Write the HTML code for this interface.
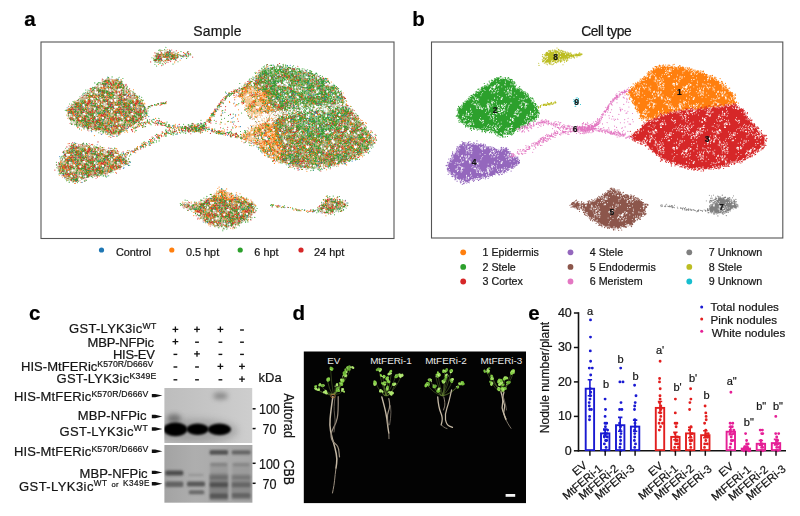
<!DOCTYPE html>
<html><head><meta charset="utf-8"><title>Figure</title>
<style>html,body{margin:0;padding:0;background:#fff;}body{width:800px;height:516px;overflow:hidden;font-family:"Liberation Sans",sans-serif;}svg{display:block;filter:blur(0.35px);}text{paint-order:stroke;stroke:#222;stroke-width:.22px}text.w{stroke:none}</style>
</head><body>
<svg width="800" height="516" viewBox="0 0 800 516" font-family="'Liberation Sans', sans-serif">
<defs>
<pattern id="pw" width="64" height="64" patternUnits="userSpaceOnUse"><path transform="scale(.1)" d="M13 31h0m21-11h0m49 13h0m0-2h0m43 0h0m2-30h0m7 33h0m1-1h0m13-1h0m2-7h0m93 14h0m82-20h0m14-15h0m16-3h0m8 26h0m11-21h0m6 15h0m11 8h0m0-19h0m10 0h0m13-6h0m1 31h0m5-27h0m22-1h0m5 3h0m1 27h0m7-23h0m10 17h0m12-15h0m6 4h0m5 8h0m7 0h0m10-27h0m59 35h0m6-8h0m8-23h0m4 31h0m7-1h0m7-16h0m13 9h0m13-2h0m13-8h0m4 6h0m-576 54h0m28-32h0m8 27h0m5-32h0m15 0h0m9 18h0m5-13h0m2 4h0m7-4h0m5 7h0m1 4h0m21-16h0m84 22h0m10-14h0m9 18h0m10 3h0m14-18h0m4-5h0m2 27h0m8-21h0m1-6h0m0 23h0m21-15h0m97 20h0m13-5h0m3-28h0m6 16h0m24-4h0m11 16h0m2-6h0m18 5h0m11-9h0m8-13h0m7 3h0m1 27h0m1-1h0m1-21h0m9 23h0m16-24h0m0-1h0m8 17h0m4-16h0m7 9h0m4-11h0m8-9h0m13 15h0m1-16h0m10 8h0m4-4h0m4 6h0m-573 51h0m5 6h0m0 1h0m40-19h0m10 22h0m5-1h0m1-24h0m0 17h0m12-8h0m7 11h0m15 8h0m7-18h0m69 9h0m23-3h0m9-17h0m3-1h0m9-5h0m0 23h0m13-15h0m2 7h0m34 10h0m61 5h0m52-21h0m87-4h0m6-1h0m23-2h0m2 16h0m12-10h0m8 15h0m8-6h0m17-13h0m-552 37h0m1 3h0m4 22h0m1-14h0m19 6h0m0 16h0m4-21h0m2-14h0m5 3h0m24-3h0m7 2h0m47 30h0m0-9h0m2-5h0m3-8h0m3 9h0m4 9h0m32-10h0m9 12h0m8-27h0m14 24h0m53-19h0m61 25h0m23-10h0m2 8h0m27 1h0m6-19h0m1 22h0m1-32h0m13 17h0m6-15h0m4 14h0m19-12h0m71 28h0m15-31h0m7 31h0m5-1h0m23-15h0m-558 25h0m30-1h0m2 34h0m9 2h0m94-30h0m10 7h0m5-7h0m13 20h0m5-27h0m4 9h0m9-8h0m6 4h0m4-2h0m16 14h0m5-18h0m3 19h0m12-18h0m4 32h0m3 5h0m104-4h0m18-1h0m1-9h0m14 11h0m11-32h0m2 13h0m101 21h0m27-26h0m54 0h0m2 15h0m54 11h0m-627 35h0m8-26h0m14 11h0m8 16h0m1-2h0m2 6h0m24-4h0m0-2h0m6-29h0m24 30h0m19-11h0m70-12h0m5 20h0m2-3h0m10-1h0m0-25h0m6 14h0m5 15h0m2-14h0m3 17h0m16-24h0m1 1h0m1 24h0m3-20h0m2-2h0m3 7h0m3 17h0m87-34h0m9 9h0m7-11h0m1 18h0m2-10h0m85 16h0m4 13h0m31-10h0m19-26h0m10 18h0m43 10h0m30-23h0m4 4h0m58-3h0m-587 43h0m4-9h0m43 19h0m2-14h0m7 11h0m4-5h0m4 19h0m39 1h0m36-22h0m2 29h0m27-31h0m21 6h0m6-4h0m83 11h0m25-16h0m24 20h0m44 1h0m4-11h0m7-2h0m1-9h0m0 10h0m8 5h0m8 10h0m4-3h0m13-26h0m0 13h0m5-11h0m7 23h0m6 5h0m10-14h0m15 18h0m3-23h0m58 25h0m14-27h0m17-8h0m3 22h0m8-3h0m9-19h0m7 36h0m11-21h0m1-12h0m4-2h0m1 13h0m1 16h0m-612 19h0m20 24h0m76-10h0m0-3h0m1-3h0m29 11h0m14-28h0m5 3h0m3 14h0m11-12h0m3 30h0m1-18h0m0 7h0m17-9h0m23 14h0m99 7h0m7-18h0m11-13h0m86 4h0m20-1h0m10-1h0m5-2h0m27-5h0m3 32h0m81-21h0m8 26h0m2-30h0m18 26h0m0-5h0m1-26h0m4 11h0m5 13h0m9 0h0m4-25h0m1 16h0m2-16h0m3 30h0m-616 20h0m58 16h0m15 1h0m7 2h0m12 5h0m14-7h0m10-28h0m5 16h0m2 9h0m7-1h0m7-8h0m53-16h0m3 26h0m6 3h0m8-3h0m20 4h0m9 8h0m10-30h0m8 22h0m0-9h0m2 10h0m4-16h0m28 13h0m158-9h0m1 3h0m26 8h0m24-26h0m22 18h0m1-9h0m4 4h0m77-2h0m-551 29h0m27 24h0m14-12h0m1 7h0m12 3h0m14 4h0m9 5h0m92 0h0m10-11h0m11-18h0m26 13h0m17-18h0m7 37h0m87-6h0m5-31h0m8 34h0m28-26h0m5 28h0m6-22h0m4 0h0m10 10h0m23-7h0m77 16h0m23 3h0m43-6h0m2-1h0m-554 21h0m12 0h0m0-4h0m4 18h0m1 5h0m0 4h0m2-33h0m10 22h0m23 4h0m3 3h0m1-14h0m2 3h0m10 8h0m14-28h0m100 3h0m19 4h0m4 11h0m3 12h0m12-28h0m1 18h0m5-6h0m10 9h0m10-2h0m10 13h0m24 4h0m33-34h0m2 16h0m1-12h0m4 5h0m8-13h0m14 5h0m2 11h0m9 11h0m18-9h0m37-17h0m11 24h0m2-10h0m7 20h0m4 4h0m4-27h0m2 20h0m21-16h0m5 11h0m4 8h0m4-3h0m0-12h0m8 4h0m5-13h0m3 28h0m1-25h0m1 22h0m6-18h0m2-12h0m27 27h0m4-13h0m6-8h0m-579 65h0m6-3h0m10-8h0m6-10h0m1-5h0m2 27h0m7-18h0m4-2h0m63-16h0m52 31h0m0 4h0m3 1h0m38-24h0m2-10h0m9 28h0m53-31h0m2 4h0m25-2h0m28 9h0m32-9h0m4-2h0m4 29h0m21-20h0m1 18h0m2-14h0m2-7h0m2-7h0m57 38h0m2-4h0m13-19h0m26-3h0m2 13h0m5-2h0m11-14h0m6 7h0m3 2h0m8 13h0m3 1h0m6-16h0m3 8h0m2-6h0m8-1h0m2 11h0m24 4h0m5-23h0m-577 56h0m10-19h0m11-1h0m4 25h0m6 8h0m4-37h0m3 35h0m4-9h0m1 11h0m8-29h0m14-7h0m6-2h0m60 30h0m27 2h0m6-32h0m1 20h0m4 15h0m15-7h0m4 6h0m16-33h0m11 37h0m5-24h0m133-10h0m28 32h0m14-17h0m1 14h0m9-22h0m30 4h0m15-6h0m2-2h0m3 8h0m10 4h0m0-18h0m3 20h0m16-16h0m19 21h0m24-7h0m19-11h0m17 23h0m-581 47h0m3-12h0m2 1h0m5 10h0m7-21h0m38-13h0m67 36h0m17-15h0m24-11h0m1 3h0m20 5h0m19 14h0m22-33h0m88 32h0m8-18h0m97 15h0m3-29h0m5 13h0m6 11h0m19 6h0m0-18h0m3-4h0m3 21h0m1-30h0m23 15h0m142 9h0m1-8h0m0 7h0m4 5h0m-629 15h0m1 1h0m2 0h0m13 7h0m87 23h0m28-23h0m21-1h0m7-3h0m3 5h0m9-11h0m5 1h0m2 4h0m23 29h0m10-3h0m6 4h0m2-12h0m6-21h0m14 16h0m3-17h0m10 28h0m65-30h0m7 5h0m10 7h0m11 19h0m8-8h0m100-14h0m16 12h0m15-17h0m18 27h0m28-11h0m65-12h0m22 10h0m-613 33h0m1 24h0m75-13h0m15-1h0m15 16h0m19-29h0m11 19h0m9-16h0m51-5h0m6 16h0m0-20h0m3 17h0m4 15h0m7-33h0m32 5h0m5-4h0m102 28h0m26 2h0m7-20h0m10-9h0m13 18h0m5-4h0m18 11h0m5-6h0m10-11h0m12 22h0m1 3h0m8 2h0m0-20h0m6 2h0m9 15h0m6-35h0m17 35h0m4 2h0m1-19h0m1 4h0m17-10h0m74 24h0m22-15h0m3-7h0m1 21h0m-48 4h0" stroke="#fff" stroke-width="9.0" stroke-linecap="round" fill="none"/><path transform="scale(.1)" d="M157 19h0m6 6h0m259 11h0m56-33h0m125 5h0m-306 61h0m266 3h0m10-28h0m-519 59h0m61-22h0m398 19h0m-476 46h0m62-9h0m192-14h0m-89 65h0m133 8h0m34 8h0m84 28h0m14-1h0m3-16h0m37-7h0m-367 71h0m460-11h0m-416 49h0m25-37h0m9 53h0m75 20h0m241-2h0m-94 36h0m-301 15h0m131 1h0m131 31h0m0-15h0m137-6h0m-220 28h0m21 7h0m163 12h0m35 13h0m-506 30h0m174-7h0m244 19h0m70-29h0m-512 72h0m142-32h0m201 40h0m272 14h0m-413 55h0m20-33h0m402 35h0" stroke="#fff" stroke-width="17.0" stroke-linecap="round" fill="none"/></pattern>
<pattern id="pm" width="48" height="48" patternUnits="userSpaceOnUse"><rect width="48" height="48" fill="#a9ae7a"/><path transform="scale(.1)" d="M352 10h0m122-6h0m-465 66h0m46-10h0m264-18h0m59 27h0m0-2h0m9 3h0m3-26h0m76 32h0m-455 41h0m200-28h0m13-6h0m4 19h0m216-7h0m-429 28h0m6 13h0m31 6h0m3 12h0m49-21h0m68 16h0m7-22h0m15 27h0m166 4h0m25-13h0m37 7h0m25-19h0m-357 27h0m18 27h0m223-1h0m4 9h0m-300 42h0m13-1h0m7 2h0m233-27h0m109 7h0m23 2h0m38-8h0m-376 51h0m82-19h0m37 35h0m35-24h0m11-6h0m41 17h0m44-1h0m35-4h0m14-17h0m8-2h0m41 26h0m-384 28h0m108 3h0m4 3h0m27 6h0m24 3h0m45-13h0m7 6h0m12-18h0m37 16h0m7 11h0m6 3h0m-241 7h0m108 11h0m77 13h0m108 9h0m14-19h0m7 16h0m5 5h0m15-20h0m26-12h0m15 15h0m9 10h0m-360 16h0m115 10h0m132-8h0m3 7h0m-320 43h0m105 2h0m200-6h0m99 15h0m-440 11h0m44 37h0m68-20h0m44-2h0m97-5h0m111-1h0m25-2h0m51 14h0m11-17h0" stroke="#1f77b4" stroke-width="11.5" stroke-linecap="round" fill="none"/><path transform="scale(.1)" d="M6 35h0m0-7h0m6 11h0m0-32h0m1 4h0m9 25h0m0-27h0m11 7h0m70-8h0m11 12h0m20-3h0m20 6h0m4 0h0m8-11h0m138-9h0m85 14h0m4 17h0m30-14h0m5 9h0m7 1h0m25-8h0m5-17h0m-411 38h0m2 21h0m22 9h0m26-5h0m7-2h0m0-21h0m29-3h0m5 23h0m1 0h0m46-13h0m17 9h0m9 11h0m7-22h0m0 12h0m7 6h0m2 8h0m19-26h0m57-1h0m43 26h0m20-29h0m8 20h0m2-23h0m5 24h0m13-14h0m19 10h0m8-2h0m22 15h0m21 0h0m2-12h0m7-2h0m-478 53h0m15-13h0m6-15h0m5-5h0m46 36h0m4-5h0m12-22h0m9-2h0m64 11h0m65-4h0m57-16h0m2 14h0m18 15h0m65-25h0m1 26h0m14-21h0m2 17h0m9-10h0m15 9h0m27 10h0m10-2h0m17-4h0m8-5h0m7-5h0m-451 27h0m132 21h0m2-18h0m0 3h0m9-7h0m5 27h0m24-7h0m15-7h0m41 2h0m7 6h0m1-19h0m4 20h0m14-22h0m42 14h0m57 7h0m11-6h0m14-4h0m10 11h0m10 10h0m28-28h0m25 17h0m-422 29h0m12 24h0m0-20h0m19-13h0m3 28h0m3-30h0m2 14h0m22-13h0m29-4h0m15 0h0m6 15h0m6-4h0m22 5h0m50-15h0m18 27h0m64-21h0m6-6h0m8 34h0m73-11h0m49 12h0m-460 28h0m13-25h0m5 25h0m0-16h0m2 13h0m10-7h0m39 15h0m79-1h0m38 0h0m15 0h0m17 5h0m36-21h0m44 20h0m2-16h0m10-10h0m21 0h0m11-7h0m13 14h0m40 18h0m1-9h0m0-1h0m4 9h0m54-12h0m2 4h0m11-7h0m3 10h0m-468 40h0m1-21h0m10-5h0m0 24h0m2 3h0m0 11h0m52-24h0m1 18h0m1-30h0m50 8h0m15 6h0m12 17h0m9 3h0m12 2h0m32-23h0m66 2h0m12 9h0m21-18h0m15 13h0m2-2h0m13 10h0m68 7h0m2-5h0m16 4h0m2-20h0m38-5h0m16-7h0m3 24h0m-477 48h0m55-9h0m20-16h0m19-3h0m1-1h0m78-6h0m13 13h0m1 5h0m51-9h0m36-2h0m11 2h0m39-8h0m17 35h0m2-32h0m23 0h0m15 3h0m31-4h0m16 2h0m-401 66h0m14-18h0m35-11h0m35 18h0m1-2h0m13 14h0m16-22h0m2 1h0m22-5h0m63 15h0m17-4h0m21 4h0m17 9h0m47-4h0m26-21h0m38 16h0m21 5h0m14-11h0m15 9h0m-412 48h0m5 5h0m30-17h0m4 11h0m39-15h0m6 11h0m2-25h0m8 2h0m28 18h0m2-15h0m16-5h0m2 31h0m16 6h0m33-1h0m99-12h0m19-21h0m15 13h0m30 15h0m39-17h0m10-15h0m30 20h0m-464 43h0m3-18h0m12-6h0m6 7h0m2-3h0m11-4h0m7 28h0m13-6h0m48 7h0m21-3h0m61 7h0m27-6h0m18 11h0m10-33h0m5 19h0m2-16h0m24 8h0m23 10h0m60-10h0m30-6h0m70 12h0m9 13h0m-442 31h0m3-13h0m9 20h0m9-1h0m2-18h0m3-10h0m59 18h0m15-4h0m1-15h0m6 18h0m15 7h0m1-11h0m20-15h0m27 26h0m27 9h0m4-17h0m15-14h0m15 33h0m52-24h0m14 16h0m11 3h0m21 2h0m39-27h0m22 29h0m19-28h0m4 6h0m9 15h0m10-16h0m23 21h0" stroke="#ff7f0e" stroke-width="11.5" stroke-linecap="round" fill="none"/><path transform="scale(.1)" d="M4 18h0m4 21h0m21-28h0m5 8h0m77 14h0m1-13h0m7-9h0m41 27h0m1-8h0m34-24h0m28 14h0m7 9h0m13-11h0m22-3h0m2 8h0m37 13h0m9-9h0m29 1h0m7 7h0m21-8h0m1-15h0m47 1h0m29 12h0m2 14h0m4-14h0m5-6h0m-453 23h0m16 19h0m9-11h0m3-9h0m10 28h0m54-22h0m0 22h0m1 10h0m13-20h0m14-3h0m16 1h0m0-2h0m33 16h0m5-24h0m4 2h0m5 26h0m15-11h0m5 10h0m4-18h0m15 17h0m5-5h0m0-13h0m41 24h0m20-6h0m6-29h0m3 33h0m2-33h0m13 34h0m1-30h0m20 27h0m11-14h0m15 3h0m0 10h0m21 0h0m6-33h0m15 17h0m17 0h0m5 0h0m18-9h0m12 18h0m3-26h0m1 4h0m-459 53h0m1 14h0m4 6h0m25-12h0m1 11h0m16-7h0m12-21h0m1-1h0m20 11h0m10 9h0m7 7h0m43-1h0m16-6h0m28 0h0m14-16h0m1 9h0m0-14h0m7-2h0m3 3h0m11 30h0m2-9h0m13-9h0m8-10h0m6-3h0m10 14h0m11-14h0m1 18h0m1 1h0m3-15h0m9 25h0m10-31h0m7 30h0m4-26h0m16-1h0m7-4h0m0 29h0m6-11h0m13-8h0m10-8h0m31 28h0m8-24h0m4 16h0m6-5h0m27 12h0m5-16h0m28 19h0m-451 6h0m7 14h0m3 1h0m20-14h0m19 10h0m16-11h0m10 32h0m3-26h0m7 14h0m8 10h0m2 3h0m2 3h0m23-29h0m13 26h0m11 4h0m5-10h0m13-29h0m20 1h0m6 31h0m0 4h0m2-23h0m21 0h0m8-8h0m23 17h0m2-9h0m4-3h0m0 9h0m5-4h0m3-7h0m2 14h0m11 1h0m4-19h0m27 33h0m5-31h0m1 3h0m6 21h0m13-20h0m27 23h0m0-2h0m4 3h0m11-1h0m10 0h0m7-28h0m10 10h0m28 7h0m14 6h0m2-2h0m3-2h0m1-5h0m8 19h0m1-12h0m-458 48h0m10-17h0m14 0h0m6-9h0m0 27h0m8-34h0m7 30h0m9-21h0m2 6h0m9 14h0m1-6h0m6-11h0m22-6h0m2 18h0m8-7h0m22-1h0m17-16h0m3 33h0m21-19h0m7-13h0m53 0h0m23-2h0m2 4h0m12 5h0m35 8h0m24-6h0m7 5h0m2-12h0m2 14h0m2-2h0m4-2h0m9-9h0m2 33h0m2-11h0m22-11h0m17-9h0m10 12h0m18-13h0m6 9h0m6-9h0m2-3h0m11-1h0m-446 57h0m9-10h0m1-7h0m8 0h0m7 10h0m4 3h0m12 11h0m2-26h0m4 1h0m121 24h0m15 12h0m13-12h0m35 6h0m21-5h0m15-24h0m2 35h0m3-30h0m3 12h0m12 5h0m12-12h0m5-9h0m4 19h0m72 7h0m11-8h0m4 11h0m2-4h0m10-15h0m8-11h0m19 17h0m15 3h0m-449 44h0m40-6h0m18-6h0m2 1h0m0-9h0m18 16h0m20-15h0m17-4h0m3 13h0m11 4h0m33-13h0m26 20h0m33-10h0m3-15h0m37 12h0m6 22h0m9-17h0m8 12h0m9-29h0m3 17h0m0 6h0m9-21h0m0 7h0m8 3h0m10-7h0m20 31h0m6-27h0m12 1h0m5-8h0m5 18h0m1-6h0m6 7h0m1-22h0m3 1h0m7 9h0m5-8h0m4 14h0m-406 39h0m11-10h0m29 9h0m5-14h0m14 36h0m26-6h0m1-16h0m3 14h0m5-5h0m5 8h0m45-21h0m2-9h0m7 3h0m8-1h0m21 13h0m17-10h0m3 26h0m2-31h0m7 19h0m23 4h0m31-9h0m5 0h0m8 15h0m5 7h0m8-29h0m10 22h0m7-6h0m7-3h0m17 6h0m7-3h0m31-6h0m3-10h0m16 24h0m56 1h0m9-15h0m17-9h0m-472 52h0m16 17h0m0-25h0m7 2h0m2 19h0m1 4h0m1-33h0m6 24h0m28 2h0m3-1h0m0-1h0m17-14h0m3-1h0m2-9h0m7-6h0m7 7h0m13 18h0m7 14h0m13-7h0m1-5h0m4 4h0m5 2h0m20-3h0m2 8h0m12-9h0m4-18h0m12 5h0m23-9h0m5 15h0m31 1h0m1 8h0m21-12h0m7 4h0m6-8h0m9-2h0m25 24h0m13-29h0m10 8h0m3 9h0m3 4h0m2 7h0m3-16h0m2 5h0m0 4h0m3-21h0m5-3h0m12 0h0m13-2h0m8 12h0m9 12h0m33-18h0m15 15h0m10-5h0m13-6h0m-446 54h0m4-19h0m17 6h0m21-7h0m5-4h0m24 10h0m4-6h0m4 7h0m37-1h0m0 22h0m42-34h0m33 36h0m29-15h0m11-12h0m14 9h0m20 1h0m35 17h0m6-17h0m8-12h0m2 5h0m16-4h0m13-1h0m1 11h0m1-4h0m3 6h0m29 9h0m4-22h0m12-4h0m7 12h0m17-4h0m19 24h0m-465 27h0m7-5h0m2-17h0m23 20h0m38-21h0m19 6h0m21 16h0m2-9h0m1 25h0m6 0h0m15-29h0m2 30h0m1-32h0m6 6h0m3 10h0m2-3h0m2-7h0m7 9h0m24-22h0m31 7h0m0-3h0m10 27h0m1-14h0m1-15h0m10 3h0m2 32h0m6-25h0m14 2h0m3-14h0m5 31h0m1-9h0m3 10h0m6-20h0m5-8h0m0-3h0m53 17h0m0-18h0m20 7h0m31 24h0m3-3h0m1-8h0m14-7h0m8 25h0m7-28h0m47 16h0m2 9h0m7-11h0m-442 53h0m2-8h0m6-9h0m7-16h0m0 16h0m26-4h0m9-8h0m1 23h0m19-16h0m12-5h0m1 20h0m11-12h0m9 7h0m9-19h0m1 29h0m19-6h0m2-4h0m3 9h0m3-2h0m5-25h0m5 8h0m7 2h0m8 15h0m14-10h0m6 11h0m19 6h0m5-4h0m13-30h0m2 33h0m8-29h0m1 1h0m2-9h0m4 19h0m9-1h0m1-8h0m15 14h0m4 5h0m1-30h0m6 12h0m7 17h0m0 6h0m4-33h0m8 10h0m1 8h0m7 1h0m52 5h0m3 13h0m71-7h0m4 4h0m4-25h0" stroke="#2ca02c" stroke-width="11.5" stroke-linecap="round" fill="none"/><path transform="scale(.1)" d="M5 31h0m5 5h0m2-14h0m11 3h0m15 4h0m20-11h0m2 2h0m7 7h0m66 4h0m74-27h0m0 20h0m4-5h0m14-15h0m0 13h0m4 5h0m82 0h0m30-5h0m50 11h0m7-27h0m6 34h0m17-5h0m43-26h0m-462 60h0m7-19h0m12 34h0m11-17h0m11-5h0m13 0h0m4 22h0m1-3h0m7-20h0m19 20h0m85-24h0m47 26h0m25-23h0m9 20h0m2-14h0m34-6h0m14 12h0m26-27h0m23 32h0m19-14h0m12-5h0m29 0h0m8-13h0m20 5h0m10-3h0m1 23h0m2 1h0m17-26h0m1 11h0m-469 37h0m8 22h0m1-2h0m16-15h0m21 0h0m21-7h0m29 0h0m28 16h0m60 11h0m2-23h0m5-4h0m17-1h0m5 17h0m101-20h0m38 7h0m29 14h0m2 12h0m26-23h0m23-4h0m20-3h0m0 2h0m4-3h0m-414 46h0m18 26h0m17-35h0m9 30h0m14 8h0m10-2h0m34-15h0m11 11h0m12-25h0m9 13h0m18-17h0m105 11h0m10-2h0m3 13h0m15-25h0m5 19h0m14 18h0m27-38h0m28 31h0m20 3h0m1-25h0m28 9h0m-423 46h0m17-2h0m20-7h0m8 0h0m24 15h0m5-23h0m14-1h0m14 10h0m3 15h0m9-15h0m11 17h0m27 1h0m16-31h0m8 29h0m36 4h0m60-32h0m18-3h0m1 29h0m23-21h0m29 11h0m56 11h0m26-2h0m21-5h0m-465 52h0m11-30h0m14 20h0m11-15h0m14 17h0m1-8h0m35 11h0m20-20h0m34 4h0m18 8h0m1 11h0m62-13h0m3 12h0m76 2h0m17-12h0m47-1h0m8 4h0m0 8h0m5-14h0m37 7h0m2-12h0m13-13h0m26 2h0m-452 54h0m43 20h0m14-3h0m17-24h0m118 4h0m32 4h0m5-8h0m55-2h0m19 26h0m25-26h0m25-5h0m29 0h0m1 17h0m13 0h0m9 2h0m9 16h0m12-33h0m8 14h0m16 7h0m-432 28h0m1-5h0m17 3h0m34 17h0m12-27h0m9 18h0m8 13h0m30-32h0m33 12h0m8 25h0m22-39h0m8 14h0m52-4h0m19 15h0m10-15h0m10 14h0m9 11h0m34-3h0m16 2h0m46-23h0m-406 43h0m14 10h0m49-20h0m11 31h0m9 2h0m6-28h0m16 2h0m18 15h0m7-25h0m9 3h0m1 16h0m12-9h0m0 25h0m19-15h0m9 5h0m3 11h0m30-21h0m32 7h0m1 14h0m2-33h0m44 4h0m67 13h0m5-7h0m2-13h0m37 30h0m20 3h0m7-1h0m38-15h0m-426 54h0m2 5h0m3-33h0m12 8h0m9 15h0m15-23h0m34-1h0m26 2h0m6 5h0m12-2h0m11 26h0m0-16h0m3 16h0m11 3h0m0-4h0m76-22h0m0-3h0m10 17h0m15 9h0m5-32h0m23 28h0m13-5h0m15-14h0m26-9h0m29 10h0m8 24h0m17-20h0m44-9h0m8-6h0m-448 73h0m31-28h0m9-3h0m2 5h0m29 6h0m27 24h0m3-36h0m3 29h0m12 2h0m12-2h0m16 0h0m3-3h0m16-8h0m53 0h0m10 13h0m16 5h0m3-32h0m12 28h0m55-5h0m5-25h0m11-3h0m6 10h0m18-2h0m1 6h0m11 2h0m52 9h0m5-5h0m20 4h0m1 12h0m-450 38h0m50 4h0m5-1h0m0-4h0m12-8h0m0-4h0m9 0h0m5-8h0m9 23h0m62-12h0m3-16h0m23 22h0m2-16h0m0 8h0m45-15h0m11 7h0m5-1h0m45 5h0m0 16h0m7-18h0m1 10h0m14-23h0m1 2h0m60 4h0m16 24h0m5-16h0m38-17h0" stroke="#d62728" stroke-width="11.5" stroke-linecap="round" fill="none"/><path transform="scale(.1)" d="M8 24h0m7-15h0m25-6h0m16 33h0m24 2h0m41-11h0m2-12h0m8 23h0m28-4h0m1-22h0m9 3h0m25 6h0m1-20h0m8 18h0m12 6h0m4-22h0m2 27h0m1-24h0m8 21h0m7 8h0m2-28h0m83 13h0m50 3h0m49 16h0m7-22h0m12 21h0m3-10h0m14-1h0m14 8h0m6-5h0m2-10h0m-450 54h0m8-22h0m1 11h0m16 4h0m10-23h0m38 24h0m3-24h0m35 12h0m6 14h0m43-13h0m27 9h0m18 8h0m14-32h0m40 25h0m2-4h0m72 14h0m27-24h0m12 25h0m58-1h0m-445 14h0m73 19h0m15-17h0m17 2h0m12 1h0m31 17h0m12-28h0m74 27h0m5-18h0m6 21h0m2-35h0m6 30h0m19 7h0m9-12h0m2 5h0m23-22h0m28-5h0m0 15h0m2 9h0m35-7h0m5-19h0m2 3h0m1 25h0m5 8h0m32-17h0m13-7h0m8-12h0m2 5h0m-450 73h0m54-4h0m14-30h0m1 26h0m4-31h0m19 8h0m12 21h0m24 7h0m9-8h0m14-18h0m4-4h0m31 0h0m8 11h0m15 1h0m4 8h0m48 7h0m88 6h0m14-1h0m13-21h0m21-11h0m21 23h0m1-22h0m1-6h0m18 35h0m6-16h0m22 11h0m-458 23h0m42-11h0m6 14h0m18 2h0m37 1h0m9-4h0m2 20h0m21-22h0m3-2h0m6-7h0m9 28h0m8-33h0m31 18h0m19-12h0m89 33h0m28-22h0m1 16h0m38-28h0m40 15h0m14-15h0m8-5h0m3 14h0m10 9h0m10-18h0m-437 39h0m13 22h0m49-21h0m2 33h0m22-32h0m30 27h0m52-19h0m26-9h0m25 11h0m55 19h0m4-21h0m21 1h0m89 12h0m2 9h0m13 2h0m5-25h0m2-6h0m4 0h0m17 31h0m-441 40h0m7-38h0m16 32h0m9-19h0m12-9h0m0 11h0m3 6h0m21 14h0m2-26h0m2 0h0m7 6h0m25-14h0m24 24h0m10-6h0m21-14h0m6 1h0m52 12h0m5 9h0m14-20h0m18 10h0m32-16h0m14 6h0m23 11h0m2-2h0m16-14h0m0 13h0m20 24h0m33-18h0m20-16h0m-404 61h0m12-23h0m77 2h0m114 17h0m16 17h0m10-3h0m17-23h0m1-5h0m25 9h0m3-11h0m2-3h0m26 9h0m49-3h0m61 30h0m4-5h0m12 1h0m5 4h0m9-13h0m-458 51h0m15 1h0m3-18h0m7 0h0m25 4h0m2-10h0m6-10h0m11 33h0m4-35h0m6 27h0m6-5h0m12 3h0m0-10h0m21 9h0m38-23h0m10 25h0m8-13h0m15 15h0m3-8h0m22-9h0m7 2h0m74 1h0m29 11h0m2 5h0m11-9h0m26-1h0m6-13h0m2 1h0m0-7h0m19 19h0m6-9h0m10 20h0m1-20h0m3-8h0m12 24h0m25-29h0m9 31h0m-440 15h0m24 27h0m4-33h0m6 29h0m5-25h0m108 30h0m37-28h0m7 5h0m4 22h0m38-8h0m2-1h0m2 12h0m12-3h0m46-5h0m1-26h0m20 22h0m13-1h0m2 3h0m27-10h0m39-4h0m27-1h0m6-1h0m19-2h0m-463 38h0m0 18h0m35-1h0m11-21h0m15 25h0m67 4h0m6 2h0m6-6h0m56-20h0m37 19h0m22 13h0m20-15h0m39 13h0m44-36h0m22 30h0m11-11h0m45-9h0m-427 32h0m3 32h0m2 0h0m47-31h0m3 33h0m4-12h0m13-17h0m51 21h0m4-22h0m4 2h0m12 16h0m14-19h0m17 14h0m48 7h0m52-5h0m9-14h0m5 9h0m29-11h0m80-1h0m2 23h0m12 10h0m15-31h0" stroke="#d62728" stroke-width="11.5" stroke-linecap="round" fill="none"/><path transform="scale(.1)" d="M118 18h0m0 13h0m142-28h0m173 14h0m-371 44h0m41-18h0m132 21h0m8-17h0m74 15h0m36 9h0m32-6h0m2-10h0m20 20h0m5-34h0m-380 43h0m12 27h0m41 1h0m22-5h0m107-25h0m63 15h0m29-10h0m45 8h0m20 4h0m-267 55h0m51-1h0m130-17h0m168-16h0m-449 68h0m22 5h0m51-5h0m18 6h0m127-27h0m86 7h0m32 7h0m-319 58h0m13-3h0m112-10h0m8-7h0m138-8h0m4 15h0m15-14h0m135 23h0m-356 9h0m29 19h0m30-6h0m135-5h0m24-7h0m33 10h0m24 20h0m84-18h0m-401 35h0m59-12h0m84 8h0m67 6h0m52-11h0m170-1h0m-424 69h0m57-31h0m26 0h0m21 16h0m23 19h0m9-33h0m0 8h0m146 2h0m12 15h0m90-3h0m32-5h0m-333 24h0m204 15h0m4 12h0m27-14h0m28 18h0m46-30h0m-441 39h0m61 18h0m36-3h0m41-12h0m55 9h0m100-9h0m62 26h0m3-29h0m27 9h0m-290 61h0m33-33h0m3 8h0m66 25h0m39 2h0" stroke="#1f77b4" stroke-width="11.5" stroke-linecap="round" fill="none"/><path transform="scale(.1)" d="M69 31h0m36-29h0m6 18h0m3 9h0m9 5h0m45-5h0m7 4h0m0-8h0m40 5h0m9-16h0m17-13h0m0 9h0m50 0h0m16 10h0m52 17h0m40-8h0m11 6h0m11-3h0m23-18h0m-443 47h0m0 12h0m41 0h0m33-26h0m2 30h0m4-32h0m10 8h0m49-8h0m16-3h0m1 8h0m13 26h0m4-8h0m15-11h0m4 3h0m11-10h0m21-8h0m30 5h0m9 32h0m22-6h0m27-15h0m38 11h0m13 0h0m6-18h0m29 8h0m16 13h0m27 2h0m3-3h0m32-18h0m-449 30h0m46 22h0m11-23h0m16 18h0m75 13h0m32 5h0m0-37h0m8 32h0m21-16h0m13-5h0m11 21h0m7-14h0m9 1h0m13-18h0m3 8h0m14 20h0m5-4h0m48 1h0m12 10h0m9-14h0m25 5h0m3 2h0m11-9h0m18 16h0m-337 11h0m7 29h0m36-22h0m8-3h0m9 19h0m3-21h0m34-1h0m43 10h0m0-15h0m16 14h0m39-12h0m13 19h0m12 11h0m0-20h0m29-4h0m5 10h0m34 0h0m62-14h0m2-3h0m-440 64h0m6 10h0m34-7h0m23-29h0m22 2h0m17 1h0m14 1h0m87-4h0m16 21h0m18 14h0m2-6h0m3-24h0m31 29h0m11-2h0m46-25h0m1-5h0m21 34h0m41-8h0m35-13h0m10 17h0m23-4h0m0 3h0m-467 33h0m47-22h0m13 13h0m54-16h0m27-2h0m10 6h0m2 5h0m40 14h0m57-3h0m59 17h0m13-21h0m1-1h0m1-10h0m3 23h0m40-5h0m31 12h0m0-33h0m17 21h0m9 8h0m35 6h0m0-30h0m6-2h0m-427 41h0m21 8h0m2-10h0m2 15h0m1-18h0m6 3h0m22-2h0m11-2h0m13 8h0m9 7h0m10 22h0m3-17h0m11-4h0m34 14h0m45-11h0m45-12h0m10 27h0m34-28h0m29-2h0m21 8h0m21-13h0m15 0h0m3 15h0m5 11h0m23-15h0m2-1h0m7 5h0m24-10h0m-396 60h0m71-12h0m7-4h0m10 29h0m17-30h0m27 28h0m1-14h0m43-12h0m25-5h0m12 31h0m41-30h0m35 25h0m1 7h0m1-24h0m12-12h0m9 34h0m10-29h0m-354 46h0m27-1h0m24 25h0m4-1h0m16-30h0m7 11h0m21 7h0m39-18h0m3 8h0m2-5h0m12-10h0m14 20h0m82 19h0m11-39h0m39 29h0m8-11h0m2 18h0m4-27h0m4 24h0m1-15h0m11 11h0m69-6h0m23 4h0m8-14h0m-439 29h0m21 34h0m28-23h0m12-8h0m16-4h0m27 0h0m18 17h0m69 6h0m84 9h0m6 0h0m7-4h0m2-8h0m30-18h0m48 10h0m0-6h0m3 15h0m17-3h0m9 15h0m6-12h0m16-6h0m1 12h0m12-24h0m8 3h0m-475 63h0m28-11h0m10 19h0m51-23h0m3 15h0m15-6h0m7 13h0m8 0h0m26-23h0m9 20h0m13 5h0m2-38h0m1 38h0m71-8h0m21-8h0m8 14h0m3-15h0m3 3h0m3 10h0m21 3h0m2-31h0m5 3h0m11 28h0m20-9h0m11 1h0m7-16h0m96-7h0m19 32h0m-449 39h0m6-36h0m21 3h0m15 8h0m6 19h0m14 7h0m3-23h0m33-12h0m25 16h0m20-11h0m16 28h0m44-31h0m7 24h0m22-29h0m36 27h0m57-2h0m13-20h0m10-2h0m22 7h0m10 22h0m1-12h0m2 14h0m5-12h0m8 14h0m7-29h0m17 21h0" stroke="#ff7f0e" stroke-width="11.5" stroke-linecap="round" fill="none"/><path transform="scale(.1)" d="M11 13h0m5 10h0m13 8h0m5-9h0m4-1h0m26-16h0m22 19h0m11-6h0m20-5h0m11-10h0m13-1h0m2 36h0m4-16h0m6 5h0m4 7h0m32-33h0m16 38h0m1-10h0m3-25h0m7 0h0m10 11h0m5 7h0m6 8h0m5-18h0m22-8h0m3 14h0m13 8h0m8-15h0m2 14h0m13 4h0m2 3h0m8-19h0m5-12h0m6 30h0m1-22h0m77 3h0m4 16h0m1 11h0m18-38h0m5 9h0m7 24h0m8-12h0m28 14h0m-472 40h0m2-1h0m3-20h0m12 4h0m10 5h0m1 3h0m6 3h0m10-6h0m10-1h0m1-11h0m37-3h0m21 4h0m17-10h0m26-2h0m2 22h0m6-22h0m2 17h0m18-14h0m3 26h0m8-8h0m9-2h0m12 19h0m6-35h0m11 34h0m10 1h0m4-28h0m11 26h0m24-33h0m16 26h0m2-28h0m5 9h0m20-5h0m26 7h0m13 10h0m14 5h0m3-8h0m6-6h0m3-11h0m5 1h0m16 14h0m13-3h0m38 10h0m1-11h0m8 18h0m-461 31h0m12 1h0m21 2h0m28-15h0m9 23h0m6-20h0m8 5h0m9-9h0m4 11h0m5 6h0m11-24h0m2 4h0m55 23h0m24-18h0m6-1h0m8-11h0m4 31h0m30 7h0m2-8h0m1-3h0m5-3h0m1-19h0m15 15h0m4-7h0m3 20h0m13-20h0m8-13h0m11 30h0m3 1h0m9-22h0m6 13h0m6-14h0m9 26h0m28-15h0m29 8h0m10-14h0m1 18h0m0-10h0m2-4h0m5 6h0m12 3h0m8-9h0m8-15h0m4 24h0m4-19h0m14 28h0m-465 23h0m14-9h0m0 24h0m2-10h0m4-22h0m2 3h0m17 4h0m1 23h0m14-24h0m1 20h0m1-21h0m14 30h0m5-24h0m17-8h0m6 1h0m3 34h0m13-15h0m26-23h0m6 11h0m2 20h0m4-19h0m12 4h0m7 9h0m4-23h0m8 26h0m14-20h0m1 18h0m49 2h0m12-17h0m8 23h0m9-22h0m1 8h0m1-8h0m13-13h0m6 5h0m6 16h0m3 6h0m3-10h0m13 16h0m8-29h0m21 18h0m31-13h0m39 24h0m7-10h0m2 16h0m13-32h0m10 12h0m1 4h0m9 8h0m-466 39h0m1 5h0m8-2h0m6-9h0m8-9h0m12 1h0m2-4h0m7 22h0m10-27h0m3-4h0m20 17h0m5-6h0m3 1h0m8-9h0m9 6h0m40 25h0m41-21h0m25 4h0m14-1h0m7 11h0m8 7h0m20-25h0m8-3h0m3 25h0m14-20h0m44 12h0m3-23h0m28 2h0m2 26h0m54 3h0m5-22h0m35 18h0m-455 33h0m8 2h0m3-21h0m3 15h0m31 10h0m29-19h0m42 3h0m8 12h0m14 6h0m1 4h0m37-17h0m7 13h0m29-17h0m16 18h0m15-23h0m6-8h0m4 5h0m18 27h0m7-24h0m41 13h0m12-2h0m2-18h0m3 16h0m3 7h0m69 10h0m3-10h0m4-21h0m2 5h0m7 11h0m1 10h0m16-29h0m21 17h0m2-10h0m-461 50h0m18-1h0m29 2h0m10-1h0m22 4h0m8-17h0m21 4h0m10 7h0m9-2h0m25 23h0m21-35h0m13 33h0m9-21h0m1-1h0m3-2h0m21 7h0m2 6h0m1 1h0m1-11h0m9-7h0m3-7h0m11 19h0m10-17h0m1 12h0m13 21h0m0-25h0m6 17h0m18 10h0m2-8h0m17-15h0m0-10h0m19 4h0m11 23h0m8-4h0m9-27h0m11 28h0m21 7h0m18-15h0m33-12h0m4 16h0m7 2h0m1-7h0m3 6h0m0-18h0m11-3h0m-469 72h0m18-30h0m8 33h0m28-31h0m12 20h0m0 8h0m9 3h0m1-31h0m0 24h0m2-6h0m20-2h0m11 13h0m0-36h0m2 36h0m45-15h0m18 0h0m11-13h0m13-2h0m3 20h0m4 11h0m4-2h0m8-5h0m21-24h0m18 19h0m19-12h0m14 15h0m22-28h0m7-1h0m34 24h0m16-13h0m3 28h0m9-35h0m9 25h0m0 4h0m3-32h0m3 17h0m0 17h0m3-34h0m4 25h0m10-18h0m5 6h0m7 4h0m17 19h0m2-25h0m4 22h0m1 3h0m-451 14h0m37-5h0m14-6h0m7 7h0m25 15h0m14-17h0m5 11h0m3 19h0m4-22h0m2 5h0m6 3h0m10 16h0m6-29h0m7-2h0m40 25h0m1 3h0m6-19h0m5 4h0m8-12h0m5 23h0m2-24h0m2 22h0m8-8h0m28 12h0m7-1h0m7-10h0m3 9h0m17-19h0m2-10h0m55 19h0m4-15h0m1 24h0m4-22h0m4 12h0m10-1h0m52-14h0m19 8h0m0 25h0m4-12h0m40 12h0m-469 9h0m0 32h0m6-36h0m1 8h0m17 15h0m25-4h0m4 9h0m3-14h0m2-2h0m17-1h0m8 17h0m0-25h0m13-2h0m38 6h0m2 0h0m21 28h0m6-25h0m4 6h0m9 16h0m7-23h0m8 4h0m25 12h0m9 8h0m6-9h0m18 12h0m12-35h0m10 21h0m12-20h0m7 23h0m8-3h0m0-11h0m35 6h0m19 5h0m8-23h0m4 22h0m16-17h0m3 23h0m7 10h0m-380 18h0m1-8h0m12 1h0m25 16h0m1-7h0m2-10h0m24 10h0m5-12h0m32 26h0m15-3h0m1-3h0m7 7h0m5-23h0m8 4h0m1-5h0m11 28h0m60-23h0m8 22h0m2-25h0m3 1h0m2 7h0m2 3h0m5-12h0m4 6h0m5-4h0m18 26h0m4-38h0m19 14h0m9 21h0m7-9h0m0-4h0m10-6h0m13 4h0m35-11h0m5 16h0m1 10h0m6-17h0m21 19h0m12-18h0m23-9h0m8 18h0m2-20h0m7 1h0m18 7h0m-459 45h0m6-14h0m16-4h0m0-1h0m6 32h0m3-1h0m19-20h0m6 24h0m13-5h0m7-3h0m4 2h0m4 2h0m16-25h0m2-9h0m1 22h0m17 17h0m33-23h0m18 14h0m9 1h0m91-27h0m4 4h0m11 28h0m17-11h0m15 4h0m10-22h0m43-2h0m4 14h0m20 2h0m12 18h0m2-27h0m9 25h0" stroke="#2ca02c" stroke-width="11.5" stroke-linecap="round" fill="none"/><path transform="scale(.1)" d="M4 20h0m4 13h0m2-10h0m25-19h0m4 6h0m17-1h0m50 26h0m12-30h0m22 5h0m43 3h0m2 13h0m2 3h0m1-9h0m2 9h0m15-21h0m21 18h0m65-19h0m11-5h0m34 20h0m0 10h0m14-14h0m0 18h0m25-27h0m27 3h0m8 19h0m6 0h0m17-25h0m41 28h0m-463 24h0m29 8h0m21-3h0m80 13h0m22-18h0m33-18h0m1 39h0m5-4h0m75 1h0m63-33h0m20 31h0m29-18h0m11-6h0m1-10h0m65 22h0m-445 18h0m1 7h0m20 5h0m1-9h0m16-3h0m16 17h0m17 9h0m57 3h0m0-2h0m31-9h0m16 2h0m6 17h0m3-22h0m53 13h0m64-6h0m49-13h0m1 0h0m26-1h0m46 1h0m20 2h0m5-1h0m-467 67h0m39-32h0m77 15h0m1-8h0m17 19h0m30-31h0m10 9h0m0 27h0m31-18h0m10 0h0m33-8h0m6-5h0m6 12h0m4 17h0m25-32h0m1 18h0m17-10h0m27-9h0m5 17h0m5-16h0m66 26h0m27-13h0m35 22h0m-353 31h0m54 6h0m4-9h0m4-19h0m107 22h0m16-23h0m38 6h0m4 28h0m125-27h0m5 6h0m-465 52h0m3-23h0m18 0h0m110 29h0m7-6h0m52-19h0m69 23h0m3-13h0m2-2h0m5 12h0m14 6h0m6-4h0m11-18h0m6-8h0m3 30h0m10-17h0m13-13h0m5 22h0m11-14h0m2 9h0m2-18h0m87 7h0m21-6h0m5 7h0m-470 27h0m5 24h0m27-20h0m4 15h0m31 17h0m5-13h0m23-12h0m31 6h0m26-11h0m10 7h0m12 10h0m12 13h0m4-23h0m107 9h0m13 1h0m0 1h0m7-19h0m6 2h0m7-1h0m6 28h0m4-21h0m6-8h0m3 16h0m27-12h0m84-2h0m2 27h0m-469 29h0m11-6h0m3-4h0m8 6h0m2-13h0m19-2h0m25-3h0m2 23h0m7-17h0m14 0h0m12 1h0m33 11h0m4 11h0m6 3h0m1 1h0m2-10h0m2-9h0m20-1h0m72 20h0m25-9h0m4-13h0m5 8h0m1 8h0m23 8h0m27 2h0m53-9h0m55 5h0m8 1h0m29-26h0m4-1h0m-428 56h0m67 5h0m110-28h0m5 1h0m15 36h0m1-4h0m28-34h0m37 26h0m6-4h0m6-13h0m11 5h0m1 11h0m79 4h0m0-14h0m8 9h0m3-7h0m2-9h0m7 22h0m8-23h0m0 5h0m-431 36h0m8 17h0m10-5h0m9-1h0m17-5h0m29-6h0m11 8h0m5-15h0m0 10h0m4 7h0m2 8h0m5-22h0m14 0h0m17 34h0m14-21h0m21 14h0m12 1h0m11 2h0m24-22h0m6 1h0m37-9h0m16 23h0m116 5h0m5-13h0m15-14h0m44 18h0m5 3h0m8-10h0m-401 46h0m0-17h0m4 16h0m8-2h0m6 0h0m3 5h0m15-13h0m49-11h0m38 0h0m21 2h0m55-2h0m14 1h0m2 0h0m3 24h0m21-1h0m8 12h0m0-27h0m19 27h0m19-9h0m0 7h0m6-22h0m60 6h0m5 3h0m1-20h0m6 34h0m14-16h0m2 7h0m0-22h0m-437 67h0m51-4h0m1-1h0m68-15h0m19 20h0m8-4h0m3 5h0m7-25h0m50-4h0m15 8h0m12 9h0m53 5h0m1 5h0m10 7h0m10-33h0m26 32h0m10-25h0m3-12h0m24 14h0m38 18h0m22 0h0m4-18h0m14 0h0" stroke="#fff" stroke-width="9.0" stroke-linecap="round" fill="none"/><path transform="scale(.1)" d="M193 34h0m11-7h0m129-2h0m-289 24h0m324-3h0m14 23h0m28-21h0m3-4h0m62-1h0m-162 64h0m-305 72h0m147 26h0m71 10h0m32 3h0m81-7h0m3 21h0m-330 8h0m154 10h0m0 5h0m121 2h0m179 3h0m-450 22h0m246 22h0m-196 40h0m6-21h0m50 29h0m17-18h0m202 7h0m-212 28h0m57 14h0m36-14h0m178 0h0m-115 34h0m160 50h0m1-8h0m13 21h0" stroke="#fff" stroke-width="22.0" stroke-linecap="round" fill="none"/></pattern>
<pattern id="ps" width="48" height="48" patternUnits="userSpaceOnUse"><rect width="48" height="48" fill="#c2b68c"/><path transform="scale(.1)" d="M33 21h0m49-12h0m11 25h0m5-11h0m184 1h0m2 9h0m161-19h0m1 5h0m-317 58h0m8-20h0m70-7h0m30 15h0m59-24h0m14 30h0m57-30h0m20 5h0m73-4h0m-436 70h0m97 4h0m7-29h0m16 22h0m69 0h0m73-20h0m64-9h0m17 0h0m2 6h0m0 9h0m69-15h0m-437 63h0m45-19h0m41 24h0m0 9h0m59-3h0m135-14h0m4-2h0m31-7h0m22 4h0m115-9h0m-416 42h0m60 22h0m135-16h0m157 6h0m13-5h0m-330 44h0m116 19h0m2-3h0m91-19h0m14-7h0m37 15h0m146 11h0m0 3h0m-440 4h0m35 7h0m75 14h0m9 12h0m165-18h0m-298 52h0m5-25h0m2 1h0m1 34h0m194-6h0m40-16h0m19-17h0m84 24h0m30-22h0m10 32h0m4-8h0m-152 49h0m4-22h0m4 18h0m131-26h0m29 1h0m50 28h0m-423 43h0m174 0h0m50-4h0m141-11h0m4-17h0m7 22h0m21 5h0m13-10h0m-436 51h0m24-18h0m9 21h0m243-29h0m23 30h0m39-15h0m31-6h0m-330 46h0m73-2h0m30-19h0m59 3h0m70 2h0m15 32h0m1-6h0m5 5h0m41-27h0m34 25h0" stroke="#1f77b4" stroke-width="11.5" stroke-linecap="round" fill="none"/><path transform="scale(.1)" d="M1 33h0m1-4h0m8 7h0m32-27h0m9 26h0m17-19h0m34 3h0m14 2h0m4-2h0m30-7h0m30-4h0m57 8h0m32 17h0m12-27h0m12 26h0m34-22h0m45 27h0m28-29h0m4 21h0m4-23h0m22 11h0m9 0h0m6-3h0m16 24h0m-432 23h0m6-15h0m8 33h0m7-12h0m60-13h0m7-7h0m66 24h0m1-15h0m24-6h0m8 9h0m8-12h0m19 8h0m6 20h0m14-25h0m22 25h0m39-1h0m22-14h0m8 1h0m47-17h0m11 10h0m53 1h0m3-10h0m0 30h0m-454 28h0m7-22h0m2 12h0m16 0h0m7-6h0m6-4h0m14 16h0m34 17h0m27-7h0m4-29h0m2 5h0m21 27h0m12-2h0m5 3h0m3 4h0m4-10h0m2-9h0m7 7h0m25-6h0m79-1h0m9 2h0m13 16h0m19-27h0m12 9h0m31 4h0m7-22h0m5 7h0m2 16h0m3-5h0m2-11h0m0 24h0m8-2h0m1-10h0m54 19h0m-448 5h0m3 7h0m37-6h0m27 30h0m10-26h0m3 14h0m39 9h0m8-17h0m14-12h0m10 15h0m18-9h0m16 16h0m5-18h0m0 4h0m1-5h0m14-2h0m10 9h0m2 12h0m10-4h0m18-7h0m43 25h0m33-27h0m3 9h0m6 14h0m12-29h0m39 8h0m1-13h0m36 33h0m30-27h0m-433 69h0m24-7h0m8 9h0m12-29h0m12 8h0m1 4h0m20 0h0m27 6h0m49-7h0m46 10h0m17-29h0m31 8h0m21 17h0m7 9h0m2-31h0m10 28h0m15-31h0m42 14h0m14-2h0m46-9h0m1 25h0m18-17h0m-420 41h0m1 18h0m22-12h0m14 14h0m22-23h0m32-7h0m5 36h0m15-2h0m8-9h0m3 2h0m2-2h0m3-10h0m17-8h0m8 28h0m3-18h0m1-14h0m18 19h0m7-3h0m3 4h0m23-7h0m34-14h0m9 5h0m61 21h0m16-5h0m14 10h0m56-18h0m4 21h0m38-11h0m7-20h0m-468 41h0m2-2h0m14 10h0m4 20h0m11-20h0m18 19h0m1-16h0m4 17h0m31-17h0m53 3h0m6-19h0m1 28h0m9-25h0m7-4h0m15 7h0m3-1h0m29 22h0m21-23h0m9 29h0m27 1h0m18-29h0m34 21h0m7-9h0m46-1h0m19 7h0m3-9h0m4-14h0m4 30h0m4-18h0m26 21h0m8-26h0m7 8h0m5-17h0m22 17h0m-448 57h0m33-32h0m3-3h0m3 39h0m1-31h0m18 25h0m6-2h0m24-30h0m34 27h0m1-11h0m26-3h0m20-4h0m4 3h0m28 0h0m8 22h0m13 2h0m77-21h0m13 6h0m16 16h0m52-1h0m-387 23h0m18-8h0m14-5h0m28 22h0m16 6h0m15-30h0m1 4h0m5 23h0m29 3h0m19-33h0m3 36h0m2-11h0m36-25h0m10 2h0m39 28h0m18-17h0m2 12h0m29-5h0m4 10h0m15-9h0m5-11h0m27 14h0m19-25h0m3 21h0m5 3h0m10-25h0m70 6h0m10 1h0m-424 61h0m3 7h0m22-25h0m2 4h0m2 23h0m0-32h0m8 28h0m7-3h0m65 7h0m41-8h0m1-11h0m13-14h0m11-1h0m1 34h0m17-26h0m23-1h0m4 1h0m9 8h0m13 8h0m43-14h0m5 8h0m7-5h0m0-11h0m22 21h0m2 2h0m79 4h0m-426 39h0m43-29h0m9 27h0m11-10h0m84-7h0m15 24h0m27-7h0m11-12h0m1-13h0m5 6h0m1 2h0m1-5h0m85 22h0m3 1h0m5-22h0m22 16h0m29-20h0m22 35h0m42-25h0m13-3h0m23 17h0m-467 39h0m3-18h0m2 15h0m36-24h0m10 12h0m3 20h0m7-16h0m6 18h0m11 1h0m20-25h0m0 19h0m6-21h0m2 15h0m7-1h0m27 2h0m2 7h0m97 8h0m11-1h0m16-21h0m4 21h0m36-38h0m8 25h0m35-16h0m46 1h0m15 21h0m37 0h0m5 8h0" stroke="#ff7f0e" stroke-width="11.5" stroke-linecap="round" fill="none"/><path transform="scale(.1)" d="M10 33h0m23-22h0m13 12h0m9 2h0m32 3h0m1-7h0m5 0h0m2-14h0m3 8h0m2 23h0m14-6h0m11 4h0m0 0h0m21-34h0m5 19h0m2-4h0m22-10h0m6-5h0m71 34h0m2 2h0m4-38h0m1 8h0m3-3h0m25 33h0m1 1h0m2-5h0m8-25h0m10 24h0m29-22h0m50-6h0m1 15h0m1 2h0m7 8h0m1-10h0m1 7h0m1 3h0m2 1h0m5-30h0m7 20h0m4-18h0m2 7h0m2 17h0m0-9h0m3 8h0m2-4h0m2-1h0m17-9h0m6 11h0m3 6h0m8-23h0m6 31h0m11-2h0m-473 24h0m32-3h0m0 23h0m13-23h0m3 8h0m0 13h0m1-5h0m2 7h0m1-4h0m0 2h0m20-37h0m5 16h0m20-9h0m0-3h0m12 5h0m16 8h0m18 6h0m1-7h0m10 5h0m2 3h0m1-16h0m11 27h0m5-23h0m24 18h0m26-24h0m2 17h0m14-4h0m6 10h0m1-23h0m1 12h0m3-10h0m16-3h0m5 32h0m9-12h0m7-22h0m2 30h0m9-33h0m0 25h0m2 8h0m30-11h0m0-2h0m5 16h0m0-33h0m1 17h0m1-2h0m17 16h0m0-29h0m2-3h0m4 8h0m1 6h0m13 3h0m18-12h0m1 3h0m4 28h0m10-26h0m1-12h0m1 13h0m2-2h0m13-10h0m4 23h0m8-9h0m20 22h0m-454 37h0m14 3h0m5 0h0m0-37h0m15 8h0m6-6h0m2-2h0m58 39h0m6-12h0m7-4h0m6-19h0m4 4h0m2 17h0m4 3h0m7-8h0m5-16h0m9 25h0m4-25h0m5 20h0m5 4h0m15 4h0m16 4h0m17-30h0m23 29h0m26-7h0m29-22h0m5 23h0m14-3h0m7-15h0m2 11h0m3 6h0m5-5h0m2 12h0m10-9h0m3 1h0m23-4h0m7-2h0m1 8h0m54-12h0m17 1h0m3 21h0m21-14h0m3 0h0m1-5h0m0-4h0m-478 24h0m10 12h0m4 3h0m28 21h0m15-15h0m14 15h0m18-25h0m19-4h0m7-3h0m4 26h0m3 5h0m0-13h0m38 16h0m18-4h0m31-13h0m0-11h0m11 21h0m3-12h0m11 17h0m4 0h0m25 1h0m12-11h0m1-8h0m3-18h0m22 35h0m6-32h0m1-3h0m4 33h0m8-20h0m19-12h0m2-1h0m11 21h0m2-13h0m17 6h0m2-8h0m7 6h0m2 22h0m0-18h0m37 20h0m22-28h0m14-3h0m14 10h0m9 11h0m-474 44h0m11-21h0m10 0h0m22 4h0m3 25h0m16-28h0m7 14h0m10-17h0m15 19h0m34-21h0m15 30h0m28-35h0m7 26h0m10-14h0m5-11h0m3 10h0m7 17h0m3-21h0m2 11h0m9 2h0m9-13h0m10 24h0m2-17h0m50 11h0m2-14h0m1-7h0m2 6h0m13 21h0m26-20h0m1-11h0m8 6h0m35 31h0m20-32h0m5-1h0m14 19h0m4-12h0m14 2h0m4 21h0m8-17h0m5 9h0m3-17h0m8 29h0m2-4h0m-448 28h0m1 17h0m11-22h0m9 21h0m25-10h0m4-9h0m2 8h0m4 10h0m7-26h0m11 6h0m43 16h0m3-26h0m10 25h0m20-4h0m10 6h0m0-18h0m1 4h0m1-11h0m7 1h0m2 26h0m38-1h0m7 0h0m4-5h0m13-15h0m26-12h0m9 36h0m6-10h0m3-1h0m3 0h0m5-22h0m19 15h0m6 16h0m64-33h0m9 4h0m2 9h0m5 17h0m16-23h0m22-10h0m17 5h0m0 12h0m-463 34h0m1 17h0m0-8h0m20-20h0m14 1h0m0 32h0m1-10h0m13-15h0m8 7h0m2 18h0m2-29h0m32 26h0m51-28h0m26 31h0m1-1h0m5 2h0m6-25h0m5 15h0m17-19h0m2 14h0m8-13h0m6-6h0m5 37h0m6-28h0m26-7h0m14 35h0m16-30h0m5 15h0m3-22h0m1 25h0m3-11h0m48-9h0m6 17h0m11 15h0m5-18h0m9-9h0m8 6h0m25-11h0m3 2h0m13 23h0m18-15h0m6-14h0m1 12h0m1-9h0m-443 41h0m0 8h0m6 18h0m15-1h0m8 0h0m5-24h0m6 3h0m17 7h0m1-8h0m5 10h0m6 9h0m20 9h0m1 1h0m33-34h0m5 19h0m13-5h0m3-1h0m18-10h0m14 14h0m23-2h0m5 2h0m15 15h0m1-9h0m6 8h0m21-25h0m19 26h0m5-20h0m1-9h0m4-1h0m27 6h0m1-5h0m16-1h0m31-4h0m12 12h0m1-13h0m40 28h0m6-16h0m49 12h0m2-1h0m5-19h0m-470 46h0m0-5h0m2-5h0m7 6h0m0 7h0m2 16h0m11-20h0m1 1h0m8 4h0m9 10h0m18 9h0m22-16h0m9-14h0m2 10h0m1 23h0m1-29h0m17-5h0m13 17h0m9-5h0m3 12h0m78-9h0m9-16h0m5 31h0m9-21h0m11-11h0m2 9h0m0-1h0m2 29h0m0-28h0m28 16h0m37-23h0m12 9h0m8 15h0m4-25h0m2 33h0m7-29h0m1 11h0m3-8h0m4-9h0m5 16h0m6-14h0m6 17h0m4-6h0m7 26h0m1-7h0m3-30h0m4 22h0m6-15h0m2-2h0m18 0h0m6 11h0m0 1h0m2-4h0m2 8h0m32 3h0m-408 45h0m9-16h0m2-3h0m0-1h0m10-8h0m14 2h0m5 13h0m1-17h0m28 7h0m11 20h0m8-2h0m2 11h0m4-36h0m15 32h0m18-17h0m13-8h0m12 13h0m1-5h0m2 20h0m0-25h0m19-11h0m2 18h0m7-11h0m11 21h0m20-22h0m5 23h0m5-2h0m10-5h0m18 13h0m27-25h0m5 10h0m2-15h0m7-1h0m3 17h0m1-20h0m3 28h0m11-19h0m4 27h0m3-4h0m4-17h0m27 5h0m23 17h0m11-38h0m8 37h0m14-18h0m2 20h0m-446 6h0m8 17h0m6 3h0m1 5h0m26 6h0m3-16h0m1 4h0m13 14h0m6-31h0m5 1h0m13 21h0m76-11h0m17 10h0m7-28h0m4 29h0m3 7h0m19-36h0m7 9h0m25 14h0m10-19h0m3 25h0m48-1h0m28-3h0m1-22h0m2 4h0m46 5h0m6 7h0m3 20h0m42-25h0m9-2h0m3-3h0m12-1h0m-466 44h0m11-7h0m4 28h0m2-10h0m22-17h0m18 26h0m1-10h0m2-8h0m10-8h0m3-5h0m5 21h0m7-10h0m0-8h0m2 13h0m11-6h0m1-4h0m2 7h0m14 1h0m9 14h0m7-9h0m7-17h0m8 21h0m13-21h0m3 16h0m3 16h0m11-24h0m21-11h0m1 0h0m22 22h0m16 5h0m1 6h0m2-1h0m12-15h0m9 4h0m4 3h0m4-2h0m10 0h0m10 3h0m46-18h0m45 22h0m3 7h0m4-32h0m6 14h0m7-11h0m19 13h0m10-6h0m41 9h0" stroke="#2ca02c" stroke-width="11.5" stroke-linecap="round" fill="none"/><path transform="scale(.1)" d="M11 28h0m17 9h0m37-20h0m25-2h0m3 13h0m1-25h0m18 5h0m23 2h0m1-5h0m0-3h0m45 27h0m72-16h0m2 24h0m3-13h0m34-1h0m18-21h0m27 10h0m31 5h0m25-3h0m33 15h0m22-14h0m0-2h0m3 22h0m11-28h0m0 16h0m2-7h0m-455 51h0m2-12h0m17-8h0m16 11h0m7 13h0m4 5h0m9-8h0m15-20h0m20 5h0m3 1h0m48 9h0m2 9h0m5-19h0m5-13h0m11 38h0m1-20h0m29 14h0m19-30h0m30 3h0m2 8h0m3-5h0m4 30h0m12-37h0m10 29h0m86-7h0m10-1h0m12 14h0m7-7h0m0 10h0m3-34h0m4 2h0m1 7h0m2 5h0m1 13h0m1-21h0m14 1h0m49 1h0m-448 63h0m39-15h0m16 7h0m59-4h0m7-17h0m25 3h0m5 25h0m6-11h0m6 1h0m5-19h0m23 4h0m21-6h0m7 10h0m32 12h0m2-22h0m15 22h0m2 10h0m1-30h0m6 14h0m30 4h0m3-2h0m0-7h0m1 24h0m34-22h0m5 6h0m5-12h0m13 3h0m2 5h0m1 19h0m1-26h0m70 0h0m-445 59h0m63-27h0m14 7h0m18-10h0m16 5h0m3-1h0m3 8h0m10-8h0m18 33h0m4 1h0m3-37h0m13 29h0m6-23h0m10 6h0m19 15h0m9-12h0m20-6h0m2 27h0m9-23h0m10-4h0m5 23h0m23-21h0m23-6h0m6 5h0m43 4h0m2 11h0m8-2h0m22 12h0m16-2h0m19-11h0m1-16h0m7 11h0m0 13h0m25-1h0m-413 42h0m2 5h0m6-3h0m5-10h0m11-3h0m39-22h0m14 18h0m39 12h0m19-27h0m11 5h0m8 11h0m0-18h0m8 33h0m8-17h0m16-10h0m4 10h0m3-13h0m2 16h0m6 10h0m6 9h0m24-25h0m40-4h0m24-7h0m3 0h0m13 33h0m28-16h0m11-11h0m12 18h0m4-21h0m6-4h0m15 5h0m9 30h0m-449 16h0m12-11h0m13 20h0m0-5h0m3 21h0m2-2h0m30-20h0m8-7h0m11 21h0m1-15h0m1-13h0m26 20h0m6-20h0m21 31h0m4 1h0m11-2h0m9-16h0m13-13h0m6 25h0m8-13h0m8 24h0m1-19h0m5 12h0m5-4h0m15 1h0m7 4h0m12-3h0m40 7h0m0-2h0m6-16h0m18 12h0m8 7h0m37-10h0m12-10h0m2-11h0m1-4h0m9 24h0m11-17h0m56 5h0m2-14h0m16 19h0m3 8h0m0-3h0m10-14h0m-471 34h0m8 2h0m3 18h0m20 0h0m8 14h0m1-13h0m7-13h0m4-9h0m7 24h0m27 8h0m41-32h0m1-1h0m22 27h0m27-28h0m1 13h0m0 24h0m8-8h0m3-27h0m4-4h0m1 14h0m18 21h0m3-1h0m1 3h0m4-25h0m84-9h0m12 0h0m16 2h0m9 25h0m27 7h0m2-29h0m4 9h0m10 16h0m4-14h0m13 20h0m4-4h0m2-8h0m7-24h0m9 34h0m18-25h0m9 7h0m7 9h0m17-5h0m-445 25h0m8 2h0m37 28h0m0-27h0m10 15h0m9-8h0m5 17h0m2-3h0m3-5h0m20-25h0m19 23h0m8 10h0m3 2h0m18-22h0m3 7h0m17 3h0m7-3h0m2-13h0m7 23h0m2-29h0m5 2h0m6 24h0m17-14h0m2-7h0m10 23h0m16 0h0m14 2h0m75-1h0m7 4h0m37-1h0m7-33h0m9 25h0m1 12h0m42-11h0m6-17h0m1-10h0m-454 53h0m24-5h0m62-2h0m2 27h0m4-13h0m9 9h0m16-26h0m15 25h0m30 2h0m1-12h0m16-12h0m37 31h0m7-11h0m7-9h0m1 9h0m42-18h0m3 27h0m11-5h0m18-27h0m25 14h0m20-13h0m7 33h0m2-11h0m6 7h0m1-4h0m4-30h0m1 19h0m8 2h0m56-4h0m-447 61h0m2-33h0m52 22h0m14 9h0m9-27h0m4 14h0m1 8h0m11-27h0m4 8h0m10 19h0m14-19h0m2 16h0m18 2h0m2 9h0m11-28h0m6 8h0m21-13h0m24 6h0m17-7h0m3 10h0m2 22h0m3-11h0m16 11h0m6-22h0m11-4h0m14 22h0m12-29h0m0 27h0m3-28h0m22 9h0m25 9h0m1-10h0m18-11h0m20 11h0m9-1h0m12 0h0m11 9h0m11-2h0m8-6h0m1 6h0m2 9h0m23-8h0m3-17h0m-447 71h0m1-2h0m27-17h0m3 15h0m24-1h0m22-22h0m39 6h0m34 24h0m23-3h0m18 4h0m8-35h0m8-1h0m3 4h0m82-4h0m1 28h0m1-11h0m13-17h0m7 21h0m16-6h0m4 15h0m21-30h0m1 10h0m5 22h0m4-10h0m5-19h0m12 11h0m22 13h0m7-3h0m12 8h0m24-4h0m11-6h0m-439 52h0m2-27h0m30 28h0m0-31h0m8 29h0m2-33h0m3 26h0m9-23h0m11 33h0m9-11h0m7-10h0m6 5h0m3-19h0m18 0h0m19 25h0m41-11h0m24 22h0m7-26h0m4 25h0m21-18h0m16-8h0m11 18h0m15-6h0m11-16h0m59 7h0m15-7h0m10 10h0m13 14h0m8 0h0m21 9h0m4-17h0m6 5h0m3 7h0m30 3h0" stroke="#d62728" stroke-width="11.5" stroke-linecap="round" fill="none"/><path transform="scale(.1)" d="M25 14h0m10 2h0m15 8h0m3 6h0m0-3h0m16 5h0m10-22h0m11 1h0m6 20h0m11-15h0m8-2h0m2 24h0m23-15h0m97-12h0m4 21h0m1 6h0m1-21h0m22-17h0m21 34h0m19-22h0m3 14h0m35-15h0m45 23h0m1-9h0m6-18h0m11 15h0m7-4h0m20-10h0m5-2h0m1 0h0m39 6h0m1 1h0m-459 60h0m20-8h0m1 8h0m29-19h0m15-5h0m21-7h0m5 8h0m5-7h0m1 32h0m1-15h0m33 19h0m9-39h0m4 20h0m13-18h0m27 21h0m14 12h0m1 1h0m18-31h0m1 2h0m6 30h0m20-21h0m0 2h0m1-8h0m16-3h0m2 28h0m16-6h0m1-23h0m38 32h0m4 0h0m29-14h0m0-12h0m41 14h0m5-22h0m2 14h0m27 12h0m4-24h0m4 30h0m8-16h0m-458 47h0m4 1h0m1-19h0m2 28h0m2-10h0m3-9h0m12 9h0m10 6h0m25-10h0m54-20h0m5 34h0m9-15h0m1 2h0m12-4h0m1-10h0m8-4h0m9 22h0m12 5h0m5-9h0m21-4h0m7-11h0m6-2h0m7 5h0m12 20h0m10-14h0m8 20h0m26-35h0m3 19h0m7 3h0m20-1h0m4-9h0m19 7h0m5-2h0m2 3h0m7 10h0m30-11h0m14 2h0m22-23h0m30 15h0m25 17h0m2-14h0m13 1h0m0 7h0m-407 38h0m9-18h0m14-2h0m6 6h0m0 26h0m8-34h0m5 29h0m15-29h0m19 33h0m48 2h0m15-34h0m20 10h0m5 16h0m5-15h0m2-13h0m2 31h0m48-9h0m14-8h0m16 8h0m7 15h0m21-15h0m9-5h0m42 0h0m45 19h0m11-28h0m13-4h0m6 19h0m-477 48h0m3 2h0m32-11h0m17 6h0m1 5h0m2 1h0m0-15h0m19 18h0m10-32h0m4 8h0m7 12h0m8 5h0m11-31h0m71-1h0m13 12h0m2 8h0m8 8h0m12-22h0m3-5h0m6 21h0m25-17h0m1 8h0m22 7h0m10 15h0m15-24h0m12 24h0m26-32h0m2 0h0m49 6h0m7 1h0m20-10h0m10 37h0m5-9h0m10 0h0m0 11h0m22-37h0m-451 52h0m21 22h0m13-35h0m23 2h0m18 14h0m34 8h0m28-2h0m14 12h0m2-15h0m7 18h0m5-26h0m1 12h0m7-24h0m13 11h0m29 4h0m9 4h0m8 16h0m11-23h0m30 14h0m5-8h0m9 20h0m16-16h0m0-22h0m2 14h0m10-11h0m7 36h0m17-9h0m12 8h0m5-30h0m5 11h0m0 20h0m0-15h0m2 10h0m45-34h0m7 24h0m0 13h0m8-14h0m10 10h0m5-10h0m23-6h0m-474 31h0m3 6h0m14-11h0m1 34h0m7-35h0m10 7h0m6 27h0m16-2h0m61-7h0m14-24h0m8 32h0m3-5h0m15-20h0m14-6h0m18 17h0m18-18h0m3 10h0m70 25h0m23-32h0m9 5h0m31-6h0m23 9h0m3-5h0m35-4h0m1 33h0m1-7h0m1-10h0m33-6h0m29-2h0m-469 65h0m2-29h0m3 5h0m46 0h0m13-14h0m17 24h0m13 3h0m14-5h0m13-22h0m7 2h0m21 25h0m33 0h0m16-16h0m7 21h0m3-2h0m30-5h0m6-5h0m2-2h0m7 15h0m7-13h0m5 6h0m12 2h0m56-10h0m7 10h0m14-14h0m17 1h0m1-10h0m31 29h0m2-10h0m23 0h0m45-11h0m-453 28h0m7 16h0m1-12h0m6 9h0m5 17h0m28-22h0m21 21h0m2-20h0m4-9h0m18 23h0m11-21h0m1 25h0m20 8h0m1-2h0m2 5h0m50-12h0m41 5h0m18-21h0m22-3h0m6 24h0m20 3h0m14-35h0m22 19h0m2 3h0m4-19h0m6 27h0m5-4h0m2 7h0m12-32h0m4 17h0m9 10h0m8 1h0m1 6h0m11-17h0m1-10h0m14-2h0m0 12h0m9 17h0m7-13h0m2-15h0m2 3h0m23-4h0m13-3h0m-425 76h0m9-20h0m2-11h0m7 13h0m2 14h0m35-35h0m11 30h0m16-23h0m24-4h0m20 5h0m27 8h0m5 23h0m14-35h0m7-3h0m1 18h0m0 20h0m1-38h0m20 20h0m7 17h0m3-27h0m21 6h0m2-8h0m16-2h0m4 16h0m16-22h0m4 19h0m32-6h0m5 10h0m36-22h0m4-2h0m8 1h0m53 22h0m4 6h0m3-20h0m-449 49h0m0 12h0m23-5h0m5 7h0m16 2h0m18 5h0m29-17h0m27-15h0m17 0h0m7-5h0m39 35h0m3-9h0m7-20h0m12-6h0m28 15h0m2 12h0m0 10h0m74-37h0m5 4h0m23-5h0m4-1h0m3 19h0m15-9h0m0-5h0m18-3h0m24 18h0m15-12h0m0-2h0m39 11h0m-462 26h0m6 22h0m5-24h0m11 32h0m10-28h0m9 17h0m6 17h0m34-21h0m1 4h0m44-2h0m12-14h0m17 14h0m10-17h0m9 25h0m11-14h0m2-6h0m19 1h0m12 0h0m2-8h0m1 32h0m1-28h0m4 21h0m7 5h0m1 0h0m24 0h0m13 1h0m4 4h0m19-33h0m16 36h0m4-9h0m16-14h0m13-2h0m9 24h0m17-38h0m2 34h0m4-33h0m40 39h0" stroke="#d62728" stroke-width="11.5" stroke-linecap="round" fill="none"/><path transform="scale(.1)" d="M55 0h0m14 11h0m363 18h0m-393 43h0m62-32h0m1 9h0m29 17h0m99 9h0m24-13h0m3-18h0m131 12h0m44 20h0m-426 38h0m26-26h0m43-3h0m82 4h0m13 26h0m42 2h0m1-6h0m25-4h0m18-17h0m42 23h0m49-26h0m1 21h0m43 6h0m71-19h0m-368 56h0m19-4h0m1-8h0m23-9h0m18 7h0m56 17h0m58-19h0m5 24h0m84-8h0m52-29h0m-406 72h0m15-18h0m95 12h0m113-5h0m33-17h0m15 20h0m187 10h0m-444 34h0m38-8h0m14 10h0m-66 43h0m24-7h0m29 0h0m51 4h0m84 4h0m146-30h0m56 19h0m-369 40h0m49 8h0m1-6h0m72 0h0m9-1h0m74-17h0m15 1h0m75 13h0m16 11h0m37 3h0m38-32h0m-305 74h0m149-3h0m16-29h0m17 31h0m92-17h0m16 10h0m16 4h0m21-7h0m-343 31h0m191-14h0m22 25h0m37-3h0m3-12h0m17 2h0m1 5h0m31 3h0m7-14h0m49 26h0m16-13h0m-420 54h0m2-6h0m181-9h0m120-12h0m96-10h0m-430 63h0m21-2h0m45-5h0m2-5h0m185 26h0m2 0h0m21 0h0m12-18h0m46 16h0" stroke="#1f77b4" stroke-width="11.5" stroke-linecap="round" fill="none"/><path transform="scale(.1)" d="M12 5h0m7 4h0m37-6h0m8-2h0m3 31h0m7-23h0m5 21h0m18 1h0m7 8h0m0-37h0m7 0h0m9 22h0m31-11h0m42 18h0m72-27h0m3 12h0m128 11h0m6-19h0m4 20h0m3-20h0m6-1h0m0 23h0m5-12h0m5-9h0m2-7h0m3 26h0m13-15h0m19 13h0m4-20h0m6 20h0m-464 35h0m35 17h0m1-31h0m10 24h0m0 4h0m6-33h0m2 19h0m51 3h0m21-4h0m31 16h0m6-19h0m17 18h0m0-31h0m15 30h0m24-4h0m16-10h0m4 0h0m33-11h0m1 11h0m2 3h0m20 6h0m4 9h0m58-35h0m14 2h0m0 12h0m14 2h0m14-10h0m18 19h0m32-16h0m1 12h0m15 13h0m-448 19h0m7-9h0m13 22h0m18-10h0m13 18h0m18 1h0m3-11h0m25-4h0m75-22h0m3 14h0m7-15h0m1 39h0m9-22h0m18 22h0m1-26h0m13-9h0m41 29h0m2-21h0m4 12h0m6-24h0m33 4h0m34-3h0m6 21h0m4 12h0m4-32h0m19 27h0m6-18h0m36 17h0m15-4h0m-430 27h0m24 7h0m43 4h0m4 3h0m3 1h0m2-5h0m15 6h0m26-21h0m11 0h0m24 18h0m25-3h0m8 1h0m2-15h0m9 26h0m22 0h0m16 5h0m16-28h0m41 16h0m43-4h0m6-3h0m-339 44h0m3 8h0m10 8h0m43-7h0m12 7h0m26-30h0m5 1h0m5 15h0m28-25h0m5 38h0m2 0h0m17-36h0m63 10h0m9-3h0m1 20h0m132-9h0m5-16h0m9 0h0m35 21h0m9-24h0m13 31h0m4-5h0m-434 30h0m5 15h0m5-10h0m17 0h0m7-9h0m5 3h0m57-13h0m11 35h0m7-26h0m12 20h0m22-25h0m4 23h0m15-23h0m55 17h0m5-24h0m1 15h0m11-7h0m31 11h0m3 0h0m3 1h0m1-5h0m15 5h0m4 0h0m2 4h0m6-9h0m10 21h0m1-22h0m25-4h0m15-10h0m43 20h0m15-10h0m3 6h0m5 14h0m-424 23h0m12 8h0m10 16h0m3-6h0m70-6h0m0 14h0m11-33h0m20 11h0m14-3h0m19 24h0m3-15h0m5-15h0m10 6h0m13-11h0m21 26h0m52-29h0m16 25h0m20-12h0m0 4h0m1-15h0m67 36h0m3-6h0m5-3h0m70 2h0m-474 15h0m8 14h0m32-3h0m16-4h0m3-5h0m6 26h0m21-19h0m3 0h0m74 21h0m26 2h0m37-25h0m7 22h0m3-12h0m5-5h0m2-13h0m16 28h0m4-5h0m9-28h0m52 34h0m23-31h0m13 7h0m24-6h0m3 10h0m3-11h0m8 11h0m3-12h0m5 5h0m9 20h0m12-16h0m-417 41h0m0 13h0m2-20h0m1 6h0m28-11h0m62 24h0m13-4h0m3-16h0m45 9h0m38 14h0m11-25h0m5 35h0m2-4h0m13-3h0m28-4h0m9-18h0m27 25h0m29-12h0m4-10h0m64 13h0m17-7h0m4-13h0m34 22h0m19-12h0m8 18h0m-425 39h0m18-13h0m1 14h0m15 4h0m36-3h0m5 3h0m1-31h0m2-3h0m40 15h0m5 12h0m11-21h0m13 26h0m3 4h0m9-21h0m1 4h0m16 12h0m10-12h0m24-17h0m5 28h0m44 4h0m6-36h0m9 26h0m33 11h0m1 2h0m15-5h0m6-19h0m16-5h0m29-8h0m4 35h0m25-30h0m6 4h0m0 14h0m-409 38h0m1-19h0m16 4h0m60 1h0m56 17h0m0 2h0m3 8h0m4-2h0m26-14h0m0 1h0m14 18h0m39-39h0m58 29h0m16 4h0m9 1h0m-349 19h0m1 20h0m5-26h0m17 10h0m12-9h0m29 9h0m4-4h0m14 12h0m23-15h0m35 24h0m8-8h0m7-6h0m0 19h0m1-2h0m2-11h0m1 9h0m3-11h0m12-24h0m39 19h0m44 9h0m42-23h0m9 4h0m22 11h0m76 19h0m11-5h0m28-33h0" stroke="#ff7f0e" stroke-width="11.5" stroke-linecap="round" fill="none"/><path transform="scale(.1)" d="M4 23h0m4 8h0m5-1h0m20-19h0m2 4h0m5 16h0m1-6h0m4-22h0m12 13h0m10-4h0m9 21h0m1-29h0m8 21h0m4-10h0m34-3h0m11-4h0m11 5h0m13 16h0m2-17h0m2-8h0m16 3h0m11 16h0m7-18h0m28 18h0m14 6h0m14-22h0m6 20h0m0-15h0m7 1h0m27 3h0m92 21h0m7-1h0m4 3h0m1-6h0m12-13h0m1 15h0m2-32h0m12 19h0m5-11h0m19-4h0m13 22h0m9 2h0m11-13h0m-478 58h0m7-35h0m34 6h0m8 26h0m0-1h0m22-29h0m11 7h0m2-10h0m16 17h0m28 13h0m60-10h0m7 7h0m3-25h0m0 3h0m1 6h0m8 24h0m15-11h0m2-7h0m14 22h0m1-1h0m3-3h0m6-20h0m3 0h0m3 1h0m1-6h0m4 6h0m0 22h0m6-13h0m14 11h0m27 0h0m14-27h0m25 7h0m4 17h0m7-9h0m26-22h0m44 32h0m22-15h0m17 0h0m8 18h0m-469 30h0m4-4h0m3-18h0m9 0h0m14 16h0m15 5h0m1 1h0m2-12h0m6-8h0m5 20h0m28 11h0m21-6h0m3-11h0m4 12h0m1-15h0m9 19h0m17 2h0m6-5h0m34-23h0m10-10h0m6 16h0m17 16h0m2-32h0m8 28h0m21-21h0m17 20h0m9 3h0m4 0h0m2-23h0m2-6h0m6 13h0m19-4h0m13-2h0m2-3h0m2 26h0m12-21h0m3 4h0m1-2h0m29-4h0m13-6h0m1 15h0m0-5h0m2 17h0m41-18h0m16 6h0m12-1h0m6 1h0m4 8h0m6-19h0m-474 58h0m4-15h0m1 28h0m7-38h0m28 2h0m36 21h0m5-1h0m3 2h0m11-18h0m1 0h0m3 3h0m0 3h0m2 7h0m13-6h0m22-10h0m2 21h0m12 10h0m8-22h0m10 6h0m16-12h0m14 31h0m15-25h0m13 16h0m9 11h0m1 0h0m22-20h0m10 17h0m13-1h0m38-34h0m0 29h0m15 1h0m0 3h0m8-20h0m4 1h0m1 0h0m14 7h0m8 3h0m67 4h0m18-14h0m15-5h0m1-4h0m4-3h0m3 4h0m-452 52h0m10-6h0m9-2h0m17-6h0m9 11h0m19-14h0m27 28h0m3-30h0m21 33h0m24-24h0m31 21h0m2-6h0m2 11h0m9-21h0m19 1h0m6 8h0m38-18h0m27 27h0m3-24h0m22 25h0m7-26h0m5 9h0m48 18h0m9-29h0m7 20h0m1-15h0m3 16h0m2-17h0m13 8h0m2 5h0m8 12h0m1 3h0m4-8h0m9-8h0m15 12h0m3-15h0m3 6h0m9 8h0m-470 27h0m7 6h0m2-21h0m10 35h0m30-14h0m2 5h0m5 0h0m19-3h0m11-11h0m2-14h0m25-1h0m14 37h0m2-5h0m4-15h0m2 3h0m20-11h0m13-6h0m8 35h0m10-18h0m21-21h0m9 24h0m1 0h0m5 8h0m28-12h0m1 18h0m3-19h0m27 9h0m0-4h0m3-5h0m2-1h0m31-8h0m26 3h0m1 18h0m17-8h0m3 8h0m0-7h0m9-19h0m8 1h0m11 3h0m3 30h0m2-32h0m12 27h0m27 4h0m5-26h0m7 22h0m3-3h0m1 0h0m3-15h0m-455 26h0m7 30h0m2-10h0m4-8h0m2 3h0m9 7h0m16 10h0m3-29h0m13 21h0m6-16h0m1 28h0m1-9h0m7 6h0m41-7h0m6-13h0m25 4h0m12-2h0m3 5h0m11 7h0m26-24h0m27 2h0m14 26h0m20-27h0m5 0h0m18 23h0m40-21h0m7-1h0m5-5h0m3 14h0m10-11h0m5 2h0m8-3h0m4-2h0m12 15h0m6 2h0m2 11h0m2 5h0m19-11h0m3 4h0m11 10h0m3-14h0m12 6h0m3-30h0m12 25h0m2 5h0m10-2h0m-450 32h0m1-2h0m10 9h0m9-10h0m8-10h0m1 22h0m5 8h0m6-2h0m7-16h0m0-11h0m8-8h0m2 39h0m9-8h0m28-12h0m7 19h0m1-2h0m2-2h0m5-21h0m13-3h0m11-9h0m5 10h0m0-3h0m25 3h0m17-4h0m14-4h0m19 3h0m5 21h0m0 3h0m17 2h0m4 4h0m26-1h0m2-25h0m2-1h0m56 12h0m4 17h0m3-27h0m9 28h0m15-39h0m3 27h0m3-21h0m13 13h0m1-11h0m3 21h0m5-21h0m3 30h0m2-33h0m7 13h0m57 13h0m-460 21h0m1-3h0m21 7h0m36 21h0m12-1h0m6-3h0m0-26h0m2 10h0m2-7h0m8 25h0m0-25h0m34 6h0m1-11h0m16 8h0m53 26h0m4-11h0m9-25h0m2 30h0m20 2h0m12-5h0m9 2h0m6-11h0m16 18h0m4-6h0m4-6h0m2 5h0m10-4h0m3-20h0m13 14h0m6 4h0m11-1h0m9 7h0m10-29h0m3 26h0m6-12h0m0-6h0m10-2h0m25 21h0m4-19h0m2 10h0m0-10h0m9 27h0m7-19h0m3 4h0m0-14h0m3 16h0m4-4h0m5-15h0m8 10h0m2-7h0m21 27h0m15-34h0m1 0h0m-425 68h0m2-10h0m20 1h0m26-20h0m2 3h0m3 20h0m23-1h0m3-7h0m4-10h0m2 26h0m1-10h0m2-7h0m34 0h0m2-9h0m11-6h0m19 1h0m13 38h0m3-8h0m19 0h0m2-31h0m0 33h0m8 0h0m1-11h0m6 13h0m3-23h0m11 17h0m7-13h0m9 17h0m6-31h0m8-2h0m5 18h0m3 20h0m14-20h0m6-17h0m6 26h0m11-1h0m9-16h0m6 28h0m8-14h0m7-16h0m9 22h0m21-25h0m28 29h0m6 0h0m0-26h0m20 27h0m8-32h0m1 5h0m0 17h0m11-22h0m-458 62h0m4-13h0m6 23h0m9-3h0m4-16h0m0 12h0m17-3h0m9 7h0m10-6h0m10 1h0m1 2h0m18 10h0m1-7h0m4-20h0m2-8h0m0 11h0m4 23h0m0-4h0m5-27h0m39-2h0m50 8h0m4-13h0m36 32h0m20-30h0m36 8h0m8 11h0m6-7h0m5 20h0m24 0h0m7-24h0m9 23h0m4-32h0m2 31h0m0 1h0m1-26h0m0 8h0m9 23h0m22-22h0m1 0h0m10 6h0m26-15h0m4 16h0m1-1h0m24 9h0m9-15h0m-473 56h0m15-24h0m19 1h0m2 4h0m1 10h0m11 9h0m5 1h0m15-33h0m1 36h0m9-22h0m3 16h0m16-20h0m4 19h0m2 6h0m18 0h0m3-18h0m1-3h0m0-10h0m23 9h0m6 13h0m2 1h0m0-11h0m6-10h0m4-5h0m3 33h0m3-21h0m0 7h0m36-6h0m20 16h0m1-1h0m36-16h0m1-11h0m4 25h0m12-13h0m14 3h0m59-7h0m15-6h0m11 5h0m6 21h0m6 4h0m5-4h0m20 7h0m8-5h0m6 4h0m1-6h0m13-10h0m5-10h0" stroke="#2ca02c" stroke-width="11.5" stroke-linecap="round" fill="none"/><path transform="scale(.1)" d="M14 18h0m1 6h0m19-5h0m12 1h0m2-6h0m33 13h0m9-27h0m3 23h0m16-11h0m9 15h0m19 11h0m49-2h0m31 2h0m48-21h0m15-15h0m4 3h0m15 6h0m0 12h0m14-8h0m17 2h0m36-7h0m4 23h0m0-25h0m20-1h0m3 14h0m0-14h0m11 16h0m50-21h0m9 24h0m8 7h0m-460 35h0m24-7h0m3 2h0m16 16h0m3-21h0m31 15h0m1 2h0m17-10h0m1 1h0m70 13h0m5-26h0m14 2h0m6 19h0m1-16h0m57-2h0m1 22h0m31-23h0m8-5h0m84-5h0m2 16h0m6-11h0m65 13h0m0-20h0m2 13h0m-456 30h0m6 11h0m46-13h0m12 1h0m12-3h0m1 5h0m4 6h0m14-3h0m1 15h0m5-6h0m6 3h0m2-2h0m5 0h0m64-18h0m0 17h0m10 11h0m10-4h0m43-6h0m96 9h0m18-18h0m3 11h0m3 3h0m22 2h0m12 3h0m6-10h0m12 13h0m38 4h0m16-3h0m-417 9h0m19 12h0m56 0h0m6 17h0m0-28h0m2 11h0m17 6h0m2 10h0m25-15h0m1 3h0m2-19h0m3 17h0m11-10h0m3 2h0m92 13h0m20 11h0m64-7h0m-372 47h0m12-3h0m134 3h0m12 0h0m15-4h0m43 8h0m11-7h0m2-2h0m132-8h0m10 6h0m18 0h0m-368 32h0m71 16h0m40 5h0m47-27h0m1-6h0m28 4h0m22-3h0m52 26h0m36 0h0m8-11h0m82-17h0m16 6h0m8 25h0m39-27h0m-453 67h0m30-23h0m8-6h0m112 14h0m3 10h0m5-21h0m13-10h0m6 10h0m7 25h0m25 2h0m11 2h0m8-19h0m9 3h0m5 7h0m7-11h0m4 14h0m3-30h0m30 19h0m-305 27h0m13 4h0m59 19h0m5-6h0m32 9h0m33-7h0m1-23h0m25-5h0m83 22h0m57 15h0m10 1h0m2-23h0m29 24h0m18-39h0m-344 79h0m2-16h0m3 16h0m6-2h0m11-13h0m98-17h0m0 3h0m74 14h0m18-21h0m7 6h0m26-9h0m36 33h0m7-6h0m44-18h0m1 1h0m15 15h0m4-7h0m72-14h0m13 16h0m-418 37h0m22 21h0m25-8h0m11-1h0m2-17h0m23 2h0m8 2h0m1 9h0m21-1h0m47-12h0m12-11h0m23 13h0m22 6h0m1 1h0m28 11h0m11-11h0m3-2h0m1-3h0m9 16h0m17-13h0m4 13h0m1-29h0m37 23h0m8-7h0m6 14h0m24 3h0m3-13h0m21-18h0m23 0h0m1 5h0m-449 68h0m5 1h0m24-33h0m18 8h0m75 14h0m3-8h0m0-9h0m3-7h0m5 26h0m0-13h0m2 16h0m17-14h0m12 11h0m10 3h0m16-13h0m11 11h0m5-5h0m5-11h0m4-3h0m27-2h0m3-6h0m4 31h0m43-15h0m12 4h0m0-16h0m2 27h0m4-16h0m51 10h0m17-8h0m6 2h0m2-22h0m6 30h0m4 5h0m20-33h0m32 35h0m-446 26h0m8-5h0m11-7h0m9-8h0m1 17h0m41 5h0m10-15h0m79 6h0m16-4h0m2 9h0m6-3h0m4 5h0m25-8h0m3-6h0m15-10h0m4 2h0m20 36h0m2-24h0m21 0h0m4-5h0m15 23h0m1-20h0m5 14h0m14-16h0m9 25h0m17-22h0m2 10h0m2-23h0m1 19h0m1 1h0m18-12h0m6-6h0m6 1h0m9 23h0m1 1h0m4-22h0" stroke="#fff" stroke-width="9.0" stroke-linecap="round" fill="none"/><path transform="scale(.1)" d="M54 36h0m133-30h0m9 33h0m96-29h0m95 28h0m45-13h0m13 4h0m-442 27h0m152-13h0m3 7h0m32-9h0m-164 39h0m165 28h0m19 1h0m145-17h0m-197 66h0m309-30h0m-249 57h0m143-7h0m106 12h0m-460 28h0m63 1h0m192-6h0m60 14h0m-78 39h0m-37 14h0m26 38h0m94-1h0m-12 32h0m7 8h0m52-34h0m48 11h0m-386 50h0m25-4h0m255-1h0m11 6h0m34-22h0m15 2h0m54 9h0m-317 39h0m113 4h0m5 1h0m7-2h0m236 2h0m-464 29h0m85 20h0m128-10h0m132-8h0m79 12h0m43-20h0" stroke="#fff" stroke-width="22.0" stroke-linecap="round" fill="none"/></pattern>
<pattern id="po" width="48" height="48" patternUnits="userSpaceOnUse"><rect width="48" height="48" fill="#f3c893"/><path transform="scale(.1)" d="M177 18h0m5 8h0m13-26h0m8 20h0m74-18h0m159 36h0m-291 8h0m140 25h0m33 2h0m19-28h0m11 26h0m30-19h0m17-6h0m34 33h0m-348 27h0m126-2h0m37-1h0m56 10h0m29-2h0m1-2h0m6 5h0m7-8h0m69 13h0m55-3h0m-347 36h0m107 1h0m25-3h0m35-30h0m7 13h0m45 26h0m41-4h0m2-26h0m89 27h0m-459 25h0m9-13h0m248 24h0m49-14h0m50 1h0m3 5h0m18 1h0m60-5h0m-427 46h0m48-26h0m296 8h0m2 0h0m63 15h0m3 16h0m-375 39h0m24-4h0m11-28h0m65 6h0m18 10h0m107-8h0m76 1h0m10 4h0m6 14h0m100-32h0m-154 59h0m21 14h0m68-24h0m65-5h0m-424 50h0m13-15h0m193 31h0m34-20h0m3-5h0m1 7h0m48-10h0m66 22h0m-344 16h0m299 12h0m16 15h0m-308 40h0m76-18h0m1-1h0m36 14h0m88-9h0m25-4h0m180-9h0m-468 58h0m100 14h0m135-15h0m132-10h0m46 20h0m52-4h0" stroke="#1f77b4" stroke-width="11.5" stroke-linecap="round" fill="none"/><path transform="scale(.1)" d="M5 1h0m11 5h0m5 6h0m1 1h0m70-8h0m5-1h0m4 11h0m9 13h0m1-24h0m25 0h0m0 3h0m3 17h0m7-3h0m20-21h0m4 16h0m28 15h0m3-14h0m3 7h0m16-7h0m7 18h0m12-30h0m3 0h0m6 29h0m22-23h0m13-9h0m0 25h0m16-23h0m3 23h0m11-15h0m10 15h0m6-22h0m2 29h0m16-27h0m10-5h0m6 11h0m2 13h0m5-11h0m3-10h0m11 10h0m4-15h0m16 34h0m2-30h0m5 3h0m1 24h0m11 8h0m4-22h0m2 18h0m1 3h0m6-32h0m6 13h0m2-10h0m18 14h0m1-14h0m6 23h0m5-32h0m5 3h0m-463 46h0m1 25h0m13-30h0m6 35h0m1-2h0m83-19h0m22-12h0m2 3h0m5 28h0m2-28h0m3-4h0m65-3h0m8 3h0m6 14h0m2-6h0m5-4h0m4 5h0m3 2h0m13-11h0m3 25h0m13 6h0m1-36h0m1 38h0m2-2h0m3-30h0m7-1h0m1 34h0m2-22h0m8-15h0m13 18h0m2 1h0m1 6h0m0-16h0m7 4h0m11 11h0m2-26h0m12 37h0m3-21h0m12 15h0m3 1h0m16 0h0m13-30h0m10 29h0m2 0h0m3 2h0m3-31h0m6 30h0m5-12h0m16-2h0m3 2h0m5 7h0m1-13h0m16 25h0m4-5h0m-469 23h0m4-7h0m13-1h0m48 18h0m22-16h0m1 19h0m14-6h0m1-7h0m1-5h0m2 23h0m12-17h0m8-12h0m17 8h0m4-8h0m12 3h0m5 10h0m51 9h0m15 4h0m19-26h0m1 31h0m2-23h0m1-8h0m0 11h0m16 12h0m1-5h0m7-7h0m20-1h0m0-8h0m4 8h0m2 21h0m10-14h0m6-11h0m2 25h0m9-20h0m1-8h0m0-4h0m16 22h0m17-2h0m19 8h0m0-6h0m0-7h0m4 8h0m6 8h0m1-6h0m0-5h0m5-10h0m13 23h0m2-5h0m1-18h0m17-15h0m1 20h0m8-20h0m1 8h0m10-2h0m3 31h0m6-7h0m3-6h0m7 6h0m-456 26h0m87-2h0m9-2h0m6 17h0m24 1h0m53-9h0m14-8h0m11-4h0m25 30h0m8-13h0m18-18h0m1-6h0m9 6h0m19-4h0m9 4h0m8 17h0m5 1h0m0-9h0m4 3h0m2-11h0m5 8h0m2-7h0m4 26h0m25-26h0m10 5h0m1 16h0m3-19h0m0-8h0m10 35h0m9-11h0m0 9h0m14-30h0m0 5h0m1 1h0m3 2h0m5-14h0m5 10h0m1-1h0m1 11h0m0-7h0m5-12h0m2 28h0m1-6h0m2 5h0m3-1h0m1-27h0m1 25h0m6 12h0m6-19h0m1 0h0m4 14h0m18-5h0m-472 15h0m8 7h0m13 2h0m11-7h0m1 27h0m13 0h0m7-1h0m0 2h0m1-17h0m44 23h0m109-31h0m10 7h0m3 0h0m4-7h0m7 20h0m2-9h0m2-8h0m10 2h0m3 10h0m3-2h0m12-16h0m0 0h0m1 19h0m2-4h0m7-12h0m0 26h0m1-16h0m1 2h0m3-3h0m1 0h0m21-3h0m4 19h0m38-15h0m0 9h0m6-24h0m2 20h0m6 16h0m4-14h0m2 8h0m3 5h0m3-10h0m3-27h0m6 37h0m13-31h0m5 0h0m1-5h0m4 19h0m24-14h0m9 8h0m10 22h0m8-12h0m14 14h0m3-8h0m3-12h0m0 6h0m-469 23h0m1 10h0m35 17h0m2 1h0m4-20h0m11-9h0m23-4h0m6 20h0m9-18h0m1 27h0m22-11h0m38-2h0m3 16h0m3-3h0m23 0h0m2 5h0m1-19h0m25-13h0m2 15h0m9-6h0m0-6h0m15 18h0m3-2h0m25-8h0m0 19h0m1-10h0m11-16h0m2 10h0m4-4h0m1-5h0m1 10h0m8-5h0m3-4h0m4 7h0m1-8h0m1 26h0m4 2h0m2-30h0m0 23h0m10-24h0m6-7h0m4 21h0m3-15h0m1 11h0m26-5h0m1-8h0m1 18h0m0-20h0m4 9h0m4 2h0m2-1h0m3 21h0m11-32h0m0 21h0m3 5h0m6-21h0m2 28h0m7-28h0m1 23h0m7-3h0m0-15h0m1 12h0m0 15h0m1-36h0m2 15h0m41-12h0m7 21h0m6-3h0m5-21h0m0 2h0m-471 62h0m8-5h0m5 18h0m30-32h0m29-7h0m22 39h0m45-38h0m4 26h0m24-18h0m12 16h0m5-8h0m18-10h0m0 12h0m14 7h0m2 11h0m9-14h0m4-10h0m3 20h0m5 6h0m3-9h0m4-17h0m6 16h0m6-20h0m0 7h0m1-11h0m2-1h0m0 6h0m12 4h0m11 22h0m4-23h0m22-11h0m12 3h0m3 32h0m0-35h0m2-2h0m1 30h0m8-2h0m0 11h0m7-21h0m5 13h0m4-4h0m5 11h0m3-8h0m3-11h0m6 20h0m7-33h0m0 33h0m7-14h0m3 0h0m1 8h0m9-24h0m10 16h0m1-18h0m1-6h0m8 29h0m2-16h0m5 4h0m40-3h0m2 12h0m3-20h0m-461 51h0m31 18h0m11-22h0m20-8h0m0 13h0m80-12h0m24 1h0m1 8h0m0 2h0m3-9h0m6 20h0m2 10h0m19-11h0m16-21h0m4-7h0m3 13h0m1-13h0m32 6h0m2 6h0m0-9h0m0-1h0m13 18h0m1-2h0m0-14h0m27 22h0m4 8h0m16-6h0m2-14h0m1 15h0m8 9h0m3-33h0m11 1h0m7-6h0m2 15h0m9-9h0m2 0h0m11-6h0m1 4h0m15 13h0m8 17h0m30-13h0m4 11h0m9 2h0m16-19h0m7 5h0m-434 53h0m10-29h0m41-1h0m2 1h0m23 25h0m30 4h0m1-3h0m10-26h0m10 31h0m0-32h0m3 33h0m3-3h0m8-18h0m2 14h0m2-12h0m7-8h0m1 9h0m10-15h0m0 18h0m8-9h0m9 24h0m6-30h0m32-6h0m23 17h0m3-4h0m17 1h0m2-7h0m4 5h0m10 26h0m3-36h0m6 19h0m2 1h0m3 4h0m3 6h0m2-29h0m0 31h0m1-31h0m1 5h0m6-4h0m0 4h0m1 30h0m3-5h0m4-9h0m10 1h0m4-15h0m0 28h0m8-24h0m4-11h0m10 3h0m1 8h0m5 12h0m7-22h0m12 13h0m0 21h0m1-32h0m38 7h0m7 2h0m-443 59h0m7-20h0m8 10h0m8 3h0m25-1h0m31-17h0m14 20h0m13-9h0m5 13h0m13-26h0m60 17h0m1-22h0m4 36h0m6-27h0m0 23h0m27 1h0m3-35h0m2 1h0m2 18h0m0 9h0m1-9h0m2-17h0m5 31h0m2-22h0m9-8h0m10 4h0m12 0h0m28 29h0m4 3h0m0-13h0m38-3h0m0-22h0m14 38h0m17-28h0m1 23h0m13-22h0m19 6h0m2 16h0m13 1h0m17 2h0m8 1h0m5-17h0m3-12h0m-461 36h0m15 20h0m0 13h0m2-9h0m2-17h0m4 23h0m34 1h0m0-8h0m6 7h0m2 0h0m9-20h0m76-13h0m13 30h0m14-21h0m9-6h0m12-4h0m28 27h0m19-4h0m31-22h0m8 28h0m11-23h0m16 0h0m14 7h0m3-6h0m3 11h0m12 9h0m46-28h0m0 10h0m15 22h0m6-24h0m18 27h0m3-19h0m40-9h0m-473 55h0m6-4h0m1 7h0m6-23h0m1 34h0m12-18h0m23-11h0m39 28h0m14 0h0m5-34h0m11 32h0m30-27h0m8 16h0m3 5h0m17-19h0m13 29h0m9-3h0m42-3h0m3-13h0m7-10h0m21 8h0m5-12h0m1 29h0m5 2h0m0-33h0m2 8h0m2 10h0m8 16h0m18-13h0m2 11h0m17-22h0m12 5h0m6 18h0m4-12h0m3 1h0m6 9h0m1-8h0m0 12h0m2-4h0m6-17h0m16-16h0m4 12h0m14 6h0m4-18h0m14 13h0m20 9h0m7-18h0m15 29h0m-130 7h0m120 0h0" stroke="#ff7f0e" stroke-width="11.5" stroke-linecap="round" fill="none"/><path transform="scale(.1)" d="M36 26h0m89-11h0m10 14h0m38-23h0m31 21h0m29 5h0m39-24h0m0 4h0m52 18h0m2-23h0m13 3h0m38 11h0m35-7h0m16 17h0m24-29h0m26-1h0m-443 54h0m9 4h0m99 9h0m43-17h0m25-6h0m17-5h0m2 26h0m20-13h0m4 6h0m16 2h0m24-1h0m3 19h0m0-22h0m11-2h0m37 4h0m33 20h0m45-34h0m8 10h0m27 14h0m13-15h0m-470 32h0m88 23h0m27 1h0m1-5h0m2-6h0m4 20h0m56-21h0m39 21h0m21-28h0m27 5h0m15 16h0m28-19h0m40 8h0m10 11h0m18 7h0m0-26h0m5-1h0m12-7h0m17 21h0m35-13h0m-363 30h0m125 33h0m11-32h0m33 30h0m9 3h0m7-21h0m18 20h0m11-29h0m14 15h0m5 4h0m50 4h0m13-16h0m22 24h0m18-34h0m25 9h0m6 0h0m0 25h0m8-27h0m3-5h0m-441 73h0m30-7h0m94-21h0m107 6h0m7-17h0m2 23h0m73 11h0m70-22h0m68 8h0m-471 21h0m48 17h0m28-17h0m13 3h0m29 24h0m42 9h0m19-16h0m3-1h0m37-18h0m7 2h0m23 7h0m85 23h0m17-32h0m28 31h0m30-27h0m9 32h0m17-35h0m22 23h0m-446 34h0m8 8h0m54-17h0m148-1h0m38 16h0m3-21h0m31-2h0m5 0h0m46 6h0m54-5h0m7 25h0m2 5h0m14-3h0m20-14h0m7-4h0m-445 27h0m8 4h0m6 8h0m9-1h0m8-6h0m22 28h0m6-8h0m121 14h0m70-16h0m5-23h0m15 14h0m1-3h0m117 12h0m3 6h0m17-11h0m8-2h0m22-1h0m13-3h0m-366 42h0m43 25h0m67-16h0m8-6h0m45 14h0m2-10h0m19-13h0m16 11h0m17 9h0m2 7h0m11-10h0m30 7h0m25-6h0m1-11h0m45 7h0m24-8h0m-320 33h0m10 3h0m14 16h0m10-20h0m10 1h0m44 26h0m15-15h0m8-13h0m4 4h0m10-9h0m16 12h0m85-5h0m19 12h0m4-7h0m52 14h0m17-2h0m-395 53h0m5-27h0m133-7h0m42 30h0m18-2h0m8 7h0m2-7h0m6-5h0m20 4h0m6-3h0m2 5h0m35-16h0m14 4h0m71 4h0m45-1h0m3 1h0m-452 49h0m139-17h0m47 21h0m69-22h0m11 22h0m94-16h0m22-7h0" stroke="#2ca02c" stroke-width="11.5" stroke-linecap="round" fill="none"/><path transform="scale(.1)" d="M5 26h0m134-18h0m88 24h0m56-9h0m26 4h0m64-9h0m6-4h0m53 5h0m28 10h0m19 4h0m-467 46h0m135-17h0m89-9h0m209 1h0m9 15h0m-354 31h0m1 12h0m34-15h0m24 9h0m91-25h0m28 10h0m25-10h0m21 10h0m52-5h0m38 2h0m-391 51h0m145-5h0m52-13h0m26 31h0m151 6h0m9-2h0m29-14h0m16 4h0m-451 41h0m15-8h0m0 13h0m24-5h0m24 9h0m160 0h0m58-25h0m54-2h0m15 5h0m26 6h0m99-1h0m-410 29h0m19 24h0m14-28h0m25-1h0m159 22h0m96-1h0m19-7h0m5 5h0m19-21h0m16 14h0m29-3h0m-464 62h0m24-9h0m136 1h0m20 1h0m62 5h0m10 4h0m8-20h0m15-4h0m2-12h0m47 23h0m20-1h0m9 2h0m0 6h0m2-13h0m38-9h0m6 21h0m-371 14h0m40-3h0m136 2h0m12 13h0m12 23h0m27-5h0m73 5h0m15-27h0m99 16h0m18-16h0m-426 64h0m39-8h0m111 10h0m65-11h0m22-9h0m39 3h0m6-2h0m6-4h0m45-4h0m29 25h0m47 2h0m10-25h0m10 27h0m-464 19h0m144 14h0m29-16h0m6 21h0m69-21h0m15 1h0m0 22h0m69-35h0m19 0h0m13 4h0m1 10h0m4 10h0m8-13h0m1-3h0m14 3h0m10 0h0m39 11h0m16 2h0m15-20h0m-445 64h0m62-31h0m208 19h0m39 7h0m76 6h0m55-25h0m-420 49h0m69-3h0m6 15h0m27 9h0m88-25h0m13-9h0m59 22h0m110-12h0m39 18h0m17-1h0m-179 9h0" stroke="#d62728" stroke-width="11.5" stroke-linecap="round" fill="none"/><path transform="scale(.1)" d="M3 10h0m200 28h0m20-1h0m44-28h0m34 28h0m63-34h0m9 10h0m31-2h0m24-4h0m-310 65h0m12-7h0m7-5h0m2-6h0m89-12h0m7 29h0m57-3h0m24-5h0m8 1h0m10-4h0m39 14h0m21-31h0m40 14h0m12 13h0m-338 18h0m119 8h0m48-14h0m47 36h0m53-12h0m18 5h0m1-20h0m14-9h0m13 37h0m10-27h0m24-5h0m-436 72h0m186-18h0m11 13h0m121-32h0m41 29h0m21-13h0m7 19h0m11-2h0m9-18h0m7-14h0m-407 41h0m53 33h0m138 2h0m41-39h0m15 15h0m17 24h0m7 0h0m9-6h0m61-15h0m22 18h0m14-7h0m-353 19h0m136 24h0m117-27h0m60 21h0m55 7h0m-396 28h0m39 14h0m108-34h0m11 5h0m120 12h0m15-10h0m10-4h0m7 10h0m6 2h0m14 13h0m11-9h0m5-19h0m29 10h0m3 11h0m12-12h0m3-6h0m47 31h0m6 0h0m-442 40h0m82-17h0m135-18h0m13 12h0m31 9h0m67 1h0m53-4h0m15 3h0m-407 53h0m28-12h0m154-17h0m26-4h0m7 34h0m20-7h0m65-21h0m86 30h0m14-8h0m-375 50h0m41-18h0m54-15h0m18 28h0m2-10h0m43-16h0m138 30h0m66-4h0m6-17h0m9-9h0m19 19h0m-411 27h0m29 14h0m143-4h0m26-3h0m36-18h0m11 35h0m13 1h0m6-35h0m8 0h0m114 5h0m18 6h0m-402 57h0m91-5h0m54-1h0m19-8h0m24 20h0m29-9h0m22-15h0m7 11h0m1-9h0m65-2h0m8-12h0m22 22h0m90-18h0" stroke="#d62728" stroke-width="11.5" stroke-linecap="round" fill="none"/><path transform="scale(.1)" d="M212 36h0m1-3h0m82 1h0m2-6h0m0-10h0m67-7h0m-324 59h0m215-2h0m43-16h0m15 8h0m34 9h0m75-16h0m-282 29h0m134 0h0m24 35h0m138-3h0m-263 34h0m82-27h0m32 28h0m29 5h0m13-32h0m14 36h0m5-3h0m86-15h0m-171 31h0m113-6h0m2 5h0m42 18h0m27-15h0m-385 31h0m15 16h0m86-4h0m27 7h0m66 0h0m45-21h0m65 1h0m7 31h0m21 3h0m25-25h0m-258 50h0m85 8h0m58-18h0m44 1h0m33 24h0m46-25h0m-410 36h0m50 5h0m20-9h0m236 3h0m-289 36h0m253 4h0m54 23h0m38-13h0m-377 55h0m15-18h0m164 24h0m16-10h0m2 10h0m44-36h0m4 8h0m92 9h0m31-16h0m16 1h0m13 9h0m11 0h0m56 2h0m-466 28h0m182 17h0m33-8h0m37-2h0m7-1h0m18 10h0m1 11h0m116-24h0m56 16h0m-311 45h0m2-10h0m26 1h0m127 19h0m37-3h0m45-7h0m8-12h0m36-8h0m6 3h0" stroke="#1f77b4" stroke-width="11.5" stroke-linecap="round" fill="none"/><path transform="scale(.1)" d="M2 1h0m9 29h0m7 1h0m2-27h0m26 30h0m50-7h0m11-19h0m26-6h0m22-1h0m9 21h0m24-17h0m1 29h0m4 3h0m7-19h0m8 1h0m0 15h0m6-1h0m1-13h0m3 12h0m29-22h0m13-1h0m10-2h0m6 9h0m2 3h0m2 6h0m6-9h0m0 13h0m2-18h0m3-7h0m4 3h0m0 12h0m8-13h0m4-2h0m1 13h0m1 14h0m11-9h0m8-12h0m4 7h0m28-5h0m5-8h0m8 34h0m7-27h0m13 6h0m6-10h0m5 8h0m0 2h0m6-1h0m5-2h0m4 10h0m17-6h0m21-7h0m1 14h0m13-17h0m0-5h0m6 1h0m1 5h0m-467 48h0m10-9h0m16 20h0m13-2h0m5-13h0m70 5h0m13-16h0m1 9h0m0 16h0m19-3h0m32-22h0m13 5h0m5 7h0m12 8h0m5-21h0m3 7h0m4 16h0m8-9h0m5 5h0m11 19h0m7-12h0m0-8h0m1 17h0m27-23h0m6 2h0m1 10h0m11-23h0m5 6h0m2 13h0m11-1h0m3 17h0m15-5h0m1-8h0m4 8h0m62-8h0m4-12h0m23-9h0m1 34h0m4-35h0m3 10h0m12 0h0m0 18h0m5-12h0m8-16h0m-462 74h0m5-4h0m7-19h0m45 6h0m2 1h0m26 4h0m2-15h0m0 22h0m4-2h0m2 7h0m3-6h0m18-4h0m16 0h0m17-22h0m10 22h0m25 11h0m51-21h0m7-8h0m8-3h0m2 23h0m18 4h0m8-8h0m14-1h0m4 15h0m8-37h0m10 30h0m0-19h0m2 20h0m1-10h0m13-12h0m0 11h0m2 1h0m23-22h0m1 16h0m17 14h0m0-22h0m7 9h0m6 12h0m10-8h0m1 13h0m1-15h0m1-1h0m25-15h0m20 7h0m5 8h0m7 14h0m1-17h0m1 14h0m4-8h0m-442 49h0m22-10h0m32-17h0m4-3h0m9 12h0m2-6h0m9 10h0m6-15h0m0 9h0m21 27h0m56-16h0m4 0h0m3 10h0m2-22h0m3-9h0m3 6h0m7-5h0m4 35h0m3-6h0m12-19h0m33 22h0m2-4h0m15 7h0m0-27h0m2 26h0m9-19h0m4-13h0m8 7h0m4 9h0m10-8h0m0 15h0m1 5h0m1-20h0m2 9h0m0-14h0m1 21h0m4-22h0m0 5h0m9 13h0m2-9h0m7 23h0m0-7h0m22-23h0m3 28h0m1-9h0m4-9h0m3 20h0m13-32h0m2 22h0m2 10h0m10 2h0m0-7h0m1-14h0m0-7h0m1 10h0m10 9h0m23-5h0m4 4h0m19-11h0m11-16h0m-467 66h0m2 6h0m9-20h0m7 6h0m3-17h0m6 1h0m18 31h0m9 4h0m6 0h0m14-11h0m2-6h0m11 6h0m16 3h0m120-16h0m0-7h0m0 17h0m1-20h0m2 15h0m5-14h0m3 28h0m2-15h0m6 4h0m4-10h0m3 14h0m10 12h0m1-19h0m2 4h0m14-3h0m13 16h0m9 0h0m19 1h0m4-19h0m4-18h0m2 8h0m2 5h0m6-5h0m10 27h0m1 3h0m1-17h0m3 5h0m2-1h0m3-7h0m7-3h0m1-13h0m14 23h0m8-10h0m3 21h0m0-17h0m0 16h0m6-2h0m2 1h0m14-15h0m13-16h0m7 22h0m4 0h0m8 9h0m27-12h0m3 2h0m-475 28h0m49 8h0m9 18h0m15-17h0m6-15h0m5-6h0m2-1h0m3 9h0m22 2h0m2-3h0m5 20h0m30-17h0m5-4h0m14 6h0m28 2h0m2 12h0m11-14h0m43-3h0m10 12h0m4 10h0m3-27h0m2 32h0m13-20h0m4 21h0m7-29h0m17-4h0m5 5h0m39-4h0m8 24h0m16-4h0m9 8h0m5-13h0m2-17h0m1 1h0m7 21h0m7 6h0m1-15h0m1 19h0m0-22h0m10 6h0m16 10h0m1-6h0m5-17h0m5 19h0m2-6h0m16 13h0m-455 23h0m3 8h0m10 14h0m17-28h0m23-5h0m35 21h0m60-10h0m8-16h0m3 22h0m5-15h0m3-5h0m4 32h0m34-12h0m11-1h0m6 17h0m3-22h0m5 20h0m7-22h0m12 20h0m20-29h0m37 0h0m1 11h0m0-11h0m0 11h0m6 21h0m2-20h0m2 8h0m12-11h0m11 22h0m1-4h0m7-29h0m1 32h0m8-21h0m11 13h0m2-19h0m4 22h0m24-7h0m4 15h0m19-17h0m5 13h0m2 2h0m22-16h0m4 11h0m4 2h0m-469 30h0m40-7h0m2-2h0m2 23h0m12-1h0m6-30h0m16 6h0m1 7h0m6 17h0m6-36h0m13 4h0m8 35h0m49-31h0m3 0h0m1 16h0m2 8h0m15-21h0m41-6h0m0 22h0m1-22h0m1 10h0m4 0h0m5 17h0m13-25h0m2 21h0m10-1h0m3-27h0m2 26h0m6 0h0m6-5h0m11 18h0m3-1h0m7-4h0m35-34h0m9 39h0m1 0h0m11-21h0m0 9h0m13-23h0m6-4h0m1 34h0m17-10h0m2 4h0m8-18h0m6 6h0m22-13h0m4 6h0m2 1h0m12 19h0m2-3h0m3-2h0m8-4h0m4 15h0m2-34h0m-421 48h0m14 15h0m2-4h0m6-19h0m2 23h0m3-16h0m0-8h0m17 15h0m56 19h0m2-10h0m8 14h0m14-9h0m2-11h0m3 4h0m0-3h0m15-14h0m5 16h0m19-4h0m10 3h0m9 4h0m3-16h0m42 26h0m3 3h0m2-33h0m4 3h0m1 32h0m5-10h0m3-16h0m7-4h0m2 15h0m13-7h0m4 19h0m14-20h0m2-4h0m4-3h0m4 2h0m1 13h0m10 8h0m4-15h0m6 1h0m2 1h0m0-13h0m9 17h0m5-1h0m19 3h0m13-7h0m15-5h0m4 12h0m4-5h0m4-10h0m8-6h0m5 19h0m12 15h0m-464 12h0m7 16h0m2-13h0m6 9h0m4-9h0m2 19h0m2-10h0m34-19h0m11 14h0m23-1h0m29 22h0m12-16h0m3-18h0m0 20h0m4-14h0m1-3h0m10-7h0m6 7h0m28 26h0m17 1h0m7-33h0m3 25h0m8-21h0m3-3h0m1-1h0m12 35h0m12-34h0m0 31h0m3-2h0m4-4h0m2-9h0m5-2h0m11 1h0m8 15h0m19-18h0m4 19h0m16-2h0m4-8h0m3 16h0m3-9h0m3 4h0m3-9h0m4-19h0m6 13h0m4 12h0m5-21h0m2 21h0m11-24h0m7-2h0m12 11h0m2 23h0m7-30h0m6 11h0m0-6h0m29 21h0m2-18h0m6-10h0m10 18h0m2-17h0m8 18h0m7 1h0m1 3h0m1-10h0m2 3h0m0 15h0m4-3h0m-476 12h0m34 29h0m5 2h0m5-37h0m1 35h0m17-29h0m2 14h0m6-21h0m75 25h0m40-24h0m8 5h0m5 19h0m4 4h0m16-6h0m6 1h0m12 14h0m7-13h0m16-10h0m3 12h0m3 6h0m2-15h0m1 1h0m2-7h0m17-7h0m5 4h0m3 3h0m3 8h0m5 7h0m1 6h0m2-11h0m4-6h0m3 2h0m2 14h0m13 5h0m8-13h0m4-22h0m0 5h0m3 23h0m2-7h0m3 14h0m0-37h0m7 7h0m6 25h0m35-27h0m4 29h0m1-1h0m1-22h0m30 5h0m3 4h0m2 3h0m4-1h0m16-21h0m-436 62h0m6 7h0m65-4h0m4-5h0m0-16h0m3 0h0m39 19h0m11-20h0m7 20h0m1-13h0m2 26h0m18-32h0m23 33h0m21-13h0m5-23h0m1 13h0m10 22h0m1-11h0m3 5h0m2-16h0m10 16h0m20-10h0m1 6h0m1-7h0m0-9h0m12 20h0m27-21h0m14 11h0m8 16h0m4-28h0m4 17h0m12-26h0m1 27h0m3-25h0m2 4h0m8 22h0m6-4h0m10-17h0m11 15h0m0 17h0m1-9h0m11-23h0m17 30h0m1-3h0m4-9h0m11 2h0m4-18h0m4 15h0m2-11h0m21 7h0" stroke="#ff7f0e" stroke-width="11.5" stroke-linecap="round" fill="none"/><path transform="scale(.1)" d="M2 15h0m13 17h0m125-31h0m5 0h0m8 36h0m26-9h0m85-25h0m1 35h0m18-19h0m10 0h0m4 0h0m33 13h0m120-10h0m28-15h0m-467 47h0m3 3h0m24 8h0m1-25h0m5 3h0m53 34h0m59-23h0m71 20h0m5-31h0m19 31h0m6-6h0m13-23h0m4 22h0m18-26h0m3 34h0m6-35h0m2 4h0m6 24h0m4 6h0m30-13h0m95-13h0m-436 46h0m25 16h0m102-9h0m14-1h0m2 3h0m123 0h0m54 9h0m49 2h0m12 3h0m51-32h0m-428 40h0m77-2h0m23 19h0m6-13h0m66 22h0m31-16h0m7-9h0m3-4h0m5 8h0m14 26h0m41-14h0m36 6h0m28 6h0m26-3h0m13-10h0m3 9h0m2-16h0m18-12h0m11 20h0m21 16h0m22 1h0m-441 18h0m50-2h0m7 19h0m213-25h0m10-1h0m8 25h0m3-27h0m40 33h0m13-26h0m16 16h0m20 6h0m56-12h0m8 7h0m-408 43h0m12-16h0m21 14h0m132-12h0m65-8h0m9 19h0m14 6h0m23-21h0m48 23h0m6-5h0m5 6h0m27-33h0m3 8h0m11 3h0m49-8h0m-404 69h0m105-25h0m7 23h0m13-28h0m25 16h0m35-1h0m51 11h0m2-5h0m14 1h0m26 8h0m66-19h0m54 8h0m6 10h0m-366 18h0m44 20h0m27-29h0m47 4h0m6 2h0m21 27h0m10-31h0m12 5h0m8-2h0m0 10h0m59-19h0m19 6h0m27-5h0m47 28h0m15-8h0m4 8h0m18-12h0m-441 31h0m17 26h0m18-26h0m2 23h0m0-13h0m21-8h0m36 23h0m15-9h0m3-15h0m32 8h0m12 17h0m1-24h0m48 6h0m91-8h0m16 10h0m3-4h0m-300 36h0m17 16h0m29 0h0m44-19h0m38 23h0m39-27h0m1 11h0m1 6h0m3-11h0m83 21h0m48-28h0m4 22h0m7-5h0m6-19h0m10 14h0m4-15h0m18 19h0m3 14h0m8-12h0m34-5h0m11-17h0m3 23h0m2 5h0m-318 13h0m16 24h0m26-9h0m5 13h0m21-27h0m3 23h0m16 12h0m62-13h0m68 13h0m61-26h0m10 12h0m32-18h0m-440 42h0m1 23h0m70 0h0m32-27h0m46 2h0m92 21h0m30-25h0m41 29h0m16-25h0m6 3h0m26 14h0m8 17h0m40-24h0m30 0h0" stroke="#2ca02c" stroke-width="11.5" stroke-linecap="round" fill="none"/><path transform="scale(.1)" d="M37 34h0m2-12h0m18-19h0m5 1h0m4 19h0m23-4h0m6-17h0m1 17h0m3 0h0m6-12h0m3 25h0m1-14h0m32 14h0m114-2h0m3-25h0m59 6h0m41 7h0m7 15h0m2-10h0m42 4h0m22-22h0m6 33h0m1 0h0m1-9h0m18-10h0m-435 29h0m16 20h0m9-18h0m4 1h0m60-10h0m69 5h0m73 3h0m3-4h0m7 22h0m5-27h0m7 2h0m21 1h0m33 28h0m40-30h0m6 9h0m27 29h0m9-37h0m3-2h0m13 4h0m22 16h0m-444 49h0m5 5h0m12-22h0m19 14h0m37-5h0m20 15h0m50-25h0m45 13h0m11-1h0m21 16h0m30-21h0m4-7h0m8 27h0m29-35h0m16 19h0m4-12h0m0 0h0m43 10h0m10-3h0m17 7h0m1 14h0m5-32h0m46 12h0m32-2h0m1 8h0m3-19h0m5 8h0m1 2h0m-447 47h0m70-6h0m9-10h0m26 11h0m29-15h0m31 36h0m20-9h0m4 1h0m6-28h0m2 7h0m3-9h0m27 16h0m11 20h0m36-35h0m30 34h0m36-8h0m40-20h0m-409 66h0m6-11h0m8 12h0m9-20h0m13 17h0m2 1h0m12-4h0m15-12h0m11-7h0m7-7h0m17 36h0m17-36h0m18 14h0m9 12h0m9 6h0m7 0h0m6-10h0m2 1h0m13-13h0m17 14h0m9 4h0m1 4h0m21-25h0m59 20h0m17-3h0m19-19h0m19 32h0m34 0h0m-336 6h0m31 16h0m38-12h0m1 8h0m72-11h0m2 5h0m28 7h0m5-11h0m4 14h0m65-18h0m32 9h0m17-1h0m20 11h0m2-11h0m2 22h0m7-7h0m23-23h0m2-3h0m54 6h0m5 33h0m4-29h0m-451 66h0m10-16h0m19 13h0m63-31h0m12 16h0m18 14h0m7 5h0m9-20h0m5 10h0m18-15h0m5 7h0m36-3h0m51 11h0m23-13h0m2 6h0m6 11h0m0-3h0m13-10h0m2 0h0m14 14h0m3 4h0m1-3h0m12-17h0m11 19h0m9-3h0m70-28h0m2 30h0m3-12h0m26-14h0m4 13h0m14-14h0m-468 50h0m31 10h0m5-24h0m11 30h0m66-31h0m24 24h0m6-9h0m9-11h0m166 9h0m11 14h0m9 0h0m1-28h0m7 27h0m4-3h0m7-8h0m5-7h0m85 27h0m3-17h0m-439 58h0m22-15h0m55 2h0m31 10h0m5 1h0m29-25h0m8 21h0m59 2h0m5 5h0m13-2h0m31-9h0m39-23h0m11 1h0m73 13h0m6-17h0m26-2h0m1 8h0m2 14h0m32 8h0m5 0h0m-471 24h0m8 18h0m13-4h0m1-12h0m2 6h0m105-20h0m22 34h0m4-28h0m16 13h0m55 18h0m5-39h0m41 15h0m18-1h0m12 6h0m17-13h0m19-7h0m7 19h0m44-10h0m15-4h0m11-5h0m2 7h0m57 0h0m1 13h0m-474 51h0m34-1h0m51-13h0m22 4h0m16 18h0m16-19h0m11 12h0m17-18h0m6 1h0m17 23h0m6-14h0m2-13h0m9 26h0m7-3h0m18-10h0m12 2h0m20 9h0m25 2h0m10 0h0m7-30h0m5 7h0m22-13h0m27 11h0m19-1h0m70 27h0m2-11h0m10 2h0m10-8h0m-396 24h0m18 23h0m18-7h0m13-11h0m3 4h0m18-1h0m17-12h0m21 16h0m46-9h0m117 31h0m31-36h0m47 26h0m3 9h0m5-25h0m12 23h0m14 1h0m4 1h0" stroke="#fff" stroke-width="9.0" stroke-linecap="round" fill="none"/><path transform="scale(.1)" d="M134 27h0m51-7h0m96 1h0m145 7h0m6 7h0m-383 42h0m407-33h0m-418 70h0m129-5h0m14 5h0m111-26h0m84 22h0m24 6h0m19 2h0m-94 5h0m89 11h0m-410 29h0m7 0h0m15 20h0m35 10h0m31-13h0m153-5h0m0 16h0m80-17h0m5 22h0m-109 17h0m-37 65h0m113-20h0m14 10h0m1 3h0m36-14h0m5-8h0m70 38h0m17-6h0m-393 43h0m182 17h0m102-1h0m-210 24h0m173 22h0m45-17h0m134 30h0m-471 38h0m0-7h0m124-24h0m70 4h0m3 10h0m55 4h0m0-6h0m6-1h0m9 15h0m146-7h0m52-22h0m-394 74h0m5-1h0m2-4h0m362-3h0m19-11h0" stroke="#fff" stroke-width="22.0" stroke-linecap="round" fill="none"/></pattern>
<pattern id="pg" width="48" height="48" patternUnits="userSpaceOnUse"><rect width="48" height="48" fill="#93b97f"/><path transform="scale(.1)" d="M7 11h0m11 14h0m11-11h0m7-13h0m15 23h0m185-9h0m23 7h0m79-8h0m18 3h0m15 14h0m3-24h0m0 21h0m-344 43h0m43-6h0m76-13h0m40 11h0m119 15h0m2-32h0m21 19h0m79-21h0m38 32h0m-421 35h0m28-15h0m2 11h0m2-2h0m118-15h0m10 10h0m104 2h0m66 7h0m32 1h0m43-13h0m31 21h0m-382 4h0m9 32h0m39-2h0m98-18h0m66 15h0m36-25h0m7 27h0m48-10h0m76 18h0m-364 29h0m3-13h0m8 7h0m37-13h0m14 13h0m38 14h0m52-15h0m69-10h0m41-5h0m111 32h0m-422 40h0m92 1h0m38-37h0m4 35h0m4-1h0m61-13h0m39-20h0m65 4h0m30 13h0m17-12h0m35 28h0m-403 35h0m0-22h0m101-6h0m30 29h0m40-13h0m190 12h0m-374 12h0m62 25h0m7-25h0m27 4h0m72 15h0m19-18h0m13 30h0m51-12h0m40 3h0m-220 44h0m4-7h0m3-8h0m8 2h0m17-6h0m85-7h0m3 26h0m62-21h0m15 23h0m17-12h0m41 5h0m2-11h0m51 16h0m-385 44h0m1-23h0m6-8h0m23 15h0m144-7h0m27-10h0m14 31h0m43 8h0m90-39h0m42 3h0m15 25h0m1-15h0m1 8h0m-391 45h0m5-11h0m61-3h0m95 13h0m38-23h0m2 32h0m71-4h0m66-7h0m80 8h0m-358 20h0m125 26h0m48-14h0" stroke="#1f77b4" stroke-width="11.5" stroke-linecap="round" fill="none"/><path transform="scale(.1)" d="M51 7h0m16 22h0m26-15h0m35-6h0m1-2h0m2-1h0m13 2h0m19 29h0m61-17h0m7-5h0m6 15h0m13-3h0m24 9h0m14-29h0m72 22h0m25-13h0m64-6h0m18 1h0m-448 46h0m5 19h0m37-13h0m3 16h0m32-38h0m4 30h0m30 0h0m12-2h0m67 2h0m17-30h0m66 35h0m55-4h0m37-10h0m82-10h0m7 21h0m6 7h0m-346 29h0m34-2h0m50-15h0m37 24h0m2-1h0m2-5h0m85-3h0m15 6h0m27-9h0m75 12h0m-440 38h0m41-27h0m5 16h0m209-2h0m9 15h0m10-30h0m20 31h0m30-15h0m2 18h0m48-34h0m10 20h0m4 11h0m66-14h0m-434 26h0m32-5h0m4 9h0m19 9h0m1 3h0m10 4h0m19-6h0m130 11h0m43-3h0m9-5h0m66-23h0m41 21h0m33-9h0m21 4h0m-457 46h0m13 7h0m41-20h0m55 27h0m9-35h0m5-3h0m7 31h0m27-28h0m11 20h0m15-1h0m51 10h0m59-7h0m32-9h0m10 13h0m11-28h0m38 31h0m8 6h0m64-12h0m-463 49h0m69 4h0m25-30h0m9 27h0m9-35h0m4 4h0m4 11h0m85-1h0m47 10h0m66-8h0m18 20h0m63 2h0m3-15h0m24 3h0m2 2h0m7 6h0m3-15h0m5-5h0m0 9h0m21 15h0m-465 34h0m60-19h0m45-5h0m203 5h0m13-6h0m89-3h0m51 0h0m0 6h0m10 22h0m-418 10h0m49 21h0m35-10h0m44-5h0m8-9h0m64 29h0m45 5h0m3-25h0m74 29h0m14-16h0m14-4h0m-393 60h0m18-29h0m24 6h0m19 7h0m14-10h0m33-4h0m14 3h0m55-11h0m25 38h0m21 1h0m34-15h0m44-7h0m31-6h0m19-2h0m14 20h0m27-28h0m5 25h0m13-5h0m1-14h0m16-5h0m14 1h0m1 26h0m-437 27h0m25-16h0m68 32h0m1 1h0m156-33h0m21 37h0m12-10h0m42-25h0m28 32h0m6-9h0m56-25h0m42 3h0m-445 66h0m8-4h0m17-4h0m42 5h0m2-24h0m9 24h0m12 13h0m221-34h0m129 9h0m6 16h0" stroke="#ff7f0e" stroke-width="11.5" stroke-linecap="round" fill="none"/><path transform="scale(.1)" d="M14 13h0m1 9h0m53-2h0m28 3h0m13 4h0m7 6h0m2-17h0m0-13h0m8 10h0m9 0h0m6 8h0m3-9h0m1 5h0m3 16h0m5-1h0m11-1h0m5 2h0m7-21h0m4-3h0m0 19h0m3-7h0m23 5h0m15 2h0m5-5h0m1 11h0m1-19h0m1 23h0m6-20h0m16-1h0m5 5h0m7-12h0m15 10h0m6-16h0m7 15h0m12 16h0m2-7h0m5-28h0m1 34h0m5-3h0m11-15h0m8-7h0m7 9h0m12-14h0m9 0h0m1 12h0m11 22h0m27-28h0m7-9h0m4 17h0m3 3h0m2-11h0m1 19h0m5-22h0m5 0h0m3 31h0m1-15h0m5-6h0m15 1h0m1-8h0m0 23h0m22 2h0m-472 27h0m13-12h0m8 29h0m11-28h0m6-2h0m23 14h0m9-14h0m2 20h0m13-28h0m4 21h0m14-7h0m16-3h0m1 22h0m1-32h0m8 26h0m7 6h0m3-11h0m9 9h0m21-15h0m9 17h0m0-30h0m13 28h0m3-30h0m0 24h0m1-18h0m5 4h0m8-2h0m5 1h0m14-2h0m2 24h0m3-1h0m2-10h0m1-19h0m1 18h0m18-21h0m1 5h0m1 7h0m9-5h0m0 32h0m8-4h0m10-4h0m1-4h0m9-24h0m1 29h0m7-7h0m5-8h0m5-16h0m8 23h0m0-3h0m9-17h0m1 4h0m5 7h0m16-4h0m2-4h0m8 24h0m1-13h0m9 3h0m2-13h0m37 23h0m13-12h0m12-5h0m15 24h0m-442 36h0m26-15h0m1 7h0m1-15h0m42 28h0m10-5h0m2-13h0m5 15h0m9-17h0m3 4h0m48 6h0m10-14h0m8-13h0m1 17h0m15 3h0m14 17h0m1-5h0m21-14h0m10 18h0m19-8h0m6-1h0m14-2h0m3-19h0m10 15h0m12 8h0m1-17h0m19-10h0m16 5h0m2 7h0m5 3h0m7-16h0m5 11h0m1 11h0m18-4h0m5 14h0m1 1h0m8-6h0m2 1h0m5-6h0m11 5h0m3-7h0m6-19h0m11 15h0m30 4h0m16-11h0m5 1h0m-477 45h0m16-18h0m5 20h0m4-13h0m17-2h0m2 4h0m4 1h0m26-1h0m1 5h0m27-8h0m6 24h0m13-13h0m3 4h0m10 16h0m6-14h0m7 14h0m1-29h0m1 8h0m6 8h0m1-10h0m7-4h0m2 27h0m6-17h0m3 5h0m2-4h0m5-14h0m0 12h0m7 10h0m1-27h0m22 4h0m8 26h0m2-31h0m22 9h0m2 29h0m7-39h0m2 23h0m7 5h0m11 6h0m10-22h0m24 12h0m4 9h0m4-8h0m13-6h0m13 17h0m1-28h0m3 16h0m2-3h0m12-14h0m12 20h0m6-26h0m1-1h0m8 33h0m18-12h0m14-6h0m19-12h0m9 26h0m2-29h0m6 9h0m0 9h0m1 21h0m7-21h0m2 4h0m0-11h0m8 23h0m2 4h0m-467 34h0m3-11h0m4 5h0m9 6h0m2-19h0m14-9h0m1 7h0m5 2h0m14 2h0m9 20h0m19-27h0m1 2h0m24 7h0m6-17h0m12 15h0m2 21h0m14-35h0m4 13h0m12 12h0m3 4h0m7-19h0m2 0h0m13 1h0m7-10h0m6 16h0m3-8h0m7 27h0m23-25h0m4 12h0m7-16h0m19 17h0m2-7h0m4-14h0m6 10h0m9-4h0m10 14h0m6 8h0m13 1h0m1-11h0m19-21h0m1 24h0m1 7h0m5 4h0m27-24h0m1 19h0m2-13h0m6-18h0m10 28h0m3 9h0m5-1h0m5-17h0m4 2h0m22 12h0m10-17h0m10-9h0m-433 53h0m1 17h0m1-19h0m1 4h0m1-21h0m24 28h0m1 2h0m0 2h0m20-18h0m8 19h0m23-14h0m5 13h0m25-19h0m2 4h0m13 19h0m3-32h0m17 28h0m1-10h0m3-9h0m7 9h0m4-22h0m8 18h0m12-3h0m1 9h0m9-2h0m4-17h0m4-1h0m5 34h0m5-19h0m20 10h0m9-7h0m0 13h0m20-1h0m15-7h0m20-17h0m5 15h0m0 2h0m1-12h0m3-14h0m4 0h0m12 5h0m9 3h0m10 11h0m1 7h0m1-10h0m6-5h0m2 1h0m1-2h0m1 25h0m9-3h0m2-28h0m3 4h0m8 7h0m4-10h0m10 1h0m6 23h0m1-22h0m2 16h0m4-17h0m4 23h0m5-11h0m12 13h0m16-32h0m7 6h0m13 1h0m2 6h0m1-12h0m-468 39h0m7 34h0m22-21h0m1 4h0m1-2h0m5 10h0m1-7h0m4 9h0m0-5h0m6-1h0m6 14h0m14-22h0m13 14h0m1-20h0m4 15h0m39 12h0m21-35h0m8 28h0m23 11h0m4-8h0m25 6h0m2-5h0m15-25h0m3 5h0m1-2h0m4 9h0m9 5h0m1 9h0m9-24h0m7-1h0m4 3h0m3 18h0m7-11h0m4 4h0m8 5h0m23-27h0m5 3h0m8 34h0m5-15h0m12 4h0m68-14h0m14 11h0m6 8h0m4-26h0m3 12h0m8-11h0m3 25h0m5-16h0m6-7h0m2 24h0m2-21h0m8 17h0m2-13h0m11 10h0m0 3h0m-468 27h0m1-9h0m3 0h0m6-4h0m27 2h0m3-3h0m3-1h0m4 18h0m6-8h0m9 29h0m2-29h0m1-5h0m5 27h0m5-22h0m11 26h0m4-29h0m11 7h0m4 11h0m9 4h0m1 10h0m28-32h0m52 5h0m5 19h0m5-26h0m6 1h0m11-6h0m11 5h0m36 5h0m5 26h0m1-7h0m26-1h0m1-25h0m10 19h0m38 5h0m2-1h0m10 1h0m2-19h0m8-3h0m5-2h0m0 9h0m4 21h0m2 3h0m7-35h0m11 1h0m19 11h0m4 8h0m8 12h0m17 0h0m1-24h0m2 7h0m1 16h0m3-19h0m8-2h0m-449 33h0m8 0h0m3-3h0m1 26h0m5-9h0m6 19h0m10-24h0m13-5h0m13 22h0m3-15h0m18-8h0m2-7h0m0 10h0m1 24h0m9-34h0m22 11h0m18-2h0m4 7h0m9 15h0m0-28h0m2 4h0m1 22h0m10-4h0m6-20h0m4 29h0m11-14h0m2-14h0m23 30h0m18-8h0m8-17h0m7 24h0m33-19h0m0-9h0m9 2h0m23 16h0m9-9h0m7-4h0m3 10h0m7-6h0m5-11h0m12 8h0m8 1h0m16 25h0m6-29h0m2-6h0m5-2h0m4 17h0m15 14h0m1-25h0m0 4h0m4 14h0m4-16h0m7-7h0m6 3h0m3-6h0m-446 60h0m2-7h0m5 12h0m0 2h0m1 6h0m10-5h0m31 1h0m0 4h0m5-19h0m9 1h0m5 22h0m12-35h0m33 23h0m17-22h0m13 32h0m13 1h0m10-1h0m3-33h0m8 35h0m9-1h0m22-3h0m5-15h0m0-11h0m2 31h0m2 1h0m5-18h0m0 10h0m4 4h0m0-16h0m1-5h0m8 7h0m8-5h0m1 7h0m8 14h0m5-22h0m24 21h0m4-3h0m18-5h0m12-12h0m22 7h0m4 6h0m10-14h0m7-7h0m1 0h0m1 3h0m15 10h0m3 9h0m22-13h0m1 21h0m1-18h0m4-16h0m15 34h0m12-35h0m1 29h0m3 4h0m6 2h0m1-3h0m22-13h0m0 6h0m2-15h0m4 23h0m-476 11h0m29 22h0m0-4h0m18 7h0m9-25h0m7 6h0m0 16h0m5 6h0m58-2h0m15-19h0m3 12h0m26 8h0m27-22h0m6-12h0m3 9h0m7-5h0m8 23h0m27-5h0m3-9h0m12-5h0m9 12h0m4-7h0m1-11h0m10 13h0m7 13h0m6-21h0m11 17h0m16 10h0m21-3h0m33-20h0m2-10h0m10 34h0m2-20h0m5 22h0m4-19h0m3 19h0m4-30h0m0 4h0m4 22h0m2-1h0m1-2h0m4-16h0m34 5h0m-442 32h0m9 11h0m2-20h0m11 8h0m7 13h0m0 10h0m1-31h0m7 17h0m10 17h0m29 1h0m2-19h0m19-6h0m15 10h0m6 17h0m7-16h0m26-9h0m22 9h0m29 13h0m28-23h0m14 25h0m5-30h0m7 5h0m1-13h0m4 25h0m8-20h0m0 23h0m0 1h0m5-7h0m5-1h0m1 8h0m5-12h0m7 9h0m0-1h0m3-22h0m3 35h0m5-34h0m18 25h0m0-27h0m2 31h0m22-29h0m0 35h0m3-10h0m8-27h0m0-2h0m8 22h0m19-10h0m13-9h0m8 20h0m1 13h0m12 2h0m2-35h0m5 24h0m1-27h0m10 35h0m16-29h0" stroke="#2ca02c" stroke-width="11.5" stroke-linecap="round" fill="none"/><path transform="scale(.1)" d="M59 15h0m73 12h0m2 12h0m22-12h0m35-20h0m17-6h0m0 10h0m39 20h0m21-6h0m29-20h0m30 15h0m1 1h0m5-11h0m34 22h0m28-5h0m67-13h0m-429 58h0m38-32h0m2 12h0m17-6h0m119 9h0m36 16h0m4-24h0m39 6h0m89-6h0m68 8h0m13 12h0m5-26h0m9 1h0m-401 60h0m1-8h0m25 18h0m177-12h0m15-19h0m125 22h0m20-3h0m34 2h0m7-9h0m2-4h0m-450 61h0m32 8h0m18-6h0m14-7h0m24 6h0m20-7h0m1 4h0m32 10h0m22-29h0m55 13h0m8 12h0m9-20h0m0 13h0m35 12h0m113-33h0m18 14h0m51-20h0m-476 78h0m16 0h0m31 1h0m6-36h0m8 3h0m41 11h0m8 6h0m18 12h0m2-35h0m17 26h0m28-4h0m44-21h0m18-1h0m10 10h0m10-7h0m54 12h0m9 20h0m38-32h0m81 3h0m37 32h0m-471 6h0m14-1h0m7 3h0m20 12h0m15-6h0m31-4h0m3 20h0m69-13h0m26 5h0m15-15h0m35 30h0m82-33h0m129 37h0m-441 40h0m26-20h0m8 2h0m5 17h0m36-6h0m21-7h0m154 10h0m0-28h0m2 3h0m20 16h0m109-11h0m22 23h0m24-11h0m21-17h0m-384 32h0m5 29h0m2-13h0m27 15h0m80-4h0m4 9h0m51-2h0m56-21h0m11 16h0m2-19h0m2 4h0m11 1h0m8 17h0m54-25h0m36 7h0m-395 28h0m6 30h0m36-31h0m19-3h0m11 5h0m7 3h0m117 4h0m24 5h0m34 13h0m8-1h0m0-13h0m9-16h0m36 2h0m41 32h0m27-13h0m8 10h0m0-24h0m-264 65h0m15-20h0m12-4h0m36 7h0m86 8h0m20-5h0m33-15h0m23 22h0m3 11h0m7-33h0m3 15h0m38 5h0m27-21h0m3-1h0m18 27h0m-457 19h0m10 28h0m1-27h0m10 6h0m76 12h0m6-10h0m76-4h0m35 13h0m20-15h0m12 29h0m6-34h0m54 8h0m5 15h0m25-11h0m72-17h0m7 30h0m12-2h0m-407 46h0m9-17h0m13-9h0m0 20h0m56-24h0m1 27h0m130-22h0m43-8h0m12 34h0m16-19h0m3 16h0m14-11h0m17 12h0m14-12h0m4-15h0m34 29h0m2-11h0m4-16h0m8 8h0m59 5h0" stroke="#d62728" stroke-width="11.5" stroke-linecap="round" fill="none"/><path transform="scale(.1)" d="M58 2h0m29 5h0m16 23h0m32-24h0m5 3h0m56 6h0m16 8h0m10 14h0m6-26h0m10 4h0m19-9h0m6 8h0m29 9h0m17 11h0m29-3h0m11-20h0m34 27h0m4-24h0m-381 63h0m41-31h0m105 25h0m35-24h0m44 10h0m21 12h0m7-6h0m31 11h0m21-2h0m50-5h0m3-23h0m45 11h0m2-11h0m23 30h0m10-1h0m7-29h0m12 20h0m-443 17h0m14 18h0m6-7h0m8-2h0m148 9h0m70-16h0m58 19h0m5-7h0m71 8h0m36-4h0m17-11h0m-436 45h0m8-2h0m54 14h0m17 9h0m4-25h0m91 24h0m27 4h0m21-2h0m44 4h0m3-35h0m23 15h0m14 18h0m64-11h0m4-9h0m23-8h0m50 19h0m-463 45h0m6 5h0m51-27h0m20 28h0m20-25h0m62 11h0m107 6h0m18-21h0m4 7h0m3-2h0m2 2h0m69-2h0m34 15h0m9 3h0m25-18h0m39 23h0m2-29h0m-452 37h0m20-2h0m23 5h0m75 3h0m5 15h0m1-17h0m1-3h0m47 26h0m250-13h0m17-5h0m3 4h0m4 0h0m2 16h0m6-28h0m-470 39h0m38 11h0m87-15h0m12 20h0m14-11h0m9-2h0m20-7h0m23 32h0m39 1h0m42-20h0m76 12h0m52-23h0m13-2h0m16 29h0m3 4h0m-447 20h0m6 8h0m2-18h0m44 32h0m6-32h0m7 10h0m5 19h0m60-9h0m38 3h0m117-16h0m53-11h0m11 18h0m28-19h0m21 2h0m44 1h0m11 0h0m-441 60h0m18-5h0m43 15h0m2-25h0m26 1h0m9 19h0m58-14h0m84-14h0m33 16h0m10-2h0m17-11h0m41 17h0m117-20h0m-462 75h0m23 4h0m87-6h0m46-10h0m27 5h0m45-26h0m16 17h0m16-10h0m1-1h0m42 16h0m14-1h0m5-11h0m32-6h0m23 11h0m17-4h0m5 24h0m8-36h0m1 24h0m46-15h0m14-4h0m-449 37h0m8 27h0m5-14h0m14 17h0m23 2h0m4-35h0m31 22h0m34-12h0m85 27h0m6-24h0m60-9h0m22 1h0m26 15h0m23 5h0m15 0h0m11-1h0m22 0h0m-278 46h0m3-8h0m77-11h0m68 25h0m34-35h0m18 16h0m9-1h0m3 7h0m19 0h0m27-14h0m23 2h0m34 22h0" stroke="#d62728" stroke-width="11.5" stroke-linecap="round" fill="none"/><path transform="scale(.1)" d="M6 39h0m17-33h0m96-5h0m62 0h0m8 16h0m32 1h0m18 14h0m109-7h0m4 0h0m15 13h0m5-7h0m-370 30h0m3 15h0m248-23h0m21 9h0m18 9h0m9-14h0m17 21h0m13-1h0m75-37h0m19 5h0m24 0h0m-394 72h0m33-14h0m33-22h0m10 37h0m109 1h0m118-29h0m13 14h0m2 12h0m48-2h0m1-12h0m20-9h0m-411 30h0m26 5h0m130 6h0m12-12h0m69 32h0m97-3h0m-349 22h0m90-3h0m20 22h0m10-10h0m124 1h0m3-10h0m12-9h0m14 11h0m41 6h0m63 4h0m22 1h0m44-24h0m-402 38h0m55 8h0m100 4h0m4 13h0m100-13h0m89-3h0m7 15h0m10-22h0m37 28h0m-353 29h0m110-6h0m5 2h0m26-4h0m8 8h0m26-6h0m160 5h0m11 15h0m-425 27h0m52 16h0m44-16h0m182-7h0m30 25h0m3-27h0m21-4h0m47 10h0m-256 24h0m44 25h0m123 0h0m26 1h0m22-5h0m21 2h0m64-18h0m-314 65h0m56 5h0m43-21h0m48 23h0m19-28h0m25 8h0m84-8h0m33 7h0m6-6h0m8 20h0m-176 10h0m34 6h0m14 2h0m44 20h0m0-28h0m85 4h0m-448 61h0m1-6h0m34-9h0m2 1h0m23 11h0m135 1h0m19 13h0m30-3h0m19-20h0m33 11h0m3-1h0m17-11h0m63 21h0m34-27h0m18 8h0m8 14h0" stroke="#1f77b4" stroke-width="11.5" stroke-linecap="round" fill="none"/><path transform="scale(.1)" d="M1 16h0m77 0h0m64-4h0m26 19h0m41-5h0m26 13h0m76-1h0m39-33h0m12 1h0m46 20h0m3-10h0m34-15h0m-441 50h0m61-2h0m0 19h0m6-26h0m5 17h0m23 4h0m104-6h0m25-16h0m4 3h0m15 16h0m1-3h0m6 6h0m0-19h0m3 30h0m23-26h0m2 13h0m36 7h0m12-4h0m5-21h0m44 25h0m66-8h0m2-16h0m10 6h0m19 15h0m-463 40h0m17 13h0m17-13h0m33 8h0m11-20h0m19-6h0m40 11h0m23 4h0m6-22h0m14 9h0m71-6h0m62 27h0m43-19h0m14 26h0m42-29h0m22 12h0m-250 43h0m6-12h0m57-9h0m40 16h0m21 16h0m1-2h0m7-29h0m8 32h0m38-24h0m3 5h0m22 2h0m57-5h0m18 1h0m-418 32h0m2 6h0m23-12h0m45 9h0m10 24h0m9-33h0m108 15h0m39 11h0m18 0h0m8-10h0m149 2h0m4-12h0m-466 40h0m50 26h0m2 5h0m76-24h0m8 4h0m18-4h0m40-4h0m52-4h0m58 14h0m66-6h0m8-1h0m12 25h0m37-25h0m-314 34h0m53-1h0m31 5h0m3 2h0m18 11h0m18 10h0m18-15h0m3 0h0m93-2h0m64-6h0m15 5h0m7 0h0m16-5h0m14 10h0m4 13h0m-458 30h0m1-8h0m16 20h0m16-4h0m4-5h0m11 2h0m25 9h0m53 2h0m35-3h0m49-31h0m49 15h0m2 18h0m40-15h0m59 1h0m6-11h0m74-6h0m20 4h0m1 1h0m-425 29h0m2 28h0m38-23h0m87 22h0m44-25h0m61 34h0m-268 42h0m53-15h0m35-24h0m118 10h0m60-6h0m16 11h0m12 3h0m64 17h0m10-26h0m12 18h0m17-22h0m25 20h0m34 4h0m-417 33h0m30 16h0m9-23h0m59-6h0m62 5h0m32 4h0m5-6h0m22 4h0m4 23h0m76-8h0m6-28h0m31 34h0m59-15h0m6 8h0m2-22h0m-443 51h0m114 11h0m2-18h0m4 23h0m37-6h0m55-6h0m30-17h0m8-4h0m15 15h0m2 21h0m40-3h0m47-20h0m33 6h0m4 17h0m56-31h0" stroke="#ff7f0e" stroke-width="11.5" stroke-linecap="round" fill="none"/><path transform="scale(.1)" d="M13 9h0m8-6h0m13 0h0m7 21h0m4 6h0m12-27h0m8 18h0m23 15h0m5-36h0m8 33h0m2-9h0m4-15h0m9 27h0m4-34h0m5 13h0m4-1h0m3 2h0m36 1h0m2 4h0m8 6h0m3-12h0m1-8h0m4 8h0m6-6h0m1 11h0m18 11h0m2-9h0m5 2h0m19-23h0m2 3h0m2 4h0m8 27h0m3-16h0m3-6h0m4 0h0m9 8h0m19-5h0m18-10h0m5 4h0m5-9h0m5 33h0m1-25h0m2 21h0m10 0h0m7-18h0m5 7h0m21 11h0m1-29h0m2 20h0m3-12h0m8-6h0m4 8h0m6 5h0m3-13h0m3 24h0m3 10h0m2-6h0m10-17h0m8 21h0m5-28h0m5 21h0m9-22h0m16 11h0m-453 60h0m3-14h0m26-12h0m25 10h0m6 3h0m14-19h0m2 7h0m5 8h0m0-11h0m1 6h0m1 22h0m4 2h0m10-13h0m55-10h0m5 18h0m2-2h0m2 5h0m3-31h0m24-6h0m1 4h0m2 20h0m5-17h0m3-1h0m1 2h0m4-2h0m5-6h0m22 5h0m1 4h0m3-1h0m9-5h0m5 14h0m8 8h0m2-11h0m1-8h0m6 2h0m5 19h0m1-9h0m2 11h0m2-14h0m12 9h0m9-3h0m3-2h0m2-12h0m15 11h0m2 14h0m19-7h0m6-20h0m6-3h0m1 11h0m0-11h0m13 8h0m16 5h0m1 23h0m9-15h0m3 1h0m8-6h0m7-13h0m3-3h0m12 16h0m1 21h0m7-25h0m13-9h0m3 9h0m3-7h0m5 23h0m8 8h0m3-1h0m1-4h0m6-5h0m1-11h0m-469 43h0m3 17h0m6-22h0m10 0h0m32-13h0m1 36h0m9-6h0m8-27h0m0 29h0m2-31h0m1 27h0m27-30h0m11 23h0m15-21h0m1 13h0m12 6h0m2-13h0m12 11h0m16-4h0m6 16h0m3 0h0m8-12h0m20 19h0m2-35h0m16-2h0m2 20h0m37 1h0m3-12h0m3 26h0m1-27h0m5 7h0m16 9h0m0-10h0m4 24h0m1-9h0m0 4h0m13-5h0m20-2h0m11-20h0m0 16h0m2 3h0m8 10h0m2-1h0m4-25h0m15 25h0m19-2h0m13-2h0m4-11h0m0 19h0m4-29h0m11 26h0m4-34h0m23 36h0m4-10h0m-457 17h0m17 0h0m7 5h0m14 22h0m12-29h0m2 15h0m4-14h0m26 19h0m8 13h0m21-1h0m4-25h0m3 1h0m4 26h0m2-9h0m0 11h0m47-15h0m1-19h0m2 26h0m0-18h0m5-1h0m3 24h0m1 2h0m2-20h0m12-12h0m9 29h0m4-29h0m2 9h0m9-4h0m8 17h0m9-6h0m2 5h0m4 4h0m1-26h0m8 31h0m1-15h0m1 1h0m6-11h0m31 16h0m7 6h0m2 4h0m3-11h0m2-4h0m9-19h0m0 12h0m2-8h0m1-2h0m24 24h0m28-26h0m8 10h0m4 19h0m0-13h0m11 6h0m10-6h0m12-10h0m29 19h0m1 11h0m10-2h0m15-22h0m3-11h0m-471 39h0m18 13h0m1-10h0m30-5h0m29 16h0m2 12h0m13-27h0m9 13h0m3-8h0m5 29h0m5-27h0m1 26h0m24-25h0m10-7h0m14-1h0m10 26h0m5-15h0m5-2h0m4 0h0m6 20h0m48-18h0m10-9h0m18 20h0m6 3h0m9 0h0m40-1h0m10 6h0m12-32h0m3 17h0m50 8h0m23-8h0m9 2h0m8 13h0m17 7h0m2-15h0m16 8h0m-478 18h0m5 2h0m10-11h0m1 15h0m3 4h0m1-12h0m3 27h0m7-3h0m1-23h0m1 18h0m27 2h0m13 1h0m5-25h0m26 31h0m2-16h0m8 16h0m1-15h0m2 9h0m6-8h0m3-2h0m1 19h0m1-5h0m1 2h0m5-9h0m3-12h0m2 9h0m2-3h0m1-2h0m29-18h0m4 24h0m12 13h0m15-26h0m24 23h0m9-24h0m21 15h0m50-4h0m4 0h0m8-4h0m7-9h0m14 4h0m15 21h0m1-14h0m7-12h0m3 16h0m7 7h0m7-19h0m2 13h0m2-17h0m0-2h0m2-1h0m0 6h0m6 9h0m5-16h0m2 0h0m4 10h0m6 12h0m6-4h0m4 16h0m17-11h0m20-18h0m3 3h0m3 21h0m11-22h0m-465 36h0m27 24h0m6-7h0m2 12h0m3-25h0m7 26h0m5-34h0m4 3h0m16 12h0m4-15h0m0 13h0m2 5h0m2-10h0m38 10h0m10-19h0m26 16h0m4-3h0m44-12h0m6-2h0m18 29h0m4-18h0m14 2h0m6-3h0m1 22h0m7-22h0m1-9h0m0 21h0m3-14h0m1-9h0m25 23h0m11 11h0m1-28h0m3 5h0m4 2h0m6-3h0m11 26h0m11-15h0m3-13h0m11 21h0m9 5h0m2-33h0m14 11h0m5-9h0m0 15h0m3-5h0m22-13h0m9 15h0m7 20h0m0-28h0m0 18h0m11-25h0m8 17h0m0 3h0m8-1h0m4-5h0m18 7h0m1-8h0m-463 54h0m14-11h0m1 2h0m23 21h0m1-9h0m12-10h0m5 17h0m6-10h0m12-3h0m4-3h0m29 17h0m7-9h0m54-10h0m15 3h0m6 13h0m13-9h0m3 7h0m0-10h0m21-7h0m6-7h0m2 7h0m19-9h0m28 17h0m15 14h0m4-7h0m2 0h0m3-25h0m4 4h0m1 7h0m5 3h0m1 12h0m8-5h0m12-23h0m6 19h0m28-2h0m6-8h0m40 18h0m8-4h0m2-10h0m7 13h0m6 8h0m17-32h0m4 20h0m5-11h0m3-6h0m-460 45h0m2-3h0m11 16h0m2-25h0m5 37h0m6-37h0m4 25h0m11-13h0m13-2h0m9 3h0m9-5h0m1 3h0m1 5h0m15-3h0m10 7h0m5-16h0m5 16h0m12-2h0m4 17h0m22-18h0m7 2h0m15 3h0m10-10h0m8 0h0m28 22h0m12-3h0m18-30h0m3 11h0m22 18h0m0-26h0m14 5h0m3 27h0m0-38h0m2 3h0m9 26h0m9-9h0m0 9h0m2-7h0m5 11h0m7-32h0m1 19h0m2 13h0m2-1h0m5-17h0m6-7h0m2 18h0m19-16h0m3-8h0m8 18h0m5-11h0m8 7h0m4 7h0m17 4h0m3-27h0m1 34h0m6-28h0m2 1h0m10 10h0m-438 25h0m4 9h0m6 6h0m9-1h0m6 17h0m11-12h0m18 7h0m8-4h0m4 10h0m34-22h0m9-4h0m31-6h0m6 33h0m2-23h0m8 8h0m3 7h0m0 2h0m10-20h0m3 23h0m10-7h0m9-18h0m2 30h0m5-17h0m8 0h0m21-7h0m7-6h0m12 7h0m0 21h0m5-3h0m5-7h0m3 14h0m16-4h0m2-32h0m22 36h0m6 0h0m5-7h0m0-9h0m13 0h0m4 4h0m2-12h0m11-15h0m0 13h0m9-5h0m4-5h0m4-2h0m2 2h0m1 25h0m6 5h0m5 0h0m25 0h0m10-27h0m7 3h0m1 21h0m7-10h0m3 12h0m1 7h0m16-29h0m8 25h0m4 4h0m-422 33h0m3-8h0m8 9h0m3-10h0m3 13h0m5-36h0m28 12h0m28-4h0m14-1h0m17 26h0m17 5h0m45-15h0m11-1h0m1 4h0m3 9h0m23-8h0m10-2h0m9-13h0m31 1h0m6-9h0m10-1h0m15 30h0m10-16h0m2 20h0m1-28h0m7-1h0m25 27h0m3-3h0m0-19h0m3 14h0m0 5h0m6 0h0m6-14h0m7 1h0m0 6h0m2 7h0m9-12h0m5 6h0m6 11h0m6-15h0m23-16h0m3 5h0m25 23h0m-473 35h0m2-10h0m3 13h0m26-9h0m1 0h0m16-23h0m12 1h0m5 2h0m4-3h0m3 11h0m18 28h0m4-18h0m5-12h0m6 25h0m3-2h0m4-23h0m3 6h0m4-11h0m7 16h0m3 8h0m3-22h0m8 33h0m1-25h0m8 23h0m11-31h0m26 8h0m16-6h0m22 11h0m8 20h0m23 0h0m11-36h0m9 25h0m4 4h0m8-9h0m2-22h0m7 20h0m5 11h0m9-24h0m1 18h0m5-10h0m2 23h0m2-36h0m3-2h0m2 2h0m3 1h0m2 6h0m2 1h0m7 9h0m0 11h0m2-5h0m0-18h0m8 13h0m8 1h0m6-22h0m5 7h0m4 11h0m3-5h0m0 8h0m3-10h0m5 10h0m3 4h0m1-10h0m16-9h0m9 8h0m35 0h0m8-6h0m2 23h0m5-3h0m1-24h0m6 4h0m3 9h0" stroke="#2ca02c" stroke-width="11.5" stroke-linecap="round" fill="none"/><path transform="scale(.1)" d="M12 29h0m68 10h0m6-34h0m8 0h0m14 22h0m78-24h0m1 9h0m75-11h0m11 7h0m4-7h0m46 7h0m74-7h0m15 36h0m5-19h0m8-5h0m11 21h0m7-30h0m4 13h0m4 7h0m20-11h0m-469 29h0m110 29h0m1-3h0m19 4h0m2-19h0m0-1h0m40 12h0m4-15h0m120 12h0m2-16h0m29-2h0m31 29h0m18 3h0m34-27h0m26 22h0m18-25h0m-451 36h0m9 5h0m22 11h0m5 6h0m3-13h0m21-7h0m22 35h0m0-24h0m32 7h0m0-15h0m22 29h0m27-24h0m21 22h0m90-5h0m9 3h0m5-9h0m23 16h0m24-15h0m9-6h0m7 11h0m40 11h0m-390 31h0m9 5h0m20-26h0m28 29h0m75-37h0m6 29h0m1-26h0m2-2h0m8 18h0m1-9h0m52 2h0m12-9h0m8 14h0m24 21h0m1-35h0m5 19h0m2 2h0m6-13h0m11-4h0m15 11h0m7-6h0m17 16h0m26-28h0m20 7h0m1 28h0m14-25h0m9-10h0m5 18h0m8 3h0m3 0h0m0-17h0m64 18h0m-463 23h0m33 7h0m12-13h0m21 23h0m11-10h0m3 5h0m7 18h0m54-36h0m43 18h0m1 15h0m81-14h0m28 19h0m9-25h0m6-5h0m0 26h0m13-25h0m3 5h0m8 13h0m1-15h0m1 3h0m43 13h0m1-6h0m-300 44h0m9 11h0m74-2h0m18-31h0m2-4h0m2 14h0m7 24h0m4 0h0m75-1h0m41-13h0m9 1h0m13-14h0m30 12h0m11-15h0m8-6h0m21 0h0m10 23h0m4-21h0m46 2h0m14 27h0m-448 16h0m21-5h0m7 5h0m8 26h0m12-16h0m41 5h0m20 2h0m1-24h0m25 30h0m54-8h0m14 10h0m56-9h0m40-5h0m1-17h0m41 31h0m9-7h0m15-9h0m2-14h0m5 31h0m3-3h0m2-16h0m13 0h0m8 3h0m-427 50h0m74 2h0m97-30h0m7 14h0m5-3h0m10 4h0m6 19h0m6-21h0m17-3h0m12 8h0m19-10h0m43 27h0m43-14h0m13-18h0m18 35h0m20 0h0m66-11h0m4 8h0m-461 38h0m15-21h0m3 11h0m4 8h0m0-4h0m61-6h0m26 12h0m9-14h0m103 0h0m34-6h0m6-14h0m32 19h0m19-16h0m9 24h0m44-2h0m15 12h0m12-3h0m1-8h0m3 7h0m1-13h0m4 10h0m31-9h0m1-21h0m1 24h0m1-2h0m33-4h0m-464 33h0m9 12h0m27 14h0m1-10h0m7 12h0m22-14h0m23 13h0m19-5h0m0 5h0m44-15h0m9 4h0m3-4h0m7-17h0m75-5h0m16 17h0m12 15h0m88-27h0m1 19h0m2 14h0m31-28h0m8 4h0m3 14h0m3-18h0m24-2h0m9 6h0m8 5h0m9 5h0m10-7h0m-464 51h0m33-16h0m25 13h0m1-13h0m11 9h0m26-5h0m3 11h0m24 2h0m2-23h0m0 27h0m1-26h0m1 5h0m12-2h0m28 4h0m92-5h0m13 11h0m7 7h0m9-9h0m4 8h0m0 11h0m5-11h0m71-14h0m33 14h0m7-27h0m30 35h0m9 4h0m-458 31h0m88 2h0m31-26h0m48 23h0m13-9h0m17 10h0m24-21h0m26 9h0m0-6h0m10-8h0m2 27h0m9-15h0m11 2h0m5 21h0m7 0h0m29-36h0m21 36h0m13-27h0m37-3h0m25 4h0m17 20h0m3-16h0m-252 23h0m105 0h0" stroke="#fff" stroke-width="9.0" stroke-linecap="round" fill="none"/><path transform="scale(.1)" d="M99 14h0m24 90h0m18-15h0m131 10h0m13 13h0m-143 34h0m133-23h0m107 34h0m1-20h0m-348 52h0m172 2h0m73-2h0m-260 33h0m82-1h0m102-10h0m178-10h0m-195 92h0m113 7h0m100 58h0m45-7h0m7-17h0m26-4h0m-405 66h0m103-14h0m204-16h0m43 2h0m39-7h0m6 6h0m8 4h0m-359 57h0m156-24h0m120 30h0m-372 30h0m270-22h0m24 34h0m143 0h0" stroke="#fff" stroke-width="22.0" stroke-linecap="round" fill="none"/></pattern>
<clipPath id="c_orange"><polygon points="238.1,91.9 241.6,87.2 252.1,80.2 259.0,72.1 266.0,67.4 280.0,66.3 296.2,68.6 312.5,73.3 324.2,79.1 335.8,87.2 342.8,95.3 345.1,103.5 335.8,105.8 321.8,108.1 307.9,110.5 293.9,110.5 282.3,111.6 273.0,115.1 263.7,118.6 252.1,118.6 247.4,110.5 242.8,101.2 239.3,95.3"/></clipPath>
<clipPath id="c_red"><polygon points="240.4,136.0 249.7,129.1 256.7,122.1 266.0,118.6 277.6,114.0 293.9,110.5 312.5,109.3 328.8,107.0 345.1,104.7 352.1,110.5 359.0,119.8 368.3,131.4 374.8,138.4 373.0,145.3 363.7,153.5 349.7,160.5 335.8,165.1 319.5,168.6 300.9,168.6 286.9,164.0 273.0,159.3 263.7,152.3 254.4,143.0 242.8,139.5"/></clipPath>
<clipPath id="c_brown"><polygon points="180.4,204.2 183.9,207.6 192.5,209.1 198.3,216.3 209.8,224.9 227.0,228.3 241.4,223.4 252.9,214.8 255.8,206.2 247.1,199.0 237.1,196.1 227.0,191.8 221.3,188.9 212.6,196.1 201.1,201.9 192.5,204.2 185.3,201.9"/></clipPath>
</defs>
<polygon points="66.9,109.8 68.6,119.1 76.7,126.0 89.5,129.5 104.6,131.9 109.3,135.3 118.6,134.2 129.0,128.4 137.2,122.6 146.5,117.9 147.6,109.8 141.8,101.6 134.8,92.3 125.5,87.7 120.9,79.5 106.9,78.4 96.5,85.3 86.0,92.3 76.7,100.5 69.7,106.3" fill="url(#ps)"/>
<polygon points="56.9,167.7 60.4,174.7 69.7,180.5 74.4,182.8 86.0,178.1 100.0,175.8 111.6,172.3 120.9,167.7 129.0,163.0 126.7,158.4 119.7,154.9 116.2,149.1 106.9,150.2 97.6,146.7 86.0,144.4 72.1,143.3 66.2,150.2 61.6,158.4 58.1,164.2" fill="url(#ps)"/>
<polygon points="238.1,91.9 241.6,87.2 252.1,80.2 259.0,72.1 266.0,67.4 280.0,66.3 296.2,68.6 312.5,73.3 324.2,79.1 335.8,87.2 342.8,95.3 345.1,103.5 335.8,105.8 321.8,108.1 307.9,110.5 293.9,110.5 282.3,111.6 273.0,115.1 263.7,118.6 252.1,118.6 247.4,110.5 242.8,101.2 239.3,95.3" fill="url(#pm)"/>
<polygon points="240.4,136.0 249.7,129.1 256.7,122.1 266.0,118.6 277.6,114.0 293.9,110.5 312.5,109.3 328.8,107.0 345.1,104.7 352.1,110.5 359.0,119.8 368.3,131.4 374.8,138.4 373.0,145.3 363.7,153.5 349.7,160.5 335.8,165.1 319.5,168.6 300.9,168.6 286.9,164.0 273.0,159.3 263.7,152.3 254.4,143.0 242.8,139.5" fill="url(#pm)"/>
<polygon points="180.4,204.2 183.9,207.6 192.5,209.1 198.3,216.3 209.8,224.9 227.0,228.3 241.4,223.4 252.9,214.8 255.8,206.2 247.1,199.0 237.1,196.1 227.0,191.8 221.3,188.9 212.6,196.1 201.1,201.9 192.5,204.2 185.3,201.9" fill="url(#ps)"/>
<polygon points="317.6,210.5 324.8,213.4 336.3,211.9 346.3,206.2 344.9,201.9 336.3,199.0 327.6,197.6 321.9,203.3" fill="url(#ps)"/>
<polygon points="153.2,60.4 156.6,63.1 164.8,61.7 174.3,59.7 181.1,57.0 190.6,54.7 181.1,54.9 175.6,52.9 167.5,50.9 162.1,50.2 156.0,52.9 153.9,57.0" fill="url(#ps)"/>
<g clip-path="url(#c_orange)"><polygon points="259.5,60.0 309.5,58.0 354.5,80.0 361.5,105.0 344.5,112.0 331.5,135.0 309.5,138.0 294.5,120.0 277.5,100.0 264.5,80.0" fill="url(#pg)"/><polygon points="227.5,100.0 237.5,92.0 249.5,86.0 264.5,92.0 272.5,108.0 273.5,128.0 281.5,150.0 277.5,170.0 257.5,168.0 245.5,150.0 237.5,130.0 229.5,112.0" fill="url(#po)"/></g>
<g clip-path="url(#c_red)"><polygon points="259.5,60.0 309.5,58.0 354.5,80.0 361.5,105.0 344.5,112.0 331.5,135.0 309.5,138.0 294.5,120.0 277.5,100.0 264.5,80.0" fill="url(#pg)"/><polygon points="227.5,100.0 237.5,92.0 249.5,86.0 264.5,92.0 272.5,108.0 273.5,128.0 281.5,150.0 277.5,170.0 257.5,168.0 245.5,150.0 237.5,130.0 229.5,112.0" fill="url(#po)"/></g>
<g clip-path="url(#c_brown)"><polygon points="209.5,170.0 249.5,170.0 259.5,196.0 224.5,200.0 207.5,196.0" fill="url(#po)"/></g>
<path transform="scale(.1)" d="M1705 509h0m118 43h0m40-13h0m-50 46h0m37-21h0m881 86h0m171 3h0m-306 98h0m564-15h0m-2082 34h0m2116-8h0m-696 55h0m86 56h0m-238 33h0m-1502 29h0m1419-2h0m35 8h0m35-8h0m1081 2h0m-711 59h0m69-20h0m-430 56h0m1106-7h0m-1261 30h0m-26 61h0m13-18h0m691 18h0m628-33h0m-1137 68h0m-868 17h0m43 26h0m801-20h0m178 5h0m404 19h0m-992 40h0m186-29h0m452 7h0m-1156 32h0m256 2h0m189 27h0m49-8h0m48 11h0m31-17h0m8 12h0m25-6h0m13-8h0m-237 33h0m53 11h0m10 7h0m54 4h0m80-8h0m20-22h0m122 24h0m46 6h0m-1154 31h0m108 14h0m817-37h0m61 5h0m181 8h0m101 1h0m75 9h0m749 14h0m99-2h0m-845 8h0m13-3h0m-1542 75h0m652-18h0m21 18h0m1281 18h0m-1692 29h0m215 28h0m19-5h0m1258-21h0m1097 7h0m-3047 38h0m609 27h0m32-36h0m1344 8h0m225 66h0m597 41h0m111-37h0m-2989 51h0m673 27h0m-6 4h0m1758 14h0m143 7h0m-2079 38h0m-410 38h0m1711 172h0m-190 48h0m1286 5h0m-654 55h0m248 40h0m100 12h0m-1199 11h0m1264 5h0" stroke="#1f77b4" stroke-width="11.0" stroke-linecap="round" fill="none"/>
<path transform="scale(.1)" d="M1655 502h0m22-4h0m107 28h0m77 28h0m22-12h0m-21 26h0m-233 65h0m118-21h0m-163 31h0m1253 7h0m-243 52h0m-35 55h0m556-37h0m-2026 61h0m1425 7h0m144 7h0m618-7h0m-2255 20h0m1472 23h0m820-11h0m-920 57h0m106-15h0m72-22h0m3 38h0m2-18h0m4 15h0m-1245 22h0m984 18h0m15 4h0m16-3h0m1-8h0m69-27h0m30 6h0m5 3h0m50 5h0m26-7h0m46 18h0m13-22h0m4 30h0m11-34h0m21 1h0m19 25h0m49-15h0m-426 64h0m2 3h0m21-31h0m8 20h0m37-8h0m39-18h0m17 30h0m242-28h0m18 1h0m33 34h0m6-22h0m1-13h0m740 6h0m-1179 54h0m13-15h0m77 8h0m50-5h0m2-8h0m306 29h0m734-16h0m-2688 32h0m676-4h0m10 32h0m15-4h0m202 2h0m552 3h0m9-20h0m202 11h0m10 11h0m5-22h0m222-7h0m38 12h0m777 16h0m-1976 29h0m75-17h0m58-10h0m563 16h0m181-10h0m288 2h0m31 15h0m6 11h0m16-4h0m4 2h0m676-20h0m62-7h0m16 4h0m-1993 35h0m668 30h0m30-31h0m47 27h0m248-23h0m210 32h0m24 0h0m12-22h0m6 7h0m110 9h0m-2159 38h0m1478-7h0m9-24h0m232 29h0m93-13h0m230-2h0m33-14h0m74 3h0m54 36h0m-2193 24h0m878 1h0m541-8h0m10 12h0m0-16h0m269 17h0m140-1h0m16-1h0m0 1h0m58 5h0m2 2h0m32 0h0m87-31h0m15 20h0m26-6h0m650-14h0m204 34h0m-2203 39h0m22-31h0m35 11h0m27 14h0m27-20h0m99 20h0m17-6h0m0 6h0m293 1h0m285-11h0m70-5h0m40 4h0m258-10h0m145 27h0m9-2h0m216-20h0m19-3h0m379 17h0m277-24h0m6 24h0m28-1h0m9 5h0m-2889 44h0m560-21h0m4 16h0m33-21h0m22 13h0m9-21h0m151 7h0m73 0h0m25-4h0m32 5h0m3 26h0m16-7h0m34-6h0m13-9h0m97 22h0m2 1h0m10-8h0m61-3h0m29-7h0m1-15h0m1 23h0m14-5h0m7 5h0m33 4h0m5-7h0m7 3h0m24-2h0m15-24h0m11 30h0m259-5h0m40-1h0m115 8h0m31-4h0m7-9h0m158 9h0m36-13h0m16 2h0m14-1h0m13-9h0m-1912 42h0m418 13h0m60-9h0m374-7h0m5 21h0m25-9h0m18 12h0m43-11h0m4-8h0m23 0h0m16 15h0m2-9h0m11-18h0m16 4h0m0 5h0m20-8h0m1 25h0m3-13h0m12-10h0m1 2h0m17-6h0m37 13h0m2-2h0m3 15h0m35 13h0m18-4h0m13-22h0m24-7h0m76-1h0m2 9h0m46 23h0m34-1h0m36 3h0m4-20h0m507 14h0m5-24h0m398 14h0m-2099 34h0m78 14h0m53-7h0m63-23h0m342 33h0m24 3h0m15-33h0m86-4h0m423 1h0m75 13h0m25 13h0m16 6h0m29-13h0m11-10h0m16 17h0m8-14h0m12 20h0m6-12h0m21-9h0m74-1h0m261 17h0m29-12h0m45-16h0m9 10h0m10-2h0m919-4h0m-2614 42h0m412 26h0m72-16h0m9 0h0m49-16h0m733 2h0m25 10h0m18 9h0m351-20h0m18 2h0m6 18h0m5 8h0m337 3h0m633-10h0m-3077 56h0m753-13h0m70-18h0m8 4h0m17 4h0m890-2h0m69 15h0m9-11h0m1255 13h0m-2754 29h0m20 16h0m357-9h0m22 2h0m31-14h0m1359 19h0m2 6h0m1-9h0m14-1h0m2 6h0m3-30h0m11 11h0m0 16h0m-1661 10h0m29 36h0m89-13h0m53 10h0m5 4h0m1415-17h0m78 13h0m843 2h0m-2470 31h0m22-1h0m1409-21h0m2-1h0m12 13h0m128 14h0m38 1h0m800 2h0m35-28h0m-2361 63h0m1409-19h0m69-9h0m32 18h0m740 6h0m21 8h0m24-19h0m-850 30h0m4 1h0m20 4h0m34 18h0m33-5h0m4-12h0m621 17h0m-555 43h0m75 4h0m418-14h0m81-12h0m-2279 43h0m1834 2h0m184 0h0m-2612 57h0m463 2h0m-393 37h0m329-28h0m-183 62h0m1358 86h0m12-25h0m77 18h0m-139 45h0m47-23h0m149 4h0m2 6h0m14 19h0m-178 45h0m15-36h0m18 29h0m86 4h0m10-1h0m9-10h0m12 12h0m10-8h0m1-15h0m21 12h0m44-5h0m21-16h0m15 0h0m3 25h0m6-6h0m7-10h0m41 17h0m787 3h0m87-11h0m-1516 38h0m122 4h0m58-8h0m90-10h0m4-5h0m9 11h0m209 7h0m79-13h0m110-7h0m8 24h0m721-19h0m196 1h0m-1094 45h0m10-2h0m207 4h0m201 3h0m19 13h0m36 4h0m13-8h0m-912 30h0m1025 6h0m28 1h0m33 2h0m46 1h0m25 0h0m34 4h0m77-14h0m225 12h0m12-8h0m-1485 24h0m1357 12h0m-808 60h0m25-17h0m-419 71h0m9 1h0m46 13h0m201 16h0m8-19h0" stroke="#ff7f0e" stroke-width="11.0" stroke-linecap="round" fill="none"/>
<path transform="scale(.1)" d="M1589 504h0m10-6h0m63 5h0m-100 24h0m186-6h0m27 10h0m84 20h0m8 2h0m6-29h0m5 22h0m15 0h0m3 9h0m8-18h0m-384 40h0m233 16h0m125-25h0m4-6h0m-333 58h0m73 17h0m22-17h0m113-20h0m-191 60h0m164-19h0m903 28h0m13-9h0m21-3h0m45-6h0m4 3h0m23-2h0m38-3h0m13 10h0m41-6h0m0-9h0m27 22h0m2-12h0m16 7h0m9 13h0m14-2h0m27-3h0m-318 40h0m12-6h0m1-14h0m30 29h0m304-34h0m34 8h0m33-3h0m25 11h0m49 7h0m5 5h0m-547 23h0m51 18h0m25-14h0m16-19h0m4 37h0m459-32h0m58 9h0m35 21h0m-2165 40h0m31-10h0m17-8h0m93 13h0m51-5h0m1283 3h0m17-18h0m89-9h0m602 12h0m21 15h0m-2293 41h0m30 3h0m8-5h0m16 0h0m219-14h0m1177 22h0m94-34h0m14 9h0m96-10h0m18 12h0m19 0h0m10 25h0m1-14h0m6-19h0m17 13h0m2 13h0m52 3h0m552-17h0m7-7h0m9 19h0m-2370 44h0m342 5h0m1150-14h0m22-12h0m28 5h0m100 21h0m65-23h0m704-11h0m8 19h0m17 5h0m4-2h0m-2448 17h0m358-1h0m1088 28h0m4 4h0m4 2h0m0-8h0m105-27h0m179 10h0m3 20h0m24-28h0m15 28h0m5-30h0m7 0h0m4 14h0m690 22h0m1 2h0m-2575 29h0m2-9h0m1425-17h0m25 27h0m8 6h0m33-26h0m1 4h0m64 19h0m89-31h0m214 22h0m15 0h0m1-1h0m8-3h0m44 16h0m656-19h0m-2001 62h0m4-25h0m834 27h0m1-15h0m2 12h0m5-31h0m13 1h0m114-3h0m290-1h0m10 0h0m4 19h0m40-16h0m38 15h0m2 17h0m17-22h0m55 13h0m600 2h0m-2711 25h0m17 3h0m683-16h0m1 1h0m194 32h0m2-6h0m23 7h0m1-9h0m6-5h0m552 2h0m178 11h0m29-22h0m380 16h0m662-24h0m-2742 35h0m800 14h0m29-9h0m9 5h0m13 0h0m606 15h0m3-4h0m15-5h0m1 1h0m3-4h0m183-6h0m341 31h0m89-19h0m27-1h0m45-5h0m11 0h0m500 1h0m64-14h0m14 21h0m40 4h0m-2845 35h0m817 10h0m0-25h0m673 21h0m304-16h0m348 20h0m18-5h0m13-14h0m10 26h0m1-18h0m7-17h0m13 36h0m19 1h0m37-12h0m529-2h0m12-10h0m7 19h0m33 5h0m-2833 38h0m803-6h0m632 6h0m14 2h0m2-19h0m6 15h0m5-25h0m114-8h0m83 19h0m148 11h0m320-22h0m10-2h0m12-1h0m101 12h0m8-16h0m460 7h0m29 10h0m3 13h0m8 6h0m17-22h0m1 14h0m42-3h0m8-16h0m2 23h0m3-35h0m54 13h0m-2084 66h0m58-6h0m11 5h0m46-14h0m497 9h0m9 2h0m6 3h0m115-6h0m281-3h0m10-12h0m187-9h0m90 14h0m84-14h0m45 5h0m9-9h0m58 35h0m47-24h0m353 24h0m209-15h0m-2881 38h0m6 16h0m682-19h0m40 10h0m14 0h0m24-24h0m3 9h0m46 5h0m36 16h0m9-5h0m15-20h0m21 24h0m34 2h0m10-3h0m22-12h0m252 14h0m109 4h0m48-28h0m15 10h0m11-12h0m55 24h0m52-7h0m129-8h0m202 9h0m24-12h0m1-14h0m35 2h0m306 6h0m8-9h0m4 13h0m58 9h0m26-7h0m348 21h0m12-17h0m2-7h0m5 21h0m260-8h0m-2888 22h0m583 11h0m33 4h0m17 1h0m15-10h0m35 21h0m1-16h0m83-10h0m98-3h0m9-4h0m44 23h0m15 3h0m5 0h0m8-5h0m9-5h0m85 22h0m34-8h0m8 0h0m10-29h0m18 22h0m18 11h0m10-26h0m23 12h0m14-8h0m0-2h0m17 24h0m6-22h0m4 2h0m1 20h0m13-1h0m4 5h0m6-32h0m3-6h0m19 31h0m10-29h0m1 31h0m8 4h0m5-13h0m1-19h0m2 33h0m1-27h0m11 6h0m4 0h0m1-7h0m1 26h0m0-17h0m7 3h0m4-13h0m464 17h0m472-6h0m29 7h0m30-6h0m322-19h0m14 21h0m26-8h0m255 22h0m-2865 11h0m82 8h0m82 10h0m45 9h0m270-14h0m83 6h0m5-3h0m295 1h0m49 2h0m20 11h0m3-34h0m17 14h0m2-2h0m65-14h0m10 30h0m5-11h0m28-8h0m18-6h0m8 0h0m1 1h0m4 29h0m15-9h0m3-7h0m3 3h0m5-15h0m8-8h0m6 9h0m3-5h0m5 25h0m5-10h0m8 13h0m12-8h0m4 9h0m1-16h0m5 9h0m2 5h0m11-13h0m3 11h0m9-18h0m1-9h0m8 13h0m6 7h0m5-7h0m13-16h0m6 1h0m49 14h0m38 22h0m25-9h0m45 10h0m5-2h0m22 0h0m91 1h0m96-3h0m42-9h0m263 4h0m97 4h0m185-12h0m18 14h0m2-29h0m1 5h0m15-5h0m258 2h0m34 12h0m16-12h0m9-6h0m23-3h0m0 7h0m293-2h0m21 21h0m3 8h0m-2651 12h0m11-6h0m34 24h0m31 11h0m512-21h0m41-12h0m0 37h0m18-23h0m13-1h0m16-1h0m6 11h0m16 4h0m6-15h0m21 8h0m79-14h0m19 7h0m1-15h0m164 5h0m167 16h0m19-9h0m11 1h0m11-6h0m13 9h0m4-4h0m31-8h0m17 2h0m19 3h0m5 6h0m13 16h0m17-13h0m14-7h0m12 17h0m30-4h0m43-22h0m569 31h0m52 2h0m5-24h0m1 18h0m88 5h0m103 2h0m31-5h0m16-20h0m7-2h0m440 25h0m-2235 30h0m8-7h0m58-3h0m4 8h0m716-18h0m51 6h0m9 7h0m43 12h0m4-3h0m15-18h0m590-5h0m52 20h0m15 16h0m10-7h0m19-24h0m45 10h0m3 7h0m27-19h0m49 0h0m10 0h0m3 32h0m3-23h0m24-11h0m2 12h0m30 16h0m-2488 46h0m9-8h0m584 2h0m22-13h0m46-6h0m8 24h0m20-7h0m19-10h0m29-13h0m27 2h0m870 4h0m291 19h0m464-27h0m525 29h0m-2895 8h0m97 18h0m82 16h0m380 1h0m5-12h0m0-2h0m20 1h0m3-22h0m8-1h0m1 2h0m10 26h0m1047-15h0m83 18h0m1127 1h0m-3074 40h0m21-30h0m493-2h0m224 8h0m1212 1h0m23 22h0m1107-32h0m-2497 50h0m4 24h0m36-18h0m47 4h0m4 8h0m1307-27h0m198 33h0m867-29h0m3 6h0m-3079 47h0m11-7h0m5-10h0m601 0h0m65 28h0m7-29h0m1393 11h0m24 16h0m812 5h0m28-3h0m12 2h0m31 1h0m-2294 27h0m1463-12h0m692 32h0m31-29h0m12-3h0m-2930 69h0m729-24h0m1559-10h0m8 6h0m21 25h0m6-24h0m394 30h0m20-6h0m28-9h0m35 1h0m-2788 43h0m2477-15h0m22-5h0m52 12h0m55-3h0m7-7h0m27 4h0m-2621 45h0m423 19h0m15-5h0m19 8h0m7 9h0m-381 33h0m11 7h0m38 13h0m116-13h0m13-8h0m4 1h0m1315 112h0m49-22h0m-126 52h0m8-1h0m206-7h0m-247 27h0m50 0h0m23-4h0m269 4h0m25 21h0m31-4h0m783 12h0m26-19h0m48 8h0m70-17h0m5 32h0m2-1h0m-1598 40h0m68-31h0m73 15h0m64-12h0m138-7h0m148 12h0m234 8h0m688 1h0m263 8h0m-774 23h0m23 1h0m51 17h0m65-14h0m42 18h0m293-2h0m271-2h0m-1573 34h0m12-14h0m12 2h0m17 18h0m638-11h0m6 7h0m363-27h0m34 7h0m21 20h0m9-6h0m10 7h0m44-6h0m65 1h0m22-5h0m41 2h0m17 18h0m198-1h0m76-36h0m-1507 53h0m1124-9h0m89 2h0m117 12h0m24 4h0m-1305 39h0m500-10h0m-474 28h0m427 11h0m17-9h0m5 17h0m-290 58h0m156 0h0m49-19h0m-165 33h0m17-4h0m21 7h0m4-5h0" stroke="#2ca02c" stroke-width="11.0" stroke-linecap="round" fill="none"/>
<path transform="scale(.1)" d="M1717 500h0m46 8h0m113 10h0m-46 34h0m45-19h0m12 1h0m1 11h0m10 2h0m-391 72h0m173 3h0m23-15h0m57-7h0m1036 35h0m-127 25h0m6-15h0m379 58h0m-467 22h0m59 15h0m-1623 51h0m2207-14h0m6 9h0m-786 47h0m38-20h0m-1238 46h0m11 11h0m0-17h0m1207-12h0m202 36h0m706 1h0m-2474 10h0m1-6h0m1410 36h0m24-4h0m31-13h0m2 11h0m322-3h0m-375 26h0m23 19h0m2-20h0m3-9h0m22-5h0m-141 73h0m34-21h0m87 26h0m34-35h0m281 12h0m780 14h0m1-15h0m-1807 54h0m0 8h0m13-4h0m14-15h0m527 20h0m30-37h0m20 3h0m181 23h0m15 8h0m367-16h0m-2115 45h0m830-6h0m83-5h0m10-6h0m575 8h0m166 6h0m1079-12h0m-1281 54h0m1-12h0m5 22h0m683 6h0m14-5h0m567-12h0m110-2h0m12 7h0m-1429 30h0m20-7h0m3 12h0m75 13h0m93-7h0m181 11h0m286-22h0m59-15h0m11-1h0m685 18h0m-2843 43h0m719 17h0m56-15h0m639 0h0m6 11h0m409-11h0m9 13h0m244-19h0m118 6h0m700-2h0m0-11h0m-2882 62h0m716-6h0m29-2h0m12 15h0m23-12h0m56 1h0m27 8h0m4-34h0m47 10h0m399 23h0m43-2h0m12-20h0m24 1h0m68-2h0m417-4h0m1030-4h0m-2829 69h0m510-4h0m77 6h0m4-35h0m9 29h0m239-17h0m26 3h0m30 18h0m16-18h0m11 19h0m89-11h0m57 1h0m73 11h0m0-25h0m37 12h0m5 12h0m13-17h0m6 4h0m41 13h0m4 5h0m5-10h0m7-7h0m4 0h0m309-5h0m610 18h0m692-16h0m-2741 45h0m408 0h0m6 12h0m364-10h0m3-10h0m51 18h0m3 2h0m11 2h0m5-12h0m51-14h0m23-10h0m22 20h0m24 14h0m4-11h0m4 14h0m1-32h0m2 1h0m21 3h0m6-1h0m5 10h0m10-8h0m10-4h0m4-5h0m5 24h0m32-8h0m10-12h0m7-7h0m9 18h0m13 10h0m3-24h0m6-1h0m85 26h0m34-1h0m12 8h0m107-18h0m40 1h0m175-19h0m838 19h0m-2315 39h0m174 13h0m392-2h0m39 4h0m29-5h0m14-15h0m77-13h0m172 18h0m196-4h0m66-5h0m84 5h0m6 8h0m3-15h0m21 16h0m20 11h0m19 4h0m28-7h0m13-17h0m3 11h0m814-11h0m135 24h0m435-16h0m-2643 31h0m389 22h0m20 0h0m4-25h0m44-1h0m13 12h0m11-18h0m764 9h0m32-7h0m1370 15h0m-3028 45h0m102 13h0m630-12h0m1003-11h0m75 23h0m1207-13h0m10-3h0m-3062 36h0m205-13h0m24-1h0m492 8h0m16 12h0m4 12h0m21-31h0m5 11h0m-810 47h0m435-23h0m23 3h0m68 20h0m151 15h0m33-16h0m2305 15h0m-3027 29h0m625 3h0m6-27h0m13 7h0m-674 59h0m649-21h0m2-2h0m1422 5h0m126 18h0m735-4h0m43-9h0m-830 41h0m712 6h0m-2900 27h0m2335 5h0m33 12h0m337 4h0m-2074 21h0m4-2h0m1771-3h0m95 4h0m141 20h0m29-30h0m-2614 79h0m337 26h0m14-10h0m-175 32h0m51 3h0m1338 128h0m181 16h0m-202 42h0m271-13h0m937-12h0m-1482 54h0m22 11h0m36-7h0m78-25h0m34-3h0m467 33h0m922-25h0m-1616 70h0m886-10h0m49-10h0m106 13h0m310-1h0m8-10h0m-1323 27h0m12 13h0m1083-1h0m23-2h0m108 14h0m24 2h0m81 3h0m214-6h0m-869 16h0m781 2h0m-1352 61h0m5-11h0m526-8h0m-326 102h0m149 2h0m-95 12h0" stroke="#d62728" stroke-width="11.0" stroke-linecap="round" fill="none"/>
<path transform="scale(.1)" d="M1695 501h0m38 17h0m-184 11h0m283 27h0m4-31h0m42 16h0m26 6h0m-41 15h0m64 9h0m-274 65h0m54-20h0m57-14h0m-146 54h0m1155 1h0m5-9h0m200 15h0m-389 44h0m-72 87h0m110-12h0m18-13h0m541-7h0m-2159 39h0m1450 14h0m799-13h0m-2299 40h0m283 2h0m1412 5h0m-1764 37h0m388 1h0m1044 13h0m35-1h0m3-3h0m18-9h0m201 14h0m-319 49h0m13-20h0m72 20h0m20 5h0m20-6h0m1012-22h0m-2599 33h0m1422 18h0m15 1h0m12 1h0m1172-11h0m18 15h0m-1873 52h0m29-10h0m591 13h0m2-15h0m6-15h0m21 13h0m200 4h0m-945 40h0m40-10h0m53-14h0m4-1h0m35 0h0m578 3h0m14 20h0m46 2h0m561 9h0m610-26h0m45 5h0m3 22h0m7-19h0m-1335 35h0m23-1h0m83 8h0m196-2h0m-326 36h0m16 15h0m164-4h0m1-2h0m443 7h0m28-13h0m39-16h0m24 1h0m12-1h0m712 26h0m-2065 51h0m1015-21h0m168-4h0m72-11h0m164 25h0m652-23h0m-2179 54h0m8 18h0m92-14h0m58 10h0m11-15h0m20-10h0m2 32h0m12-22h0m4-12h0m31 22h0m306 13h0m75-9h0m49 1h0m31-25h0m2-2h0m8 21h0m7-25h0m4 31h0m274-18h0m138 24h0m93-34h0m108 0h0m902 31h0m6-7h0m-2907 14h0m561 32h0m53-12h0m21 18h0m57-23h0m20-13h0m15 24h0m126-27h0m2 11h0m52 4h0m109 21h0m11-11h0m42-21h0m71 25h0m25 6h0m1-15h0m21 9h0m3 6h0m7-10h0m19-3h0m9 8h0m10-7h0m18 7h0m10-15h0m2-7h0m39 22h0m30-27h0m1 26h0m2 10h0m19-1h0m127-1h0m71-5h0m57-32h0m730 16h0m323-5h0m249-1h0m-2757 50h0m9 7h0m74 5h0m352-18h0m308 25h0m58-12h0m68-17h0m70 11h0m11 5h0m24 3h0m13-29h0m5 11h0m7 11h0m8-15h0m11-2h0m1 16h0m13-6h0m56 15h0m0-9h0m14 1h0m16-12h0m3 11h0m10-6h0m21 4h0m88 12h0m1-14h0m5 5h0m14 14h0m41-6h0m14-3h0m7 7h0m1110-15h0m32 0h0m367 8h0m-2510 35h0m353 14h0m46-2h0m46-20h0m6 14h0m12-13h0m5-10h0m60 0h0m48 3h0m232-8h0m179 4h0m12 5h0m103 21h0m25 4h0m6-8h0m21-7h0m758 14h0m-1973 11h0m444 3h0m34-1h0m687-2h0m52 0h0m52 8h0m1347 3h0m5 24h0m-3067 36h0m199 1h0m88-17h0m466 20h0m60-29h0m16-2h0m918 19h0m96 6h0m683-17h0m-2550 57h0m0-6h0m247-18h0m526-9h0m59 14h0m-869 64h0m439-26h0m106 20h0m54 7h0m88-12h0m24 4h0m4-21h0m6 11h0m2 2h0m17-17h0m9 11h0m26-8h0m-778 36h0m653 0h0m2378-1h0m-2415 38h0m1-1h0m2331 12h0m14-12h0m-3006 66h0m696 12h0m1453-30h0m9-5h0m686 34h0m22-11h0m-551 26h0m442 6h0m37-12h0m-2830 54h0m2432 0h0m4-21h0m317 7h0m-2230 52h0m92-8h0m-324 59h0m18 0h0m113-24h0m-221 66h0m1393 105h0m-67 48h0m62-9h0m71-11h0m37 12h0m1129 15h0m19 4h0m-1510 24h0m110 1h0m261-18h0m263 9h0m-685 63h0m949-21h0m7 13h0m405-7h0m267-10h0m-1538 41h0m629 26h0m530-5h0m27-14h0m19 16h0m14-5h0m-1180 48h0m578-33h0m683 11h0m60-2h0m21 5h0m-795 61h0m-477 10h0m19 7h0m51 44h0m236 7h0" stroke="#d62728" stroke-width="11.0" stroke-linecap="round" fill="none"/>
<path transform="scale(.1)" d="M1700 507h0m140 38h0m56 5h0m-70 12h0m1048 94h0m190 48h0m-439 43h0m-1442 44h0m1357-14h0m710 16h0m14-1h0m-870 86h0m947-26h0m-952 62h0m253-4h0m-371 42h0m12-7h0m-887 23h0m1348 27h0m-523 35h0m-1549 47h0m1509-10h0m-23 25h0m566 25h0m799-21h0m-1391 55h0m6-26h0m89 4h0m1202 27h0m-1110 29h0m352-11h0m-1088 50h0m17 9h0m409 1h0m318-13h0m-603 38h0m51 2h0m116 18h0m36 0h0m77-4h0m30-11h0m370 2h0m85 10h0m27-12h0m230 3h0m438 10h0m-2267 39h0m354-32h0m542 22h0m104-3h0m55-15h0m16 4h0m1 0h0m11 6h0m34-9h0m19 4h0m37-10h0m23 21h0m-942 51h0m508-35h0m92 22h0m455 1h0m46-17h0m4 27h0m42-23h0m733 17h0m-1504 42h0m-801 38h0m1771 6h0m-1545 15h0m434 18h0m85-26h0m1078 29h0m1128 43h0m-2463 25h0m2-6h0m110-9h0m-748 44h0m703 58h0m2147 9h0m73-22h0m-2236 43h0m1598-7h0m14 17h0m324 29h0m-2150 67h0m-251 64h0m1396 62h0m-109 98h0m1362 45h0m-620 47h0m323 21h0m264-1h0m-307 25h0m-1095 99h0" stroke="#1f77b4" stroke-width="11.0" stroke-linecap="round" fill="none"/>
<path transform="scale(.1)" d="M1611 505h0m-73 52h0m237-22h0m68-1h0m11 5h0m52 4h0m-256 75h0m97 10h0m54-27h0m873 63h0m163 2h0m-210 29h0m-61 32h0m-1353 71h0m2011-22h0m55 14h0m-826 40h0m33 2h0m21-11h0m762-17h0m-829 54h0m20 15h0m3-17h0m16 0h0m78 12h0m-1650 20h0m362-8h0m1078 24h0m38 3h0m26-14h0m46-1h0m47-8h0m4 14h0m67 0h0m-285 40h0m60-11h0m21-4h0m91 0h0m88 27h0m8-11h0m14-13h0m28 10h0m31 19h0m1-34h0m24 23h0m14 11h0m4-10h0m35 14h0m-1302 40h0m822-1h0m22-34h0m108 5h0m30-4h0m30 33h0m192-25h0m40 26h0m7-39h0m81 1h0m-2004 62h0m688-1h0m20 11h0m193-1h0m24 4h0m549 1h0m11-17h0m74-4h0m3 8h0m38 14h0m330-6h0m14-9h0m0-19h0m30 2h0m757 7h0m-2019 32h0m119 5h0m46-8h0m562 17h0m186-8h0m90 21h0m320-30h0m648 9h0m85 12h0m-1360 46h0m45-11h0m197 0h0m64-6h0m17 22h0m261-22h0m17 13h0m777-14h0m-2846 40h0m1446 1h0m12 15h0m0-5h0m12-21h0m5 19h0m63 0h0m280 3h0m209-11h0m2 26h0m10-16h0m9 14h0m5-34h0m26 26h0m6-9h0m123 18h0m27-12h0m-1440 15h0m605 39h0m22-27h0m1 7h0m21-10h0m235-8h0m144 9h0m72 17h0m9 7h0m59-4h0m14-1h0m61-5h0m867-3h0m4-4h0m-2125 51h0m32 2h0m3 8h0m61-18h0m53-1h0m40 6h0m421-24h0m19 20h0m25-19h0m193 18h0m252-7h0m8-13h0m16 13h0m110 26h0m6-26h0m24 12h0m3-6h0m2 0h0m222-14h0m500 4h0m167-3h0m14 33h0m-2842 31h0m542-20h0m6 11h0m45-8h0m4-13h0m18 8h0m12 2h0m14 19h0m174-21h0m58 0h0m47 31h0m45-36h0m4 31h0m18 2h0m23 3h0m73-2h0m51-5h0m19-3h0m4-8h0m3-6h0m3 9h0m12 4h0m41 6h0m6 4h0m10-22h0m70 15h0m111-30h0m50-1h0m106 36h0m34-9h0m117-11h0m19-3h0m0-7h0m230 15h0m900 4h0m-2842 35h0m228 19h0m220-8h0m73-25h0m2 1h0m429-1h0m31 22h0m20-24h0m6 0h0m15 22h0m53-12h0m18 20h0m13-12h0m12 1h0m5-20h0m5 35h0m10-32h0m2 27h0m2 5h0m23-33h0m1 0h0m1-1h0m22 2h0m1-5h0m5-1h0m26 23h0m8-20h0m17 5h0m13 24h0m45-22h0m27 17h0m40-1h0m29 3h0m7 1h0m18 7h0m227-8h0m253-10h0m50-8h0m946 26h0m-2774 39h0m122-14h0m140-11h0m70-10h0m70-1h0m237 30h0m27-8h0m46-10h0m6 11h0m44 0h0m90-19h0m210 7h0m175 5h0m6-1h0m6-1h0m32 0h0m86-4h0m18 12h0m20 11h0m25 1h0m42-9h0m321-17h0m3 12h0m8-7h0m15 12h0m1 7h0m6 4h0m340-17h0m-1570 56h0m57-8h0m780-20h0m86 25h0m242-4h0m36-4h0m55 6h0m287-28h0m230 10h0m437-5h0m-2302 63h0m24 3h0m33-13h0m0-11h0m13 25h0m989-2h0m253-16h0m11 13h0m6-3h0m12-5h0m26 13h0m935-34h0m-2822 47h0m111 30h0m335-6h0m47-29h0m6 12h0m39-1h0m1051 5h0m31-18h0m222 0h0m8 39h0m23-37h0m12 29h0m-1659 14h0m13 2h0m166 32h0m6-4h0m23-31h0m5 5h0m1262 29h0m165-21h0m22 16h0m865-15h0m4-2h0m-3036 27h0m580 25h0m26-9h0m29-5h0m18-14h0m55 8h0m1288 26h0m8 3h0m129-3h0m2-15h0m18 5h0m807 7h0m22-2h0m-2428 17h0m51-4h0m1546 15h0m3-12h0m48 8h0m746-5h0m29-1h0m-2338 45h0m1444-4h0m12 26h0m32-25h0m24 13h0m102 45h0m9 5h0m449-21h0m28-7h0m33-4h0m-406 55h0m54 18h0m197-16h0m-2202 47h0m91-22h0m-530 48h0m49 31h0m76 33h0m1441 37h0m-3 38h0m8-10h0m71-10h0m1 60h0m95-22h0m3 22h0m34-12h0m-348 53h0m104-5h0m23-7h0m20 6h0m43 9h0m27-21h0m34 21h0m75-26h0m20 32h0m11-6h0m29-16h0m4 17h0m12-3h0m22 4h0m1 1h0m6-2h0m752 2h0m28-32h0m106 15h0m-1457 42h0m51 3h0m22-9h0m133 2h0m62 7h0m80 12h0m17-34h0m78 13h0m4-5h0m98-5h0m63 14h0m-149 26h0m177-2h0m9 10h0m167-8h0m44 22h0m22-4h0m49 11h0m66 2h0m276 0h0m289-17h0m-517 32h0m17 4h0m40 12h0m56 8h0m33-3h0m27 1h0m283 2h0m-1471 41h0m10-31h0m1311 32h0m51-29h0m-1312 61h0m46 28h0m436-9h0m-100 41h0m-73 32h0m22 7h0" stroke="#ff7f0e" stroke-width="11.0" stroke-linecap="round" fill="none"/>
<path transform="scale(.1)" d="M1659 473h0m-49 30h0m37-7h0m52 10h0m4 6h0m107 4h0m77 2h0m-32 29h0m3-3h0m24 10h0m9-4h0m16-2h0m-371 35h0m292-22h0m3 8h0m35 16h0m-271 45h0m9-1h0m60-9h0m116-2h0m-231 24h0m83 5h0m1037-2h0m17 16h0m15-7h0m42 11h0m33-6h0m26 0h0m30 0h0m3 0h0m20-8h0m6 18h0m4 1h0m35 5h0m36-18h0m18 21h0m-337 4h0m5 7h0m11 13h0m1 6h0m6-1h0m5-27h0m325 4h0m0 3h0m11-3h0m14 5h0m43-1h0m38 9h0m29 11h0m12 6h0m-566 8h0m28 11h0m9 22h0m22-15h0m14-16h0m60 19h0m467-2h0m10-11h0m9 16h0m-2089 29h0m40-6h0m43 17h0m27-13h0m1306 18h0m26 2h0m9-15h0m109-10h0m3 29h0m10-20h0m571-15h0m29 22h0m10 2h0m-2273 40h0m1481 7h0m162-4h0m21-2h0m34-22h0m2 7h0m594 2h0m-2317 30h0m8-3h0m268 10h0m29 12h0m1176-18h0m236-4h0m15 6h0m639 6h0m9 0h0m-2490 47h0m22-2h0m2 4h0m384-22h0m1081 35h0m10-17h0m11 8h0m22-24h0m28 4h0m19 4h0m152 5h0m16-4h0m58-11h0m17 4h0m12 22h0m31-15h0m22 13h0m625-23h0m13 5h0m4 2h0m25 22h0m-2572 21h0m17-6h0m1430 8h0m9 5h0m6 17h0m2-18h0m9-5h0m1 14h0m11-14h0m15 3h0m44 4h0m28-9h0m233 15h0m18-23h0m21 3h0m10 0h0m30-5h0m10 18h0m21-1h0m47 17h0m-2003 13h0m593-7h0m5 26h0m855-3h0m4 4h0m5-16h0m33-7h0m433 4h0m11 27h0m18-12h0m6-5h0m2 0h0m680 5h0m-2704 44h0m674-26h0m10 10h0m154 24h0m8 4h0m25-5h0m24 0h0m11 3h0m560-13h0m14-4h0m13 16h0m422-34h0m36 8h0m110 18h0m11-12h0m21 21h0m619-29h0m-2769 65h0m13-32h0m786 28h0m13-7h0m5 9h0m8-14h0m38-8h0m631 29h0m9-25h0m6 24h0m7-12h0m607 3h0m1-28h0m17 14h0m51 25h0m0-28h0m500 3h0m14 0h0m36-10h0m8-1h0m30 20h0m-2810 40h0m12 5h0m1494-4h0m1 7h0m65-3h0m3-2h0m223-3h0m9-14h0m338 1h0m34-1h0m19-7h0m35 34h0m533-2h0m35-2h0m31 4h0m18-31h0m16 21h0m-2042 26h0m639 13h0m0 13h0m8-15h0m2-4h0m4-6h0m5 12h0m77 12h0m73-2h0m131-25h0m61-10h0m335 10h0m2-8h0m27 2h0m6 11h0m26-12h0m9 7h0m7 9h0m28 9h0m478-23h0m22 33h0m9-2h0m2-19h0m45-15h0m91 31h0m10 1h0m7 5h0m-2141 33h0m700-30h0m2-1h0m103 22h0m244-21h0m14 16h0m3-15h0m39 28h0m67 5h0m51-19h0m57-15h0m39 24h0m23-13h0m104-7h0m13 3h0m39 24h0m14-27h0m433 10h0m12 3h0m12 2h0m25 12h0m27-31h0m-2731 69h0m650-5h0m8-1h0m19 7h0m16-2h0m34 8h0m14-14h0m23-3h0m10 16h0m14-34h0m13 20h0m49 2h0m6 10h0m24 4h0m4-7h0m48 6h0m320-2h0m28-34h0m32 23h0m10-3h0m38-17h0m53-2h0m139 11h0m265 20h0m13-25h0m9 3h0m379-9h0m4 2h0m2 27h0m490-29h0m173 27h0m-2903 15h0m56 19h0m553 9h0m18 6h0m16-4h0m27-30h0m43 11h0m12 4h0m17 5h0m196-15h0m4 5h0m29-6h0m6 17h0m2-20h0m22 30h0m23-22h0m0 23h0m65-10h0m7 10h0m16-11h0m15 11h0m12-1h0m2-9h0m19 9h0m14-28h0m3 13h0m11 7h0m5 5h0m2-20h0m5 20h0m4-15h0m6-5h0m21 26h0m0-8h0m1-1h0m1 5h0m3 3h0m13-1h0m5-9h0m25-16h0m8 9h0m1-1h0m1 2h0m1 7h0m15 7h0m3-13h0m4-5h0m14 3h0m2-2h0m1-19h0m2 26h0m18-13h0m266 26h0m643-27h0m0 0h0m10-6h0m1 1h0m25 19h0m12 3h0m5-19h0m311 0h0m34 25h0m13-33h0m53 24h0m196-23h0m12 2h0m22 25h0m-2831 16h0m7 3h0m69 13h0m440-15h0m309 5h0m3 20h0m1 0h0m43 7h0m54-7h0m32-10h0m1 1h0m26-19h0m1 35h0m24-35h0m10 0h0m2 2h0m18 21h0m1 2h0m3-24h0m6 8h0m5 2h0m35-1h0m1 24h0m26-29h0m0-6h0m0 8h0m1 9h0m8-3h0m1-8h0m3 21h0m5-29h0m1 20h0m14-9h0m3 7h0m2-6h0m4 6h0m5 16h0m21-35h0m3 0h0m20 2h0m1 8h0m0-10h0m10 28h0m3 0h0m5-22h0m16 9h0m17 0h0m32 2h0m20-6h0m17 26h0m20-1h0m47-34h0m70 34h0m154 3h0m2-9h0m541-25h0m55 3h0m258-4h0m53 11h0m18-6h0m-2394 38h0m40 3h0m164 18h0m3-10h0m369 6h0m81-6h0m5 10h0m14-28h0m15 10h0m2-7h0m48 7h0m12-3h0m29 5h0m35-2h0m347-3h0m12 7h0m15-11h0m8 2h0m9 0h0m10 6h0m3 12h0m9-5h0m16-5h0m47-8h0m3 7h0m24 17h0m79 6h0m0 4h0m614-33h0m17-5h0m55 6h0m24 31h0m12-16h0m105-8h0m82 14h0m8-16h0m5 26h0m1-5h0m17-9h0m29 2h0m366-20h0m-2552 38h0m403-3h0m15 13h0m1 12h0m64-25h0m657 10h0m96-4h0m0 15h0m6-6h0m355-12h0m44-2h0m265 25h0m6-21h0m3 0h0m10 1h0m33 24h0m25 1h0m10-25h0m74-6h0m22 8h0m7-3h0m21 31h0m4-7h0m8-29h0m6 35h0m44-21h0m-2635 60h0m38-1h0m113 2h0m632-19h0m4 6h0m27 2h0m11 2h0m9-24h0m16 17h0m888 4h0m38 6h0m8-5h0m560-18h0m134-3h0m88-3h0m2-1h0m484 1h0m-2938 39h0m44 4h0m131 24h0m411 3h0m17-6h0m5-17h0m18-7h0m4 7h0m34 3h0m1047 5h0m48 18h0m219-8h0m923 3h0m5-28h0m-2615 42h0m26-1h0m146 25h0m58-1h0m1-16h0m18-9h0m3 12h0m1237 9h0m1069 4h0m-3042 17h0m12-2h0m562 23h0m31-3h0m9 6h0m25 0h0m7-20h0m1391 26h0m111-26h0m850 23h0m10-1h0m-3041 39h0m595-26h0m63 12h0m1421-8h0m879 19h0m3-1h0m12 7h0m-3011 32h0m729-8h0m1432-3h0m79 15h0m16 4h0m597 3h0m9-3h0m68-18h0m9-8h0m-2940 46h0m708-5h0m1658 26h0m358-3h0m12-5h0m-353 23h0m77 7h0m86 12h0m29-18h0m41 6h0m17 12h0m8-10h0m13-11h0m30 0h0m-2656 54h0m445 20h0m51-1h0m21-30h0m22-3h0m-469 65h0m267-14h0m-262 32h0m26 17h0m81 1h0m10-13h0m60-5h0m1377 85h0m-75 40h0m176 5h0m951 21h0m-1263 39h0m30-17h0m25 3h0m166 12h0m153-34h0m850 33h0m65-29h0m34-5h0m47 10h0m-1565 61h0m37-31h0m105 22h0m31 0h0m31-19h0m146 32h0m103-29h0m1157-7h0m-1618 52h0m732-12h0m19 27h0m155-17h0m2-4h0m8 13h0m14-10h0m34 19h0m49 8h0m17-9h0m0 4h0m368-15h0m273-2h0m-1639 28h0m55 3h0m12 12h0m8-7h0m658-5h0m358 4h0m40 10h0m52-4h0m114 5h0m0 11h0m18-7h0m28-22h0m1 36h0m0-10h0m221 6h0m14-10h0m19-3h0m-1481 37h0m585-10h0m804-3h0m1 22h0m-875 51h0m36-5h0m14-15h0m28-4h0m-491 54h0m399-5h0m-305 44h0m35 9h0m157 0h0m17 1h0m23-26h0m-155 57h0m10-27h0" stroke="#2ca02c" stroke-width="11.0" stroke-linecap="round" fill="none"/>
<path transform="scale(.1)" d="M1578 513h0m35-1h0m1 2h0m15 1h0m2-8h0m5 10h0m16-8h0m2-10h0m7 19h0m2-13h0m21 2h0m25-6h0m25 11h0m-184 27h0m6 7h0m5 0h0m1-20h0m2-2h0m10 3h0m137-5h0m9-2h0m21 11h0m6-10h0m15 21h0m18-8h0m4 20h0m10-2h0m9-25h0m19 30h0m2-14h0m4 7h0m9-10h0m5 11h0m9 2h0m20-3h0m1-10h0m2 17h0m2-15h0m3 8h0m13 0h0m1 8h0m3-8h0m6 0h0m-373 48h0m2-20h0m6-17h0m13 1h0m143 31h0m32 2h0m35-12h0m3-16h0m35 15h0m4 8h0m10-19h0m30 10h0m9-12h0m1 4h0m-336 29h0m30 32h0m4-18h0m17 13h0m4 4h0m5 2h0m23-17h0m11 3h0m6 6h0m10-1h0m12-23h0m4 34h0m6-25h0m1 3h0m17-3h0m5 5h0m29 8h0m9-19h0m4-2h0m12 4h0m15-2h0m1-3h0m2 7h0m25-9h0m907 57h0m7 5h0m4-11h0m3 10h0m6 8h0m1 7h0m8-12h0m27-4h0m23 3h0m16 8h0m2-12h0m26-2h0m29-1h0m3-5h0m7 20h0m9-11h0m0 9h0m2-9h0m0 11h0m1-1h0m14 0h0m2-11h0m7 15h0m89-5h0m6 9h0m11-1h0m-379 31h0m2 6h0m10-7h0m5-8h0m6-17h0m5 16h0m12 2h0m24-20h0m37 9h0m56-4h0m0-6h0m96 6h0m39-1h0m24 2h0m39-4h0m3 15h0m1-14h0m46 11h0m4 10h0m10 5h0m13 0h0m2-9h0m5-16h0m1 19h0m2 15h0m5-12h0m11 9h0m13-15h0m-494 47h0m2 10h0m3-25h0m3-3h0m484-3h0m51 24h0m18-12h0m3-1h0m18 20h0m8-9h0m1-1h0m-2128 48h0m4 0h0m8-5h0m11 0h0m3-4h0m43 5h0m13 0h0m14-11h0m1 0h0m4 13h0m2-7h0m1-3h0m21 3h0m10-7h0m19 4h0m2 2h0m5 12h0m0-15h0m1307 10h0m6 5h0m1 0h0m3-6h0m14-18h0m14 6h0m4 13h0m23-30h0m584-3h0m4 10h0m16 0h0m13 12h0m3-13h0m4 11h0m19-1h0m10-3h0m54 23h0m-2269 34h0m5-3h0m14-26h0m10 23h0m73-18h0m5-9h0m106 7h0m0 24h0m11 3h0m5-1h0m1211 1h0m70-30h0m1 0h0m9 3h0m728 2h0m5 4h0m42 18h0m3 8h0m1-5h0m-2393 40h0m34-9h0m3-8h0m13 6h0m3-9h0m26-11h0m2 19h0m248-12h0m1 6h0m4 22h0m5-8h0m5 3h0m1136-4h0m15 6h0m1-1h0m2-6h0m5 6h0m2-17h0m6 10h0m4-17h0m3-7h0m4 21h0m19-5h0m10-17h0m826 0h0m1 15h0m13 5h0m9-14h0m1 2h0m0-5h0m6-1h0m9 1h0m-2454 52h0m9-5h0m3 12h0m8 14h0m4-15h0m18-7h0m10-9h0m325 2h0m4 10h0m16-14h0m25 20h0m7 10h0m10-1h0m4-12h0m7 8h0m1046-1h0m12 2h0m23-17h0m945 2h0m10 15h0m12-7h0m19 12h0m14-25h0m-2570 50h0m10-12h0m11 10h0m3-17h0m4 18h0m476-17h0m11 3h0m4 15h0m2-19h0m1 35h0m4-13h0m2-4h0m1013 3h0m8 4h0m1 3h0m1012-13h0m4-10h0m18-5h0m2 32h0m5-28h0m11 7h0m-2669 60h0m26 0h0m1-22h0m15-5h0m1 0h0m10-6h0m557 31h0m11 6h0m3-6h0m2 4h0m989-24h0m0 9h0m21-2h0m4-2h0m4 19h0m983-30h0m8-5h0m28 22h0m-2712 56h0m10-4h0m4-3h0m1-25h0m7 1h0m19 10h0m28-15h0m1 8h0m618-3h0m18 12h0m10 18h0m966-10h0m6-27h0m987 38h0m18-3h0m16-17h0m5-16h0m8 2h0m0 31h0m1-12h0m4-20h0m0 26h0m7 8h0m-2782 32h0m7 2h0m2 5h0m15-29h0m0 27h0m5-9h0m3-24h0m12 12h0m14 0h0m688 6h0m26-12h0m8 20h0m5 12h0m1-23h0m2 10h0m3 4h0m979-29h0m3 5h0m9 26h0m2 2h0m0-5h0m4 5h0m3 2h0m5-29h0m765 15h0m4-6h0m34 15h0m11-19h0m7 5h0m3-2h0m19 20h0m6-23h0m11 17h0m1-17h0m12 18h0m14-6h0m4 9h0m2-22h0m6 8h0m14-9h0m0 11h0m13-4h0m14 8h0m2-19h0m4-3h0m16 16h0m2-19h0m2 7h0m5-6h0m7 9h0m5 8h0m14 8h0m8 10h0m-2804 40h0m788-25h0m8-6h0m1 14h0m12 15h0m5-19h0m974-5h0m21 28h0m314-16h0m35 7h0m3 6h0m13 1h0m4 1h0m6-7h0m4 0h0m21 5h0m2-4h0m27-14h0m6 19h0m10-10h0m25-13h0m6 22h0m6-3h0m6-12h0m17-1h0m0 6h0m6 1h0m24-11h0m27 17h0m37-18h0m5 10h0m28-14h0m25 16h0m9 4h0m1-9h0m37-11h0m5 22h0m39-12h0m10-19h0m237 7h0m18 14h0m5 2h0m7-23h0m5 27h0m9-16h0m6 27h0m10-19h0m7 13h0m-2872 18h0m1 23h0m6-25h0m1 20h0m799-10h0m11 4h0m1000-7h0m8 20h0m6-15h0m2 5h0m2 6h0m1-25h0m177 19h0m10 5h0m5-11h0m25 15h0m9 3h0m2-22h0m7 6h0m2 6h0m8 10h0m5-16h0m2 3h0m15-13h0m0 7h0m2-13h0m9 12h0m15-10h0m26-1h0m3 6h0m15-11h0m0-1h0m30 8h0m663 14h0m17 0h0m6 6h0m2 8h0m8-11h0m-2899 33h0m8-8h0m3 11h0m2-1h0m8 18h0m4-37h0m728 22h0m8 1h0m4 7h0m8 4h0m4-17h0m11-7h0m1 24h0m5-30h0m9-1h0m0 6h0m1028-1h0m13 13h0m18-15h0m3 0h0m19 16h0m13 7h0m0-6h0m3-12h0m12 20h0m6-5h0m1-4h0m27 14h0m7-11h0m0-13h0m10 12h0m2-9h0m11-3h0m2 25h0m5-14h0m2-10h0m16 9h0m2 14h0m16-8h0m15 0h0m3-12h0m19-17h0m3 10h0m809-1h0m47 1h0m-2901 39h0m1 8h0m19 5h0m12-21h0m9 16h0m3 18h0m2-3h0m17-2h0m624-9h0m4 4h0m22-21h0m23 6h0m1146 6h0m3-1h0m6 10h0m13-26h0m15 5h0m5 17h0m38-22h0m939 7h0m8 6h0m11-12h0m4 5h0m3 13h0m-2879 21h0m16 30h0m9 2h0m36-5h0m19-19h0m0 12h0m81 14h0m401-1h0m5 3h0m18-34h0m8 16h0m5 3h0m3-1h0m33-20h0m1 12h0m1126 26h0m2-2h0m3 1h0m4 1h0m29-8h0m5-1h0m8-20h0m1 4h0m10-11h0m1074 7h0m1 28h0m5-18h0m12-16h0m2 1h0m1 24h0m-2845 14h0m31 5h0m2 10h0m5-6h0m14-4h0m0 14h0m28 5h0m9-13h0m5 14h0m10-9h0m36 20h0m15 0h0m5-1h0m9-15h0m1 3h0m18 8h0m4-7h0m2 1h0m48 4h0m0 6h0m173-5h0m22-13h0m6 17h0m3-24h0m0 20h0m19-11h0m1-5h0m15 0h0m6-14h0m2-2h0m1171 31h0m2 6h0m26-29h0m5 9h0m1150 2h0m12-3h0m5-13h0m16 15h0m8 10h0m-2739 17h0m63 9h0m28-11h0m3 6h0m17-7h0m2 15h0m20 7h0m42 8h0m8 0h0m3 4h0m18-5h0m15-20h0m4 7h0m5 10h0m0 11h0m19-12h0m11-9h0m15-10h0m14 7h0m1167 23h0m4-4h0m2-22h0m8 27h0m6-15h0m15-8h0m3-2h0m20-4h0m11-10h0m1214 21h0m2-15h0m16 13h0m11-4h0m10 15h0m-2651 11h0m39 4h0m1286 2h0m20 28h0m4-24h0m1-11h0m42 36h0m5 3h0m36 0h0m1204-32h0m1-3h0m7-2h0m8 29h0m10-4h0m8-13h0m12 13h0m-3057 46h0m8 1h0m13-1h0m16-1h0m19-12h0m26 17h0m34 0h0m27-13h0m4 15h0m4-17h0m25 13h0m1545-35h0m4 15h0m34 3h0m24 16h0m9-20h0m1 7h0m11 1h0m24-2h0m6 17h0m3-23h0m4 1h0m1184 14h0m23-22h0m5 18h0m-3110 46h0m13 7h0m21-1h0m18-16h0m1 11h0m8-21h0m21-7h0m65-4h0m6 8h0m15 7h0m24-5h0m10-10h0m2 8h0m28 2h0m12-4h0m4-6h0m0 11h0m4-2h0m16 8h0m2-2h0m23 7h0m8 8h0m10-23h0m13 8h0m10-6h0m11 7h0m4 13h0m2-13h0m110 20h0m48 1h0m1396-20h0m11 19h0m9-17h0m3 5h0m8-12h0m5 5h0m2 7h0m16 5h0m1100-1h0m7 2h0m0 5h0m2-4h0m13 0h0m8-28h0m6 7h0m7 10h0m-3097 48h0m2-16h0m51 10h0m292-13h0m10 1h0m43 17h0m20-4h0m0 1h0m2-7h0m1-3h0m1-8h0m3 8h0m17 9h0m1-16h0m9 26h0m47-22h0m2 16h0m8-8h0m6 7h0m13-10h0m16 13h0m1388-28h0m28 9h0m1021 25h0m13 0h0m19-7h0m7 4h0m16-1h0m-3072 41h0m18-3h0m3-4h0m15-18h0m1-1h0m518-5h0m4 2h0m14 28h0m1430-30h0m6 10h0m11-3h0m28 20h0m15 10h0m11-7h0m882 2h0m8 3h0m42-36h0m1 26h0m6-10h0m4-8h0m4 25h0m1-10h0m3 0h0m4-5h0m0 4h0m5-16h0m0 15h0m-3047 46h0m6-14h0m9 19h0m8-18h0m14-3h0m583-2h0m9 6h0m8-14h0m5 9h0m14 27h0m1-13h0m6 7h0m2 0h0m1414-9h0m23-17h0m7 23h0m2-9h0m8 15h0m2-7h0m5 7h0m27 1h0m731 1h0m24 1h0m14-22h0m19 6h0m24-16h0m1 16h0m5-20h0m-2977 62h0m15-15h0m2 12h0m14-8h0m645 13h0m4 5h0m0-30h0m3 5h0m6 6h0m3 17h0m1419-25h0m46 2h0m4 8h0m20-12h0m11 4h0m3 0h0m7 7h0m1-11h0m13 16h0m29 0h0m39 12h0m485 9h0m38-4h0m1-3h0m19-5h0m3 4h0m1-19h0m2 10h0m33-12h0m2 20h0m4-15h0m1-5h0m-2914 48h0m6-5h0m6 18h0m6-14h0m13-2h0m564 20h0m67-23h0m8 18h0m7-19h0m2-10h0m5 12h0m6-5h0m1 11h0m45-12h0m1554-5h0m9 3h0m0-4h0m13 1h0m23 19h0m7-10h0m5-4h0m4 7h0m9-5h0m5 31h0m18-5h0m3-21h0m2 18h0m8-20h0m15 24h0m15-5h0m16 8h0m67-1h0m48-1h0m67-10h0m26 10h0m38-4h0m4-6h0m15 9h0m7-13h0m1-6h0m33 5h0m10 3h0m16-12h0m2-10h0m4 23h0m13-2h0m19-6h0m5 10h0m14-6h0m31-20h0m-2846 52h0m1 10h0m5-10h0m0 15h0m555 5h0m17-7h0m23 5h0m12-19h0m3-2h0m11 1h0m1803-5h0m20-2h0m1 0h0m10 4h0m19-3h0m5 10h0m6-10h0m8 5h0m18 17h0m5-20h0m11-4h0m49 6h0m12 25h0m4-33h0m9 19h0m13 1h0m18-10h0m11 5h0m6-16h0m58 2h0m-2687 62h0m6 4h0m4-28h0m5 24h0m4-1h0m334 12h0m40-4h0m1-4h0m6 0h0m31 8h0m4-15h0m7-1h0m22-18h0m2 20h0m4 6h0m5-8h0m9-13h0m8 16h0m0-1h0m37-19h0m9-2h0m14 0h0m-542 40h0m19 6h0m1-6h0m19 30h0m27-16h0m10 23h0m105-3h0m40-5h0m7 7h0m14 2h0m1-12h0m62-2h0m18 3h0m7-21h0m2 2h0m18-1h0m1 21h0m7-17h0m6 7h0m33-13h0m9 16h0m-324 30h0m10-11h0m0 8h0m25-7h0m17 25h0m1-2h0m1 0h0m10-3h0m11 10h0m25-28h0m2 0h0m8 9h0m2 18h0m6-17h0m23-5h0m83-8h0m1266 117h0m9-15h0m0-13h0m13 20h0m2-18h0m25 9h0m3-5h0m22 20h0m18-3h0m1-12h0m1 15h0m17-4h0m-166 43h0m20-18h0m1-3h0m4 13h0m8 5h0m13-25h0m15-6h0m85 5h0m13-2h0m3 14h0m8-3h0m15-6h0m14 18h0m6-9h0m9 9h0m3-4h0m25 14h0m-335 42h0m10-21h0m20 15h0m7-3h0m9-3h0m5-12h0m9-10h0m8 6h0m5 3h0m14-13h0m260 4h0m13 9h0m4 3h0m2-15h0m5 1h0m15 28h0m12 0h0m22-7h0m1-2h0m22 18h0m6-11h0m10 10h0m758-6h0m12-6h0m2-3h0m3 1h0m1 6h0m0-1h0m11-7h0m8 7h0m5-5h0m11-3h0m14-8h0m9 15h0m1-16h0m10 15h0m11 11h0m23-3h0m17-15h0m30 12h0m-1603 36h0m1 5h0m0 2h0m2-2h0m19-22h0m0 25h0m15 0h0m7-3h0m12-4h0m1 1h0m13 1h0m30 4h0m21-2h0m19-6h0m26-1h0m3 11h0m4-21h0m1 4h0m8 3h0m13-1h0m16-6h0m6-13h0m18 2h0m3 2h0m428 7h0m14 3h0m15 12h0m14-12h0m13 15h0m687 7h0m2-2h0m3-9h0m0-10h0m160-12h0m28 5h0m16 2h0m1-9h0m5 24h0m0-17h0m6 14h0m5-18h0m1 19h0m19-6h0m-1646 21h0m9 16h0m5 20h0m1-15h0m13 12h0m32 4h0m9-37h0m26 30h0m0-26h0m4-2h0m31 20h0m571-7h0m19 4h0m5 5h0m4 10h0m10-28h0m626 29h0m17-12h0m3-1h0m1 6h0m0-19h0m9 17h0m198 10h0m4-3h0m37-8h0m7-13h0m1 25h0m-1631 8h0m39-1h0m11 8h0m5-13h0m2 0h0m28 30h0m4-9h0m11 1h0m0 13h0m12-8h0m574-16h0m25 19h0m3-2h0m4-10h0m615 8h0m16-9h0m11 17h0m15-8h0m28 6h0m7 3h0m10 1h0m5-2h0m37-1h0m4 2h0m50 1h0m19-8h0m12 1h0m2-13h0m19 4h0m16-8h0m19-12h0m15 1h0m-1503 42h0m18 10h0m0-1h0m2-1h0m8 1h0m546 11h0m1-14h0m1 22h0m6-16h0m7 4h0m12 4h0m0-4h0m659-14h0m7 16h0m9-4h0m65-7h0m1 13h0m42-1h0m6-19h0m3 5h0m2 6h0m-1355 38h0m4-8h0m9 1h0m7 30h0m20-15h0m1 15h0m9 3h0m14-13h0m399 4h0m17-5h0m10-1h0m30-2h0m-489 24h0m9-1h0m11 14h0m2-2h0m366 14h0m3 8h0m16-18h0m4-2h0m2 19h0m4-29h0m1 12h0m2-13h0m15-5h0m-362 56h0m4-6h0m5-2h0m13 1h0m5-10h0m4 3h0m30 2h0m27 24h0m3-2h0m12-15h0m7 12h0m2-2h0m5-17h0m50 31h0m15-17h0m7 11h0m13 7h0m4-6h0m7-9h0m1 6h0m2 3h0m17-10h0m24 8h0m39-11h0m-219 23h0m55 5h0m7 6h0m13-13h0m13 7h0m5 6h0m10 10h0m1-10h0m10-5h0m4 6h0" stroke="#fff" stroke-width="9.0" stroke-linecap="round" fill="none"/>
<path transform="scale(.1)" d="M3233 1038h0m26-3h0m103-18h0m3 12h0m18-15h0m8 16h0m3 5h0m8 0h0m2-26h0m9 26h0m35-33h0m3 12h0m8 13h0m-593 51h0m22-16h0m3 0h0m62 3h0m1 6h0m2-15h0m19 15h0m26-6h0m13 10h0m18-13h0m39 17h0m6 0h0m2-26h0m1-12h0m12 28h0m2-2h0m15 8h0m8-5h0m2-14h0m6 5h0m23-9h0m7 18h0m14-1h0m6-1h0m5-1h0m2 4h0m10-4h0m5-5h0m10 3h0m15 7h0m4-21h0m11 28h0m7-16h0m12-4h0m6 19h0m13-3h0m12-25h0m3 0h0m8-3h0m0-5h0m6 8h0m6 24h0m11-16h0m19-8h0m0 20h0m0-19h0m10-1h0m4 13h0m6 12h0m1-23h0m14-1h0m11-5h0m14 17h0m1-15h0m3-3h0m4 30h0m8-12h0m17-11h0m12-8h0m2 15h0m-739 31h0m22 21h0m16-28h0m6 24h0m8-8h0m20 19h0m21 1h0m0-7h0m2-2h0m8 8h0m8-7h0m15-17h0m1 9h0m1 10h0m2-3h0m31-26h0m6 31h0m8-24h0m8 6h0m11-3h0m8 17h0m1-29h0m4 25h0m4 6h0m3-16h0m10-7h0m6 25h0m17-14h0m0-8h0m19 11h0m1 1h0m0-6h0m25 17h0m4-8h0m2-2h0m1-16h0m5 2h0m13 26h0m11-24h0m12-9h0m2 1h0m4 10h0m8 23h0m3-15h0m7 8h0m0-13h0m2 2h0m4-2h0m1 1h0m0 9h0m1 6h0m3 1h0m1-18h0m3-8h0m1 1h0m21 24h0m5-31h0m7 2h0m0-6h0m16 17h0m7 0h0m0-9h0m13 12h0m17-7h0m9-4h0m15 9h0m9-7h0m1 22h0m1 6h0m5-26h0m7 2h0m2 2h0m1-16h0m16 15h0m6-14h0m1 7h0m1 16h0m2-5h0m0-16h0m12 2h0m8 21h0m10 6h0m13-19h0m21-1h0m8-11h0m5 2h0m14 1h0m1 9h0m0-7h0m41 1h0m28-8h0m32 1h0m-858 68h0m38-14h0m9 21h0m3-11h0m3 12h0m3-14h0m17 11h0m1 1h0m4 3h0m3-1h0m1-24h0m9 25h0m8-1h0m6-20h0m15-3h0m2 16h0m11-29h0m3 34h0m32-13h0m11 1h0m1 2h0m0-18h0m11 25h0m3-29h0m0 5h0m4-8h0m10 22h0m0-3h0m3 1h0m3 10h0m0-15h0m2-7h0m6 17h0m5-12h0m1 22h0m5-25h0m2 22h0m22-16h0m2 21h0m4 2h0m4-24h0m4 17h0m3-31h0m2 7h0m9 8h0m3-10h0m1 0h0m14 28h0m4-30h0m10 17h0m1-12h0m6-8h0m22 21h0m7-21h0m9 3h0m29 5h0m1-2h0m3-1h0m31 18h0m17-20h0m9 13h0m22-13h0m67 0h0m6 5h0m67-2h0m-681 69h0m20-17h0m3-2h0m14 15h0m8 2h0m9-11h0m8-6h0m4 16h0m1 6h0m8-18h0m4 0h0m3 8h0m0-5h0m5 15h0m0-16h0m9-12h0m0 1h0m4 9h0m41 18h0m7-35h0m8 10h0m4 7h0m4-3h0m19-15h0m3 10h0m15-9h0m4 7h0m3 8h0m6-19h0m12 7h0m4-3h0m9 5h0m13-8h0m14 9h0m20 2h0m6 16h0m28-27h0m36 3h0m202 2h0m-619 35h0m18 13h0m17 24h0m11-1h0m3-13h0m3-12h0m17 15h0m6 3h0m4-25h0m7 29h0m3-3h0m1-23h0m1-8h0m5 5h0m6-1h0m3-3h0m9 31h0m1-18h0m16 9h0m2-20h0m8 17h0m2-17h0m1 19h0m4 4h0m5 10h0m18-15h0m12 9h0m13-27h0m3 12h0m5-8h0m6 13h0m-215 33h0m6 6h0m11-9h0m4 1h0m7-1h0m1 15h0m0 7h0m4 0h0m0-3h0m10 3h0m22-29h0m0 13h0m9 16h0m4-1h0m36-29h0m65 7h0m-167 67h0m32-7h0m3-14h0m0-14h0" stroke="#fff" stroke-width="12.0" stroke-linecap="round" fill="none"/>
<path transform="scale(.1)" d="M2772 1118h0m11 0h0m-247 34h0m91-5h0m14-21h0m15 18h0m17 2h0m28-18h0m19 17h0m16-13h0m7-6h0m20 6h0m50 14h0m-318 52h0m23-12h0m12-17h0m26 18h0m31 2h0m3-10h0m2-13h0m7 28h0m7 3h0m3-6h0m4-20h0m4-1h0m15 27h0m6-30h0m13 3h0m4 27h0m1-16h0m3 8h0m23-21h0m24 6h0m5 24h0m1-38h0m48 25h0m14-12h0m-269 49h0m8-4h0m2 16h0m10-24h0m0 15h0m10-8h0m6 15h0m2-2h0m18-30h0m6 0h0m6 10h0m12 21h0m0-1h0m18-28h0m10 19h0m0-7h0m7 9h0m17-4h0m18-13h0m47 5h0m8 11h0m16-7h0m-271 31h0m28 6h0m4-9h0m7 8h0m7 28h0m1-10h0m26-23h0m1-6h0m23 0h0m21 20h0m-82 43h0" stroke="#fff" stroke-width="19.0" stroke-linecap="round" fill="none"/>
<polygon points="457.4,109.8 459.1,119.1 467.2,126.0 480.0,129.5 495.1,131.9 499.8,135.3 509.1,134.2 519.5,128.4 527.7,122.6 537.0,117.9 538.1,109.8 532.3,101.6 525.3,92.3 516.0,87.7 511.4,79.5 497.4,78.4 487.0,85.3 476.5,92.3 467.2,100.5 460.2,106.3" fill="#2ca02c"/>
<polygon points="457.4,109.8 459.1,119.1 467.2,126.0 480.0,129.5 495.1,131.9 499.8,135.3 509.1,134.2 519.5,128.4 527.7,122.6 537.0,117.9 538.1,109.8 532.3,101.6 525.3,92.3 516.0,87.7 511.4,79.5 497.4,78.4 487.0,85.3 476.5,92.3 467.2,100.5 460.2,106.3" fill="url(#pw)"/>
<path transform="scale(.1)" d="M4944 789h0m7-2h0m2 5h0m1 5h0m4-7h0m5 1h0m2-11h0m3-3h0m8 10h0m3 11h0m1-20h0m2 12h0m0-2h0m2 0h0m0 1h0m5-5h0m1-6h0m1 10h0m1 11h0m11-19h0m1-13h0m8 1h0m4 24h0m1 2h0m5 3h0m8-15h0m1 4h0m0 0h0m20-9h0m3 14h0m1-11h0m2 1h0m0-1h0m20 19h0m1-17h0m8-4h0m0-3h0m2 15h0m8 0h0m4 7h0m10-3h0m10 1h0m-277 40h0m49-23h0m3 15h0m16-2h0m2 2h0m1-25h0m8 12h0m0 3h0m3-13h0m1 15h0m1-1h0m5-1h0m1-3h0m6 3h0m2-5h0m4-8h0m1 17h0m2-2h0m1-12h0m22 6h0m20-7h0m8 4h0m27-4h0m45-1h0m39-4h0m2 27h0m9-5h0m0-12h0m1-11h0m3 19h0m5 11h0m2-6h0m8-9h0m2 21h0m5-12h0m0 4h0m2 3h0m-336 47h0m8-8h0m3 8h0m1-7h0m13 3h0m2-9h0m1 12h0m6-18h0m3 17h0m2-21h0m7 22h0m4-3h0m10-32h0m0 19h0m6-17h0m10 11h0m241 15h0m4-21h0m5 6h0m5-10h0m1 13h0m2-5h0m1 17h0m0-4h0m4 8h0m2-11h0m7-12h0m19 24h0m17-10h0m-434 48h0m3 5h0m13-24h0m1 24h0m4-26h0m14-1h0m11 20h0m7-28h0m2 19h0m2-20h0m2 10h0m4-6h0m21-4h0m6 35h0m10-24h0m279-10h0m14 6h0m7 28h0m10-29h0m2 6h0m8 1h0m4-5h0m0 3h0m5-3h0m0 3h0m4-13h0m2 6h0m3 2h0m5 24h0m3-18h0m2 19h0m1-19h0m7 16h0m4-7h0m6 10h0m7 1h0m13 2h0m-538 38h0m7 2h0m10-4h0m5 3h0m2-7h0m1-8h0m2 16h0m12-6h0m3 3h0m1-32h0m2 1h0m0 22h0m7-1h0m13-15h0m1 4h0m4 1h0m12-12h0m439-1h0m6 20h0m6-13h0m0-7h0m7 16h0m6 4h0m2-14h0m6 24h0m0 5h0m12-22h0m1 14h0m3 0h0m0 0h0m2 10h0m-600 29h0m3 2h0m3 9h0m3-28h0m1 24h0m1-22h0m2 16h0m2 4h0m5 4h0m1-21h0m3 24h0m0-15h0m4-9h0m11-3h0m2-6h0m5 14h0m1-17h0m4-2h0m517 1h0m21 28h0m8-28h0m1 7h0m10-2h0m3 29h0m5-5h0m7-3h0m1-12h0m1 12h0m2-2h0m12-4h0m5 3h0m4 7h0m-700 38h0m4 5h0m1-3h0m2 2h0m2 1h0m11-20h0m1-4h0m2 24h0m1 2h0m5-3h0m3-18h0m5-15h0m1 38h0m1-4h0m4-14h0m7-8h0m7-7h0m615 26h0m1-27h0m1 6h0m5-8h0m4 2h0m14 34h0m4-14h0m2-11h0m0-2h0m6 22h0m0-21h0m11 23h0m5 2h0m-770 27h0m5 6h0m2 0h0m3 9h0m2-9h0m6-4h0m17-11h0m2-8h0m0 10h0m3 5h0m2-21h0m4 4h0m3 3h0m700-4h0m9 15h0m9-5h0m1-6h0m1-6h0m1 31h0m2-5h0m2-22h0m3 21h0m10-5h0m3 4h0m4 6h0m6 5h0m2-6h0m-816 35h0m1-4h0m6-16h0m3 32h0m3-27h0m7-11h0m1 33h0m7-21h0m2 0h0m7 17h0m744-25h0m6 26h0m5-1h0m1 9h0m7-18h0m1-7h0m1 9h0m13 7h0m-817 48h0m4-5h0m2-15h0m2 4h0m4 12h0m0-20h0m12 8h0m1 6h0m0 7h0m1-3h0m0 5h0m13-8h0m748-18h0m10 3h0m3 13h0m3-25h0m3 0h0m3 8h0m4 26h0m1-18h0m1-10h0m6-3h0m2 13h0m-830 25h0m8-2h0m10 23h0m0-16h0m3 1h0m4 15h0m2-17h0m0 13h0m2-6h0m3-9h0m4 16h0m12 19h0m28-7h0m649 0h0m3 3h0m49-35h0m3 39h0m3-12h0m5-12h0m1 14h0m6-1h0m0-22h0m0 1h0m2 27h0m1 1h0m0-29h0m7-1h0m7 10h0m5-6h0m2 4h0m0-12h0m-794 47h0m4 15h0m3-19h0m3-3h0m8 16h0m1-11h0m3 8h0m2 6h0m7 3h0m4-9h0m0 14h0m3-28h0m2 22h0m0-1h0m8 5h0m1-10h0m28 17h0m2-11h0m2-4h0m552 18h0m45-5h0m4 2h0m8 4h0m2-1h0m1-16h0m1 8h0m2-7h0m2 13h0m8-9h0m0-11h0m2 3h0m2-9h0m1 9h0m7-12h0m8 4h0m14 2h0m2-11h0m18 8h0m2 5h0m-712 29h0m7 3h0m10 24h0m1-15h0m5 6h0m10 0h0m10 9h0m2-11h0m2-1h0m15 5h0m2 5h0m4-7h0m7-12h0m2 29h0m1-17h0m3 7h0m3 3h0m3-3h0m2-11h0m39 15h0m12 7h0m2-3h0m4-11h0m406 13h0m5-13h0m5 5h0m2 0h0m22-9h0m4-3h0m0 19h0m2-12h0m9-15h0m3-2h0m4 18h0m1-18h0m1-4h0m1 16h0m2-10h0m24 0h0m3 3h0m0-7h0m-575 44h0m3-9h0m6 4h0m3 19h0m18-21h0m3 7h0m6-7h0m1 11h0m28 5h0m0-16h0m3 18h0m5-13h0m3 0h0m3 3h0m2 1h0m4-1h0m6 6h0m5-11h0m2 0h0m10 9h0m6 4h0m1 20h0m1-19h0m0 13h0m1-16h0m2 2h0m1 0h0m19 17h0m2-4h0m2-18h0m2 8h0m6 11h0m1-10h0m2-3h0m2 12h0m1-3h0m0-8h0m3-13h0m9 20h0m5-6h0m12 0h0m6-6h0m6 20h0m5-16h0m11 5h0m3 11h0m6-2h0m1-2h0m1 5h0m0 3h0m0-19h0m14 6h0m26 10h0m123 2h0m5-7h0m1 7h0m9 0h0m10-5h0m10-2h0m1 6h0m1 1h0m1-8h0m0-2h0m2 11h0m10-4h0m5-10h0m4-2h0m24 9h0m3-17h0m11-14h0m0 4h0m3 3h0m29-4h0m-367 42h0m40 0h0m18 2h0m3-5h0m29 1h0m3 6h0m3-8h0m6 21h0m3-7h0m10 21h0m8-15h0m4-3h0m0 20h0m3-17h0m1-13h0m0 9h0m2 5h0m10 4h0m3 8h0m0-9h0m7 6h0m4 5h0m2-1h0m5 1h0m5-7h0m1-17h0m0 19h0m13-22h0m6 7h0m11-5h0m6 11h0m10 2h0m1-9h0m1-2h0m5-8h0m7 13h0m6 5h0m5-14h0m0 10h0m1-5h0m1 5h0m5 5h0m3-20h0m2-2h0m4 13h0m1-12h0m2 14h0m1 11h0m10-8h0m5-20h0m4 12h0m4-13h0m-139 50h0m24 0h0m2-6h0m12 6h0m15-2h0m21-3h0" stroke="#2ca02c" stroke-width="12.0" stroke-linecap="round" fill="none"/>
<path transform="scale(.1)" d="M4937 786h0m24-4h0m33 12h0m9-8h0m6-6h0m9 1h0m15 1h0m33 0h0m12 13h0m9-5h0m-190 46h0m3-11h0m28-12h0m35-1h0m119-11h0m12 2h0m22 4h0m2 3h0m12 18h0m-297 44h0m40-13h0m7-2h0m1-12h0m11 0h0m249 3h0m7-2h0m0 4h0m11 28h0m13-3h0m0 4h0m-414 39h0m15-16h0m7 11h0m11 1h0m5-23h0m13 13h0m31-9h0m360-6h0m3 23h0m6-5h0m19 3h0m10-5h0m2 13h0m-510 37h0m13-18h0m8-9h0m21 7h0m476-12h0m18 8h0m3 18h0m-576 26h0m7 12h0m39-27h0m552 5h0m5 2h0m10 21h0m10 11h0m-697 38h0m7-3h0m27-12h0m35-22h0m629 19h0m16-3h0m-738 48h0m10 8h0m21-21h0m0-4h0m709-6h0m11 9h0m6 15h0m25 4h0m-812 31h0m9 15h0m5-7h0m5-18h0m793-2h0m-800 46h0m3 6h0m8 7h0m782-2h0m10-10h0m14-14h0m-813 72h0m8-9h0m766 1h0m1 10h0m19-22h0m2-4h0m-781 40h0m9-2h0m33 13h0m634 4h0m1 7h0m1-10h0m20 5h0m1 2h0m45-23h0m-695 36h0m7 0h0m5-1h0m20 4h0m15 14h0m24 19h0m8 2h0m482 0h0m1-16h0m14-9h0m15 9h0m6-14h0m9-3h0m-526 45h0m21-10h0m33 4h0m1 0h0m9 17h0m6-10h0m39 21h0m25-5h0m35 2h0m2-3h0m4 3h0m0-6h0m18 5h0m4 8h0m14 1h0m222-3h0m6-14h0m8-12h0m2 9h0m2-14h0m4 5h0m7-6h0m-265 53h0m4-16h0m40 20h0m2 0h0m2 3h0m20 16h0m41-12h0m25 7h0m6-10h0m3-8h0m10 19h0m17-11h0m24-23h0m13 7h0m-121 35h0" stroke="#fff" stroke-width="9.0" stroke-linecap="round" fill="none"/>
<polygon points="447.4,167.7 450.9,174.7 460.2,180.5 464.9,182.8 476.5,178.1 490.5,175.8 502.1,172.3 511.4,167.7 519.5,163.0 517.2,158.4 510.2,154.9 506.7,149.1 497.4,150.2 488.1,146.7 476.5,144.4 462.6,143.3 456.7,150.2 452.1,158.4 448.6,164.2" fill="#9467bd"/>
<polygon points="447.4,167.7 450.9,174.7 460.2,180.5 464.9,182.8 476.5,178.1 490.5,175.8 502.1,172.3 511.4,167.7 519.5,163.0 517.2,158.4 510.2,154.9 506.7,149.1 497.4,150.2 488.1,146.7 476.5,144.4 462.6,143.3 456.7,150.2 452.1,158.4 448.6,164.2" fill="url(#pw)"/>
<path transform="scale(.1)" d="M4621 1415h0m6 18h0m2 1h0m0-9h0m9 0h0m2 4h0m3 0h0m5 7h0m6-7h0m1 2h0m2 2h0m10-3h0m7 9h0m10-18h0m1 5h0m4 5h0m11-15h0m7 21h0m10-2h0m8 3h0m13-12h0m3 6h0m1 2h0m19 5h0m7-4h0m2-26h0m39 28h0m-237 30h0m12 6h0m9-13h0m1 4h0m3 6h0m2 6h0m2-5h0m1-26h0m1 31h0m2-14h0m1-3h0m7 4h0m9-11h0m2-7h0m3 10h0m2-9h0m9-3h0m9 13h0m15-15h0m9 3h0m16 1h0m1-5h0m3 0h0m1 5h0m3 4h0m20 9h0m3-8h0m7-7h0m13-3h0m7 22h0m14 1h0m2-17h0m15-2h0m3 4h0m3-8h0m2 36h0m1-17h0m8-14h0m6 14h0m8-15h0m0 11h0m4-7h0m6 6h0m3 14h0m5-12h0m1 12h0m1-18h0m7 11h0m1-9h0m0-5h0m3 7h0m0-14h0m1 15h0m3 16h0m0-5h0m9-8h0m3-9h0m4 13h0m16 7h0m4 0h0m5 2h0m1 7h0m3-1h0m5-9h0m2 6h0m12-5h0m14 3h0m16 5h0m74 2h0m7-5h0m16 1h0m34 4h0m-540 39h0m33-2h0m1-4h0m5-23h0m3 5h0m4-13h0m1 9h0m10-5h0m1 5h0m22-8h0m282 26h0m25-25h0m2 13h0m2-8h0m1 16h0m2-16h0m23-4h0m1 6h0m1 10h0m1 13h0m0-19h0m4-1h0m1 6h0m2-6h0m4-3h0m9 7h0m3-2h0m5 2h0m7-3h0m16 7h0m0 3h0m0 7h0m8-3h0m6-11h0m1 15h0m4-16h0m2 5h0m1-16h0m0 29h0m11-19h0m5 8h0m0-3h0m1-9h0m5-1h0m12-7h0m0 15h0m5-17h0m6 8h0m4 5h0m4 18h0m2-5h0m0-1h0m7-12h0m2 23h0m6 0h0m13 1h0m-586 36h0m8-17h0m2-7h0m1 18h0m8 1h0m13-20h0m2-7h0m0 6h0m1 20h0m4-1h0m22-17h0m488-4h0m11-2h0m6 23h0m11-16h0m1 11h0m4-5h0m6 4h0m3-6h0m2 12h0m5-4h0m1 16h0m14-11h0m-642 43h0m16-4h0m8 8h0m6-33h0m1 27h0m1-10h0m3-4h0m4 16h0m6-29h0m1 24h0m2-8h0m4-9h0m6 13h0m6-17h0m547 3h0m13-4h0m1-3h0m11 18h0m16-9h0m0-2h0m2 7h0m5 3h0m3-13h0m1 19h0m4 2h0m5-17h0m5 9h0m0 1h0m6-6h0m7 11h0m1-14h0m2 26h0m-706 28h0m6 11h0m2-12h0m14 11h0m1-13h0m4-14h0m6 8h0m1-14h0m5 8h0m2-8h0m654 34h0m2 0h0m0-10h0m4 8h0m2-27h0m3 32h0m1-25h0m3 17h0m1-8h0m1-8h0m2 7h0m0 13h0m0-32h0m2 26h0m1-4h0m3-19h0m0 19h0m-734 32h0m1 2h0m8-4h0m2-2h0m11 20h0m3-29h0m2-3h0m1 35h0m2-17h0m1-14h0m2 14h0m4 20h0m1-15h0m586 10h0m24-6h0m3 4h0m10 3h0m2 3h0m0 1h0m0-8h0m11 9h0m2-39h0m0 26h0m4-15h0m5 7h0m0 11h0m4-8h0m1 0h0m4-8h0m1 2h0m12-3h0m0 2h0m-695 35h0m1-4h0m1 8h0m2 6h0m4 16h0m1-11h0m0-4h0m1-12h0m18 27h0m0-11h0m448 14h0m51 1h0m7-3h0m6-2h0m2 3h0m4-4h0m3-11h0m17 17h0m2-16h0m5 9h0m1 4h0m6-34h0m2 21h0m4 11h0m1-24h0m8 29h0m1-17h0m1-7h0m1 2h0m1 6h0m8 1h0m5-7h0m2-7h0m1-1h0m3 6h0m20 16h0m6-28h0m10-2h0m5-1h0m-650 63h0m8-17h0m6-1h0m2 1h0m5 7h0m6-3h0m1 5h0m1 2h0m7 0h0m8 22h0m1-17h0m0 12h0m0-11h0m2-3h0m0 8h0m16 11h0m236-4h0m59-12h0m17 16h0m1-4h0m20 0h0m13 4h0m1-16h0m11 15h0m1-3h0m2-18h0m5 14h0m6 4h0m4-6h0m0-3h0m1 2h0m11-8h0m5-8h0m1 10h0m2-1h0m9 4h0m1 1h0m1 1h0m1-2h0m15-13h0m3-1h0m6 0h0m8 10h0m5-19h0m2 22h0m0 5h0m7-26h0m3 8h0m14 12h0m7-2h0m8-15h0m13 2h0m-524 36h0m1-1h0m5 3h0m2-2h0m17 3h0m5 30h0m3-7h0m0-15h0m1 9h0m0-5h0m3-16h0m3 20h0m4 2h0m0 3h0m16-4h0m2-14h0m4-1h0m9 1h0m1 10h0m17 5h0m13 2h0m24 12h0m37-3h0m13-1h0m20-14h0m13 18h0m2-11h0m2-5h0m14 6h0m0 1h0m15-21h0m4 25h0m2-3h0m1-2h0m3-16h0m13 5h0m1-10h0m3 28h0m7-17h0m0-10h0m1 5h0m4 17h0m7-22h0m0-7h0m2 22h0m6-6h0m8-10h0m7 12h0m9-16h0m3 4h0m2 2h0m1-2h0m3 20h0m3-13h0m7-5h0m3-5h0m14-3h0m1 23h0m5-20h0m4 3h0m35-7h0m-354 51h0m30-1h0m3 17h0m3-3h0m1-11h0m2 10h0m24 11h0m1-18h0m3 20h0m1-17h0m4 9h0m3-24h0m13-5h0m8 31h0m3-18h0m3 3h0m2-14h0m2 18h0m1-3h0m2 3h0m1-13h0m1 2h0m0 12h0m3-6h0m2-9h0m2 15h0m2-3h0m0-17h0m1 12h0m2 14h0m16-27h0m17 5h0m9 10h0m9-13h0m40 2h0m-162 39h0" stroke="#9467bd" stroke-width="12.0" stroke-linecap="round" fill="none"/>
<path transform="scale(.1)" d="M4609 1432h0m43 4h0m8-5h0m7 1h0m32 3h0m25 3h0m31-4h0m-123 18h0m32-12h0m52 2h0m33 2h0m20-1h0m3 7h0m1-7h0m22 25h0m33-2h0m19-9h0m10 5h0m8-8h0m7 14h0m26 9h0m127 1h0m-476 37h0m2 3h0m1 1h0m26-31h0m0 5h0m14-13h0m7 3h0m295-3h0m11 1h0m18 6h0m3 6h0m50 9h0m3-6h0m4 1h0m11 3h0m2 6h0m20 5h0m11-11h0m52 5h0m-534 24h0m5-5h0m536 21h0m17-1h0m0 5h0m1 5h0m6-9h0m-590 44h0m10-18h0m2 15h0m603-10h0m3 4h0m10-14h0m4 0h0m11 5h0m-682 58h0m1 10h0m27-15h0m9-23h0m657 29h0m7-24h0m1-4h0m20 0h0m-731 65h0m13 7h0m631-23h0m21 25h0m3-21h0m8 4h0m7-11h0m-660 48h0m568 9h0m4 12h0m8-3h0m7-26h0m14-3h0m5 6h0m-612 30h0m11 6h0m0-6h0m8 13h0m17 19h0m339-5h0m5 5h0m18 3h0m66-24h0m1 15h0m8-9h0m3 3h0m4-1h0m24-5h0m1 0h0m20-2h0m9-11h0m-482 39h0m22 18h0m3 7h0m12 9h0m24-2h0m114 5h0m23-5h0m5-5h0m25 1h0m9-23h0m7 20h0m35-14h0m9-10h0m18 12h0m50-13h0m-298 50h0m5-10h0m4 0h0m21 19h0m12 5h0m8-5h0m13 9h0m27-13h0m7 5h0m8-12h0m6-3h0m10-5h0" stroke="#fff" stroke-width="9.0" stroke-linecap="round" fill="none"/>
<polygon points="628.6,91.9 632.1,87.2 642.6,80.2 649.5,72.1 656.5,67.4 670.5,66.3 686.7,68.6 703.0,73.3 714.7,79.1 726.3,87.2 733.3,95.3 735.6,103.5 726.3,105.8 712.3,108.1 698.4,110.5 684.4,110.5 672.8,111.6 663.5,115.1 654.2,118.6 642.6,118.6 637.9,110.5 633.3,101.2 629.8,95.3" fill="#ff7f0e"/>
<polygon points="628.6,91.9 632.1,87.2 642.6,80.2 649.5,72.1 656.5,67.4 670.5,66.3 686.7,68.6 703.0,73.3 714.7,79.1 726.3,87.2 733.3,95.3 735.6,103.5 726.3,105.8 712.3,108.1 698.4,110.5 684.4,110.5 672.8,111.6 663.5,115.1 654.2,118.6 642.6,118.6 637.9,110.5 633.3,101.2 629.8,95.3" fill="url(#pw)"/>
<path transform="scale(.1)" d="M6551 667h0m2 6h0m3-8h0m1 5h0m2 4h0m6 1h0m2-10h0m7 8h0m4-4h0m12-10h0m2 14h0m2-21h0m2 6h0m2 7h0m9-6h0m5 18h0m10-4h0m2-14h0m6 11h0m3-21h0m5 10h0m6 5h0m1 10h0m3 1h0m9-25h0m2 24h0m5 0h0m8-6h0m8 6h0m1-22h0m1 13h0m10-13h0m3 4h0m9 4h0m2 8h0m4 2h0m6 9h0m6-10h0m7-19h0m11 27h0m1-33h0m2 27h0m4-1h0m7 3h0m2 2h0m19 4h0m7-9h0m1-5h0m0 3h0m1 6h0m8 1h0m1-7h0m3-12h0m9 5h0m1 13h0m11-1h0m9-3h0m2 2h0m9 1h0m0 0h0m19 4h0m13-3h0m23 3h0m-407 38h0m21-5h0m7-3h0m8 8h0m8-34h0m4 25h0m2-12h0m1 10h0m2-17h0m0 2h0m13 13h0m2-11h0m0-1h0m21-2h0m27-4h0m9 3h0m3-1h0m16 4h0m3-8h0m0 6h0m23-5h0m47-3h0m21 1h0m22 0h0m36 0h0m14 16h0m13-11h0m0 3h0m13 4h0m2-11h0m4-2h0m2 16h0m0-13h0m23 9h0m5 0h0m15 10h0m1-21h0m5 9h0m9 3h0m4 4h0m0-11h0m8 6h0m10 2h0m0 12h0m3-4h0m2-11h0m7 0h0m8 14h0m8-10h0m1 8h0m4 9h0m8-11h0m4 14h0m4-9h0m4 4h0m0 2h0m0-3h0m6 3h0m4 5h0m5-8h0m1 0h0m6 4h0m2-3h0m3 2h0m19-4h0m3 11h0m17-5h0m0 4h0m7-6h0m-565 21h0m5 21h0m6-26h0m3 16h0m8-17h0m2-5h0m13-2h0m11 2h0m12-2h0m1 9h0m381-4h0m46-1h0m6 2h0m40 3h0m2 11h0m1-6h0m1 13h0m9-7h0m1-5h0m5 9h0m9-24h0m13 14h0m2 19h0m3-9h0m9 5h0m2 9h0m4-14h0m7 14h0m1-10h0m6 7h0m16 4h0m12-2h0m18-3h0m-722 37h0m19-3h0m6-1h0m4 6h0m5-21h0m0 27h0m3-12h0m0 12h0m3-9h0m0 6h0m4-32h0m4 13h0m1 2h0m1 5h0m7 5h0m2-13h0m0-1h0m12-3h0m592 12h0m7-23h0m5 13h0m0-14h0m13 5h0m0 1h0m4-6h0m5 0h0m0 7h0m5 0h0m4 14h0m4 4h0m1-9h0m2-2h0m3-13h0m3 17h0m8-1h0m15 3h0m0 8h0m3-8h0m0 1h0m0 12h0m1-23h0m4 22h0m7-14h0m6 18h0m35-10h0m-869 52h0m23-6h0m15 6h0m3-6h0m5-10h0m0 4h0m2-1h0m1-2h0m12 2h0m2-14h0m9 11h0m2-2h0m1-17h0m1 6h0m8-7h0m5 28h0m2-4h0m1-23h0m2 15h0m730 7h0m6 0h0m8-12h0m1 11h0m5-8h0m1 18h0m4-24h0m1 9h0m2 1h0m3-9h0m10 21h0m9-1h0m3-6h0m6-11h0m8 5h0m1 15h0m2 0h0m29-1h0m-949 40h0m12-6h0m6 12h0m19-9h0m7-24h0m2 24h0m3-30h0m0 17h0m1 0h0m4 9h0m4-15h0m0-11h0m1 14h0m1-2h0m5 9h0m16-21h0m0 14h0m15-10h0m804 0h0m6 15h0m1-18h0m11 14h0m3 2h0m5-14h0m4 14h0m4-5h0m10 14h0m2-3h0m2 15h0m3-20h0m4-2h0m0 15h0m1 2h0m0 4h0m-979 39h0m4-9h0m4-5h0m2-6h0m1 5h0m3 8h0m0 10h0m3-2h0m1-2h0m2-19h0m1 11h0m0-9h0m3 10h0m8-2h0m37-24h0m912-1h0m4 26h0m2-17h0m2-1h0m2-4h0m0 2h0m2 9h0m10 22h0m4-35h0m4 35h0m3-38h0m4 38h0m2 1h0m-1034 25h0m0-7h0m17 11h0m1-22h0m2 18h0m0 3h0m2-20h0m1-4h0m11 25h0m3 2h0m2-11h0m0 15h0m993-21h0m4 16h0m2-25h0m2 26h0m3-8h0m7-17h0m1 32h0m0-18h0m5-14h0m2 8h0m5 25h0m12-6h0m9-10h0m3 13h0m-1063 27h0m5 11h0m2-23h0m5 3h0m18 6h0m3 5h0m7-6h0m5 16h0m4-16h0m977-16h0m7 30h0m1-3h0m4 6h0m7-13h0m0 13h0m7-27h0m1 19h0m2 0h0m3-2h0m4-7h0m-1037 34h0m7 12h0m3-17h0m2 22h0m0 5h0m1-16h0m6 17h0m2-28h0m5 8h0m5 17h0m1-7h0m886 14h0m57-4h0m10-7h0m28-9h0m1 0h0m3-16h0m2-1h0m3 24h0m0-1h0m5-5h0m2 6h0m8 12h0m1-12h0m8-7h0m2 4h0m18 8h0m-1047 14h0m7 5h0m2-8h0m8 32h0m2-14h0m1-3h0m3-6h0m2-2h0m13 0h0m2 20h0m646 8h0m7 1h0m1-1h0m41-1h0m9 2h0m12-2h0m39-8h0m1 5h0m10-2h0m3 7h0m15 1h0m1-17h0m6-2h0m0 5h0m5 9h0m2-1h0m0-1h0m12-4h0m1 10h0m2-4h0m1 1h0m0-5h0m0-8h0m9-14h0m0 14h0m3 1h0m1-2h0m22 8h0m4-6h0m2 8h0m1 2h0m0-9h0m2-13h0m6 20h0m5-20h0m15-2h0m4 14h0m8-22h0m1 5h0m5 28h0m6-19h0m4-6h0m2 3h0m1-5h0m2 14h0m5-10h0m2 10h0m1-15h0m6-1h0m1 4h0m4-3h0m12-1h0m7 3h0m11-2h0m14-3h0m-1005 39h0m2 1h0m6 7h0m7 8h0m2 16h0m5-22h0m1 16h0m3-24h0m1 28h0m1-18h0m3 19h0m1-16h0m1-11h0m12 20h0m2 11h0m1 2h0m288-7h0m7 2h0m17 2h0m2-4h0m22-1h0m3 5h0m9-4h0m1 5h0m0-4h0m2-15h0m14 1h0m22 16h0m5-5h0m7-1h0m15-1h0m5 0h0m0 1h0m1-13h0m1 8h0m15 6h0m3-18h0m9 1h0m1 17h0m0-12h0m2 20h0m11-13h0m0-2h0m1 7h0m9-3h0m3-1h0m2-7h0m1 18h0m6-16h0m5 8h0m4-11h0m3-7h0m9 18h0m3-5h0m1-4h0m10 15h0m4-26h0m16 20h0m3 3h0m11-3h0m2-14h0m4 16h0m0-4h0m3-11h0m2 14h0m3 3h0m5 4h0m7-8h0m6-6h0m13-18h0m3 25h0m1 7h0m10-9h0m3-1h0m6-23h0m9 24h0m1-26h0m3 27h0m4 0h0m2-9h0m4-3h0m3 5h0m3-1h0m5-3h0m1 1h0m2 1h0m3 10h0m17-27h0m4 15h0m5 0h0m0-17h0m0 12h0m1-3h0m3 5h0m1-9h0m14-5h0m24 2h0m3 5h0m8 3h0m1 1h0m28 12h0m-791 25h0m18 3h0m1-1h0m3 22h0m4-10h0m2-15h0m1 2h0m1 29h0m0-8h0m2 5h0m171 0h0m35-13h0m0 10h0m4-14h0m2-2h0m2 14h0m0-6h0m2 2h0m12 7h0m0-23h0m0 27h0m1-12h0m1-7h0m5 15h0m12-25h0m3 5h0m6 17h0m1-14h0m12-3h0m1-11h0m1 14h0m1-13h0m8 3h0m1 11h0m0 11h0m1-25h0m6 2h0m5-3h0m8 28h0m13-19h0m5-4h0m4-8h0m3 1h0m9 4h0m1-5h0m13 5h0m1 9h0m2-9h0m7 0h0m6-2h0m18 5h0m2-7h0m12 0h0m58 1h0m13 9h0m1-2h0m5-4h0m86-1h0m21-3h0m56-1h0m-655 63h0m10-20h0m4 3h0m1 11h0m6-11h0m2 19h0m4-2h0m7-7h0m3-6h0m1-2h0m2 19h0m2 3h0m4-13h0m2-2h0m6-4h0m23 17h0m2 9h0m5-11h0m12-3h0m4-9h0m3 11h0m1-22h0m5 23h0m1-8h0m7 3h0m6-3h0m1 12h0m3-6h0m1 8h0m1 0h0m14-18h0m3 25h0m9-7h0m5-32h0m3 11h0m2 7h0m3-7h0m0 16h0m3-27h0m1 17h0m5 12h0m3-11h0m5-8h0m16-3h0m4 2h0m7-5h0m12 2h0m11-1h0m2 11h0m-211 26h0m38-2h0m9 2h0m2 10h0m17-12h0m27 2h0m23 0h0" stroke="#ff7f0e" stroke-width="12.0" stroke-linecap="round" fill="none"/>
<path transform="scale(.1)" d="M6547 677h0m8 1h0m1 0h0m19-6h0m18 1h0m5 6h0m45-27h0m24 16h0m21-1h0m3-6h0m7 4h0m8-3h0m29 15h0m1-14h0m12 16h0m26 0h0m22-8h0m15-6h0m47 13h0m5-4h0m-361 24h0m2 21h0m19-13h0m92-22h0m165 6h0m78-2h0m8-4h0m1 8h0m4 4h0m22-3h0m24 10h0m5 3h0m10-8h0m7-6h0m0 22h0m10-11h0m7 7h0m11-5h0m-506 30h0m1 16h0m9 8h0m8-1h0m22-29h0m513 2h0m34 23h0m27 4h0m6-2h0m-613 11h0m8-2h0m611 6h0m5-11h0m8 1h0m3 22h0m10-14h0m20 6h0m14 18h0m-748 27h0m1 3h0m4-18h0m23-1h0m13 1h0m717-2h0m39 34h0m4-3h0m4-5h0m1 4h0m-891 42h0m7-2h0m19-4h0m4 1h0m3-8h0m10-20h0m863 4h0m3 7h0m19 0h0m9 7h0m28 14h0m-998 40h0m19-27h0m2 7h0m959-11h0m12 2h0m16 27h0m9 3h0m5-16h0m-1022 33h0m10 16h0m1 5h0m7-13h0m1031-10h0m16 23h0m-1040 28h0m7 1h0m2 7h0m9 4h0m1010-31h0m2 17h0m4 10h0m1-24h0m-1002 51h0m6-12h0m978 34h0m25-34h0m5 14h0m-1016 25h0m29 28h0m11 1h0m741 3h0m6 3h0m12-6h0m28-3h0m13 6h0m20-4h0m40 0h0m18-24h0m6 16h0m1-13h0m13 1h0m3 4h0m17-7h0m27-5h0m27-2h0m-1002 70h0m20-1h0m15-21h0m1 26h0m316 4h0m31-8h0m2 0h0m23 0h0m11 3h0m11-14h0m15 17h0m4-9h0m25-10h0m47 4h0m3-7h0m16 8h0m19 0h0m22-4h0m0 9h0m22 3h0m16-11h0m1 12h0m5-6h0m22-17h0m2 10h0m4-2h0m9-2h0m12 17h0m53-20h0m2-5h0m6 1h0m23-4h0m30-3h0m3 3h0m-758 50h0m16 2h0m4 4h0m44 10h0m168 1h0m18-8h0m0 6h0m7 5h0m3-4h0m35-9h0m34-19h0m4 4h0m36-1h0m-321 57h0m19-3h0m14 13h0m12-15h0m23 3h0m1 3h0m4 3h0m12-5h0m42 1h0m6 14h0m61-34h0m1-1h0" stroke="#fff" stroke-width="9.0" stroke-linecap="round" fill="none"/>
<polygon points="630.9,136.0 640.2,129.1 647.2,122.1 656.5,118.6 668.1,114.0 684.4,110.5 703.0,109.3 719.3,107.0 735.6,104.7 742.6,110.5 749.5,119.8 758.8,131.4 765.3,138.4 763.5,145.3 754.2,153.5 740.2,160.5 726.3,165.1 710.0,168.6 691.4,168.6 677.4,164.0 663.5,159.3 654.2,152.3 644.9,143.0 633.3,139.5" fill="#d62728"/>
<polygon points="630.9,136.0 640.2,129.1 647.2,122.1 656.5,118.6 668.1,114.0 684.4,110.5 703.0,109.3 719.3,107.0 735.6,104.7 742.6,110.5 749.5,119.8 758.8,131.4 765.3,138.4 763.5,145.3 754.2,153.5 740.2,160.5 726.3,165.1 710.0,168.6 691.4,168.6 677.4,164.0 663.5,159.3 654.2,152.3 644.9,143.0 633.3,139.5" fill="url(#pw)"/>
<path transform="scale(.1)" d="M7333 1037h0m17-1h0m-400 35h0m57 6h0m6-1h0m35-5h0m14-8h0m0 9h0m26 0h0m3-17h0m0 21h0m16 1h0m3-6h0m19 7h0m3 1h0m3-10h0m4-8h0m0 18h0m21-34h0m2 26h0m11 8h0m4-19h0m1 18h0m1-16h0m2 10h0m6 3h0m14-26h0m1 28h0m8-3h0m4-24h0m2 21h0m0 6h0m2-11h0m1 9h0m31-19h0m2-13h0m7 21h0m0 9h0m1-2h0m1 2h0m4-10h0m2-14h0m7-4h0m4 3h0m1 19h0m4-18h0m0 10h0m12 6h0m16-15h0m3 6h0m1-1h0m4 5h0m0-7h0m9 12h0m0-6h0m8-15h0m0 5h0m3 17h0m8-4h0m2-13h0m1 4h0m1-8h0m1 14h0m12-11h0m2 26h0m4 3h0m7-5h0m1-4h0m5-10h0m12 13h0m-694 41h0m42-5h0m1 12h0m15 0h0m2-4h0m9 2h0m9 2h0m7-4h0m4-12h0m1 12h0m7-12h0m4 8h0m0-12h0m2 12h0m11-8h0m1 2h0m3 6h0m18-5h0m3 2h0m2-1h0m5-2h0m2 9h0m10-29h0m3 8h0m7 3h0m0 14h0m6-18h0m0 17h0m5-16h0m5 17h0m6-8h0m2-4h0m2 21h0m4-10h0m1-15h0m7 7h0m3-18h0m2 22h0m4-11h0m6 10h0m1-22h0m0 18h0m6-6h0m2-6h0m2 9h0m1 2h0m2-3h0m25-1h0m0 4h0m3 4h0m2-3h0m2-5h0m1-2h0m6 13h0m8-16h0m3 29h0m3-19h0m2-11h0m3 3h0m1 3h0m11-2h0m1-2h0m5-7h0m18-3h0m0 20h0m11-16h0m4 6h0m2 27h0m0-20h0m5-5h0m4 2h0m2-14h0m1 15h0m8-8h0m8 14h0m2-18h0m14 13h0m11-13h0m2-2h0m14 15h0m8-17h0m2 8h0m1 7h0m17-3h0m2-5h0m26-3h0m30 4h0m3-4h0m24-2h0m93 4h0m78 2h0m2 11h0m2-4h0m0 13h0m4-5h0m3-13h0m3-2h0m0 21h0m1-20h0m2 12h0m1-5h0m1-1h0m2 1h0m0 22h0m1-11h0m3 1h0m1-3h0m1-12h0m0 21h0m4-24h0m0 15h0m7 3h0m4 8h0m1-7h0m-855 50h0m15-22h0m6 11h0m0-6h0m2 2h0m1 13h0m7-1h0m17-11h0m6-16h0m7 17h0m10 4h0m13-21h0m7 15h0m5-4h0m3-4h0m12-4h0m0-8h0m2 15h0m0 2h0m1-7h0m1 1h0m5 7h0m2-14h0m17-5h0m12 1h0m1 5h0m14-9h0m2 21h0m5-10h0m6-7h0m0 2h0m12-4h0m4 1h0m6 6h0m8 0h0m14 0h0m208-9h0m405 7h0m11 2h0m4-7h0m2 5h0m7-6h0m1 11h0m10 22h0m10-17h0m4-10h0m-940 61h0m7 1h0m3-2h0m2-2h0m0 7h0m0-2h0m12-8h0m14-12h0m7 12h0m4 4h0m2-18h0m1 29h0m6-18h0m6-5h0m4-6h0m2 22h0m4-6h0m1 10h0m4-20h0m2-2h0m4-3h0m3-2h0m7 9h0m8-9h0m3-6h0m3 17h0m4-15h0m23 7h0m776 0h0m6-10h0m2 2h0m5 8h0m3 8h0m7-8h0m4-5h0m7 24h0m6-4h0m0 11h0m2-11h0m9 12h0m3-15h0m-1064 38h0m6 18h0m9-11h0m2 6h0m1-5h0m17-6h0m2-3h0m1 18h0m0-31h0m2 32h0m2-20h0m5 1h0m1-5h0m2-14h0m2 33h0m0-12h0m2-3h0m6-14h0m3 11h0m8-14h0m7 5h0m2-4h0m6 3h0m32-5h0m938 13h0m6 0h0m4-5h0m6 4h0m1 23h0m2-35h0m0 18h0m0-7h0m1-4h0m1 32h0m4-8h0m3-31h0m13 39h0m8 0h0m3 0h0m-1127 18h0m4 10h0m1-12h0m1 12h0m0-11h0m6-8h0m0 18h0m7-18h0m1 18h0m5-26h0m7 0h0m4 6h0m1-1h0m9 3h0m12-8h0m1036 2h0m6 4h0m5 5h0m4-5h0m7 19h0m6-21h0m3 8h0m1 0h0m1 8h0m2-17h0m3 19h0m12 9h0m15-2h0m6 9h0m-1280 35h0m57 4h0m8 2h0m7-24h0m5 14h0m1-6h0m4 5h0m15-22h0m3 13h0m1 10h0m2-20h0m3 0h0m5 2h0m19-4h0m1104 11h0m24-4h0m8-13h0m4 6h0m2 2h0m3-1h0m6 28h0m4-30h0m1 26h0m26-5h0m-1294 45h0m0-11h0m6 17h0m1-12h0m7 3h0m2-10h0m5-10h0m6 17h0m1-7h0m4-17h0m3-2h0m6 6h0m0-3h0m2 5h0m4-6h0m0 29h0m3-18h0m1209-10h0m8 20h0m6-3h0m5-18h0m9 0h0m5 17h0m2-7h0m1 5h0m12 9h0m2 13h0m3-2h0m11 2h0m5-7h0m10 6h0m3-2h0m1-2h0m-1359 13h0m3-3h0m6-1h0m1-1h0m5 4h0m0 11h0m2-8h0m1 27h0m0-28h0m1-3h0m1 13h0m4 6h0m7-2h0m4-16h0m7 24h0m4 9h0m8-22h0m31 18h0m1226-34h0m9 6h0m15 27h0m1-10h0m0-23h0m6 1h0m2 33h0m0 1h0m12-4h0m9-8h0m-1344 16h0m16 2h0m1 8h0m2-5h0m2-3h0m1 2h0m6 12h0m2-13h0m7 1h0m16-3h0m0 27h0m2 1h0m14-20h0m9 24h0m4-10h0m8-5h0m2-1h0m0 12h0m6-16h0m8 15h0m4-5h0m0 5h0m0-7h0m6 11h0m1 2h0m14-4h0m4 7h0m12-13h0m6 9h0m1147-5h0m6 5h0m2-3h0m0-15h0m1 17h0m3-11h0m2 17h0m4-27h0m2 11h0m3-22h0m0 36h0m6-33h0m8 9h0m1-4h0m-1254 34h0m12 3h0m30 10h0m6-2h0m0 8h0m0-5h0m14-1h0m9-13h0m5-2h0m8 30h0m11 8h0m1-16h0m2 16h0m1-9h0m5 1h0m1093-6h0m13 11h0m3-27h0m1 31h0m5-37h0m5 13h0m3 21h0m6-6h0m0-4h0m5-13h0m2-13h0m10 14h0m-1175 37h0m15-3h0m8-5h0m1 6h0m6 3h0m2 6h0m1 2h0m5 0h0m4 8h0m2 3h0m0 3h0m1 0h0m0-3h0m11-3h0m4 5h0m2 5h0m5-29h0m1019 22h0m0 5h0m3-25h0m1 13h0m5-13h0m1-2h0m2 21h0m0-10h0m7 12h0m21-13h0m7-11h0m1 0h0m11 0h0m2-5h0m-1107 37h0m18 4h0m15 12h0m7 14h0m4-6h0m1 11h0m0-17h0m0-14h0m6 12h0m2 19h0m8-2h0m1 6h0m13-3h0m0-5h0m1-6h0m860 7h0m10-6h0m8 5h0m31-5h0m1 12h0m2-17h0m3 14h0m9 1h0m8-26h0m1 6h0m12-16h0m1 11h0m1-9h0m1 26h0m1-22h0m6-2h0m1 20h0m20-23h0m-985 39h0m3 1h0m10 19h0m0 0h0m2-14h0m2 3h0m4 11h0m2 17h0m3-27h0m0 20h0m5-12h0m4 19h0m7-25h0m2 8h0m5 2h0m2-3h0m2 15h0m1-3h0m11 6h0m1-6h0m766-7h0m1-11h0m6 2h0m4 13h0m1 7h0m5-1h0m6-3h0m2-5h0m0 13h0m8-6h0m1-21h0m0 0h0m1 7h0m4-2h0m6 0h0m3 6h0m0-8h0m11 2h0m12-14h0m1 4h0m1-5h0m2 6h0m6 2h0m1-8h0m15 5h0m-915 45h0m14-6h0m36 11h0m5-14h0m5 19h0m4-22h0m8 4h0m0 11h0m9 9h0m3-16h0m5 4h0m4 3h0m2-2h0m3-5h0m3 18h0m2-22h0m3 6h0m0 26h0m7-15h0m2-21h0m0 32h0m28 4h0m14-14h0m4 6h0m1-13h0m6 23h0m0-12h0m2 6h0m1 4h0m24 0h0m3 0h0m6 3h0m418-3h0m15 2h0m1-2h0m32-1h0m13-10h0m7 13h0m11-13h0m0-2h0m8 10h0m4-6h0m4-9h0m16 11h0m5 6h0m3-22h0m0 24h0m4-14h0m0 9h0m1-22h0m4 12h0m5 3h0m4-13h0m10 10h0m3-13h0m13-9h0m1 26h0m2-19h0m5 5h0m2-6h0m1 8h0m7 16h0m5-19h0m1 5h0m11 2h0m6-15h0m-717 42h0m0 14h0m36-1h0m4-12h0m7-5h0m2 3h0m4 3h0m1-7h0m13 11h0m18 17h0m10-2h0m2-19h0m1-6h0m2 3h0m3 5h0m2 0h0m0 12h0m1 10h0m9-25h0m1 9h0m0 13h0m1-2h0m12-15h0m1 25h0m1-3h0m1-5h0m6-3h0m8 7h0m2-4h0m9-4h0m16 5h0m14 10h0m14-16h0m4 11h0m7-2h0m19-2h0m54 3h0m35 3h0m7-19h0m19 17h0m1 5h0m25-3h0m1-9h0m1 6h0m2 6h0m11-6h0m4 1h0m42-4h0m0 9h0m0-16h0m4 8h0m3-3h0m17-4h0m1-7h0m7 20h0m11-3h0m2 5h0m1-27h0m0 13h0m6-5h0m7 17h0m3-13h0m5-4h0m4-11h0m0 11h0m10-3h0m6 8h0m9-7h0m3 4h0m5-8h0m6 7h0m1-13h0m0 13h0m2 1h0m2-15h0m1-2h0m0-3h0m0 17h0m3 2h0m9-13h0m2 12h0m1-10h0m1-3h0m3-4h0m1 19h0m0-14h0m1 3h0m7-11h0m1 25h0m24-21h0m26-1h0m-490 39h0m24 2h0m5 10h0m0-3h0m7-11h0m6 4h0m0-1h0m22 13h0m2-10h0m2-6h0m9 1h0m6 17h0m1-1h0m1 0h0m6 2h0m1-2h0m1-9h0m1 6h0m3-7h0m7 8h0m16 5h0m3 2h0m11-5h0m1-11h0m2 4h0m2-10h0m6 12h0m3-6h0m8 1h0m3 23h0m13-24h0m5 7h0m4 17h0m3-9h0m5-16h0m1-5h0m8 7h0m10 0h0m10-5h0m9 1h0m8 5h0m8 1h0m1-6h0m14 9h0m2-12h0m22 12h0m22-10h0m10 2h0m23 4h0m1-3h0m46 0h0" stroke="#d62728" stroke-width="12.0" stroke-linecap="round" fill="none"/>
<path transform="scale(.1)" d="M7088 1079h0m4-4h0m20 3h0m45-11h0m14 7h0m34-7h0m4 4h0m8-12h0m6 1h0m14 11h0m22-24h0m14 16h0m0-14h0m14 16h0m9-8h0m4-5h0m37 1h0m44 5h0m3 6h0m1 4h0m15-4h0m-628 55h0m6-7h0m5 7h0m14-8h0m9 3h0m35-12h0m8-7h0m19 14h0m10-9h0m13-7h0m1 1h0m24 3h0m14-6h0m3-4h0m6 17h0m8-5h0m16-1h0m56-3h0m12-8h0m20 15h0m23-6h0m4 2h0m29-16h0m5 0h0m77-1h0m194-1h0m18 4h0m42 33h0m1-3h0m-793 27h0m7 1h0m8 6h0m18-3h0m40-12h0m16-7h0m29 5h0m21-4h0m11 9h0m637-7h0m4-3h0m19 28h0m-963 41h0m89-20h0m2 3h0m3-12h0m5 11h0m41-17h0m841 38h0m7-24h0m0 18h0m8-9h0m1 0h0m5 7h0m-1047 43h0m2-5h0m14-9h0m5-5h0m4 3h0m22-1h0m7-1h0m12-8h0m32-4h0m955 12h0m2 4h0m10-2h0m-1106 60h0m5-15h0m18-13h0m5-8h0m1097-1h0m5 35h0m-1205 37h0m52-4h0m7-24h0m1180 14h0m1-5h0m9 23h0m3-17h0m21 19h0m-1295 38h0m9-15h0m0 3h0m10-12h0m23 2h0m29-12h0m1212 2h0m9 13h0m1-13h0m4 23h0m-1296 40h0m6-23h0m4 18h0m1324 7h0m1 0h0m4 0h0m1-11h0m-1304 23h0m41 8h0m7 16h0m16-2h0m10-11h0m0 19h0m15-10h0m10 7h0m1 4h0m5 1h0m1187-19h0m2-12h0m0 29h0m-1185 16h0m7 21h0m12 1h0m0-8h0m1126-7h0m7 18h0m11-10h0m-1107 42h0m4-22h0m6 22h0m1025 15h0m13-8h0m10-11h0m35-8h0m-1069 35h0m34 25h0m2-6h0m7 10h0m910-5h0m19 2h0m5-8h0m24-24h0m3 5h0m-935 43h0m10 17h0m9 5h0m7 6h0m5-5h0m17 1h0m773-7h0m3-1h0m30-9h0m6-15h0m9 5h0m-805 47h0m12 1h0m1-6h0m42 16h0m3 0h0m18 2h0m5 2h0m554 0h0m2 5h0m15-1h0m7-13h0m14 0h0m7-7h0m1 14h0m11-15h0m32-6h0m8 10h0m9-9h0m-693 37h0m67-1h0m25 10h0m0 0h0m14 10h0m9 2h0m27-6h0m133 17h0m86 3h0m43-14h0m8 15h0m24-6h0m29-11h0m5-1h0m23 4h0m0-10h0m22 4h0m17-9h0m6 2h0m17-3h0m2-7h0m-418 45h0m11-6h0m11 4h0m19 5h0m7-3h0m24-4h0m6 9h0m30-4h0m35-8h0m5 16h0m17-10h0m8-4h0m42 0h0m23 9h0m9-5h0m13 3h0m8-1h0m2 0h0" stroke="#fff" stroke-width="9.0" stroke-linecap="round" fill="none"/>
<polygon points="570.9,204.2 574.4,207.6 583.0,209.1 588.8,216.3 600.3,224.9 617.5,228.3 631.9,223.4 643.4,214.8 646.3,206.2 637.6,199.0 627.6,196.1 617.5,191.8 611.8,188.9 603.1,196.1 591.6,201.9 583.0,204.2 575.8,201.9" fill="#8c564b"/>
<polygon points="570.9,204.2 574.4,207.6 583.0,209.1 588.8,216.3 600.3,224.9 617.5,228.3 631.9,223.4 643.4,214.8 646.3,206.2 637.6,199.0 627.6,196.1 617.5,191.8 611.8,188.9 603.1,196.1 591.6,201.9 583.0,204.2 575.8,201.9" fill="url(#pw)"/>
<path transform="scale(.1)" d="M6073 1909h0m10 0h0m5 0h0m3 8h0m0-5h0m2 7h0m3-2h0m5-19h0m2 3h0m0 11h0m1-28h0m5 13h0m4-10h0m1 19h0m3-26h0m2 18h0m6 2h0m6-17h0m3 10h0m2-4h0m3 20h0m5-20h0m4 10h0m0 13h0m13-11h0m4 13h0m6 1h0m3-14h0m15 12h0m1-15h0m0 15h0m-165 46h0m2-14h0m0-4h0m4 12h0m11 0h0m2 0h0m1-14h0m9-8h0m3 16h0m1 12h0m1-30h0m10-1h0m1 8h0m6-6h0m3-5h0m43 0h0m24-3h0m5 4h0m8-4h0m23 2h0m0-4h0m12 34h0m2-15h0m2-12h0m1 15h0m4-19h0m3-2h0m23 8h0m5-6h0m13 36h0m11-5h0m0-8h0m0 2h0m1-1h0m1-2h0m0 8h0m9 2h0m2-6h0m8 1h0m2 7h0m23 2h0m5-11h0m9 11h0m23-2h0m-423 40h0m33-6h0m17-2h0m5 4h0m1 5h0m0-4h0m1-18h0m1 10h0m0 11h0m1 2h0m2-22h0m4 3h0m0 2h0m3 5h0m2-24h0m6 20h0m1-11h0m15 8h0m2-18h0m3 5h0m3 24h0m8-28h0m9 0h0m4-3h0m219 6h0m2-2h0m1 13h0m12-15h0m1 4h0m5-1h0m3 9h0m0-10h0m6-4h0m1 11h0m12-8h0m3-1h0m6 1h0m1 14h0m8-8h0m1 15h0m15-18h0m0 13h0m5 11h0m9-11h0m1 17h0m3-6h0m1-14h0m8 5h0m6 8h0m1-8h0m10 1h0m5 17h0m2-11h0m6 11h0m2-2h0m24-2h0m-701 40h0m6-8h0m2 2h0m8-6h0m6 8h0m1-1h0m4 3h0m0-14h0m12-10h0m0 24h0m8-3h0m0-28h0m9 17h0m0 4h0m8 6h0m1-7h0m6-3h0m8 19h0m2-2h0m16-8h0m3-12h0m5 21h0m11 0h0m2-3h0m3-8h0m2 9h0m28 2h0m7-20h0m5-4h0m0 10h0m5 6h0m0 5h0m1-14h0m3 18h0m3-31h0m1 16h0m3 15h0m5 0h0m1-23h0m1 17h0m10 7h0m3-19h0m5-2h0m9-13h0m9 2h0m3 6h0m1-11h0m3 2h0m5 3h0m433-3h0m6-4h0m4 27h0m1-26h0m7 10h0m2 1h0m8 13h0m3-8h0m4 7h0m9 0h0m5 2h0m3 6h0m1 3h0m2 1h0m-739 17h0m11 19h0m1-25h0m0-2h0m6 8h0m2 3h0m3 6h0m0-8h0m2-6h0m0 2h0m1-6h0m2 10h0m0 16h0m0-27h0m7 24h0m4-26h0m2 32h0m8-9h0m1-3h0m16 14h0m5-22h0m1 20h0m5 6h0m7-2h0m0 0h0m1-37h0m12 30h0m10-22h0m1 2h0m4-4h0m4 16h0m12-16h0m3 0h0m3-3h0m2 8h0m23-8h0m575 1h0m1 11h0m8-3h0m4-5h0m2 21h0m7-26h0m3 23h0m0-16h0m3-1h0m1 17h0m0-24h0m2 32h0m1-13h0m0 12h0m3-17h0m2-1h0m1-8h0m4-3h0m5 6h0m-730 31h0m18 7h0m7 5h0m2-8h0m1 11h0m1-2h0m14 3h0m1 19h0m3-27h0m21-2h0m4 10h0m2 4h0m1-1h0m0 0h0m2 4h0m0-13h0m1 4h0m6 6h0m6-8h0m17 0h0m569 23h0m11-3h0m10 7h0m1-23h0m0-7h0m0 17h0m5 5h0m-619 14h0m0-3h0m9 19h0m2 3h0m1-24h0m1 10h0m2-2h0m0-4h0m2 24h0m5 3h0m1-23h0m7 22h0m4-14h0m1 17h0m3-27h0m0 31h0m9-12h0m8 5h0m6 9h0m6-4h0m490 1h0m19-3h0m5 6h0m4-21h0m4 7h0m8-12h0m1 1h0m4-7h0m3 12h0m5 10h0m2-8h0m3-6h0m0-15h0m7 26h0m3-10h0m-585 24h0m17 18h0m3-11h0m4 14h0m2-16h0m2 30h0m1-30h0m7 3h0m1 17h0m1 0h0m1 0h0m2 5h0m21 7h0m3-4h0m27 2h0m399-19h0m9 22h0m2-10h0m4-6h0m3 1h0m11 7h0m5-6h0m3 10h0m0-17h0m6-16h0m6 3h0m15 1h0m-523 40h0m20 4h0m0-3h0m7-5h0m9 0h0m1 5h0m3 4h0m4-8h0m8 11h0m2 22h0m8-24h0m4 13h0m12 3h0m4 3h0m3 1h0m1 8h0m258-14h0m39 6h0m14 4h0m3 4h0m4-2h0m2-17h0m4 7h0m6 9h0m1-9h0m1-9h0m4 5h0m2 4h0m1-17h0m7 8h0m0-5h0m3-2h0m0 8h0m1 3h0m5-10h0m1-7h0m8 2h0m-368 47h0m5-6h0m7 3h0m3-6h0m2 7h0m8 2h0m2 0h0m0-10h0m4 7h0m0 16h0m12-23h0m8 4h0m6 24h0m1-29h0m0 18h0m0 15h0m1-28h0m4 4h0m1-4h0m6 16h0m6-10h0m6 7h0m2 12h0m1-7h0m3-16h0m6 26h0m0-16h0m5-3h0m1 1h0m2-5h0m7 22h0m6-22h0m7 21h0m5-4h0m6-14h0m0 12h0m0 10h0m3-7h0m11 2h0m4-12h0m50 14h0m13 2h0m2-27h0m2 24h0m16-11h0m2-2h0m7-14h0m3 10h0m2 7h0m2 5h0m0-4h0m8 2h0m3-2h0m3-2h0m3-15h0m0 24h0m2-8h0m7 7h0m2-27h0m6 8h0m7 7h0m10-19h0m9 3h0m1 7h0m0 2h0m2-11h0m1 2h0m7-2h0m3 21h0m3 4h0m3-18h0m3-8h0m5 3h0m-250 40h0m16-2h0m1 2h0m26-3h0m14 9h0m1 10h0m9-18h0m6 16h0m6-14h0m6-3h0m3 0h0m13 7h0m4-2h0m5 18h0m17-23h0m4 1h0m9 19h0" stroke="#8c564b" stroke-width="12.0" stroke-linecap="round" fill="none"/>
<path transform="scale(.1)" d="M6103 1893h0m8 14h0m4-1h0m18-17h0m32 11h0m5 17h0m-147 39h0m3 2h0m39-35h0m3-1h0m158 25h0m2-8h0m1 8h0m6-7h0m2 0h0m9-4h0m58 21h0m-347 41h0m13-21h0m15-3h0m4 8h0m3 1h0m26-5h0m16-17h0m0 9h0m225-9h0m36 6h0m25 12h0m9 1h0m23 8h0m9 7h0m1-5h0m27 1h0m-638 39h0m2-9h0m2 6h0m7-6h0m25 1h0m2 4h0m1 1h0m9 4h0m6 8h0m35-8h0m20 3h0m12-9h0m4-6h0m19 9h0m3 4h0m37-20h0m11-5h0m3 2h0m424-9h0m64 36h0m-727 21h0m6-1h0m7 0h0m16-7h0m12 30h0m28-9h0m13 8h0m29-25h0m609 11h0m3-11h0m9-2h0m22 5h0m1-6h0m7 13h0m-702 37h0m35-9h0m23-1h0m1-3h0m17 4h0m591-3h0m5 28h0m12-16h0m11-10h0m-612 50h0m12 4h0m1-17h0m9 24h0m1-23h0m549 23h0m1 5h0m1-26h0m-528 44h0m24 6h0m14 5h0m4 1h0m413 9h0m8 4h0m10-19h0m0 6h0m37-3h0m0-15h0m-494 38h0m21 1h0m16 4h0m18 12h0m20 7h0m11 9h0m328-16h0m8 12h0m-327 12h0m14 4h0m23 12h0m25 1h0m17-2h0m51 4h0m26 11h0m39-6h0m4-6h0m50-10h0m0 2h0m10-9h0m6 11h0m2-6h0m5-5h0m2 1h0m3-5h0m-149 36h0m14 4h0m0 10h0m10-6h0m6-3h0" stroke="#fff" stroke-width="9.0" stroke-linecap="round" fill="none"/>
<polygon points="708.1,210.5 715.3,213.4 726.8,211.9 736.8,206.2 735.4,201.9 726.8,199.0 718.1,197.6 712.4,203.3" fill="#7f7f7f"/>
<polygon points="708.1,210.5 715.3,213.4 726.8,211.9 736.8,206.2 735.4,201.9 726.8,199.0 718.1,197.6 712.4,203.3" fill="url(#pw)"/>
<path transform="scale(.1)" d="M7223 1952h0m-74 42h0m4 2h0m5-24h0m0 14h0m0 9h0m1-8h0m6 0h0m13-26h0m10 8h0m1 4h0m10 6h0m2 6h0m0 1h0m3-12h0m12 14h0m2 2h0m3-14h0m3 2h0m5 6h0m2 11h0m5-15h0m5 5h0m0-11h0m3 10h0m4-8h0m1 16h0m0-3h0m4-18h0m3 2h0m8 21h0m9-7h0m2 5h0m5-13h0m3 10h0m1-1h0m5 3h0m3-10h0m5-6h0m2 18h0m9-1h0m1 3h0m30 4h0m20-5h0m-261 23h0m3-14h0m9 1h0m3 8h0m5-3h0m6 15h0m13-19h0m5 23h0m9 7h0m11-7h0m9-25h0m1 6h0m3-9h0m26 2h0m67 8h0m24-7h0m22 12h0m2-13h0m1 18h0m7-9h0m2 10h0m5-9h0m10 4h0m1-4h0m1-12h0m3 24h0m0-14h0m1 14h0m5 12h0m2-21h0m1 10h0m1-1h0m-261 36h0m4 3h0m2 0h0m1-7h0m1 16h0m2 1h0m2-24h0m6 6h0m0 19h0m0 2h0m4-24h0m5 1h0m3-3h0m194 9h0m24 10h0m5 9h0m3-15h0m3 16h0m1-10h0m0-4h0m5 10h0m0 4h0m0-14h0m2-15h0m0-9h0m2 17h0m1 20h0m2-17h0m3-17h0m7 14h0m2-8h0m1 18h0m-304 38h0m10-4h0m5 7h0m6-29h0m1 6h0m1 15h0m1-21h0m1 24h0m3-24h0m1 33h0m1 5h0m1-30h0m10-1h0m6 32h0m2-5h0m16-10h0m41 9h0m6 5h0m39-1h0m6 2h0m3-1h0m17 1h0m0-5h0m14-5h0m2-18h0m2 18h0m1 1h0m3-5h0m6-12h0m2 7h0m5-11h0m1 19h0m9-21h0m0 4h0m2-6h0m3 23h0m1-20h0m4 7h0m23-5h0m-249 37h0m6 0h0m25 1h0m10-7h0m0 5h0m14 14h0m1-11h0m2-2h0m2 4h0m3 5h0m2-13h0m0 16h0m17-4h0m1 3h0m4-4h0m6-4h0m4 29h0m0-23h0m14 0h0m2-5h0m11-11h0m5 5h0m1 5h0m10-2h0m1-7h0m4 12h0m3-3h0m1 12h0m1 0h0m9-21h0m3 1h0m4 10h0m15 24h0m3-33h0m3-3h0m13 4h0" stroke="#7f7f7f" stroke-width="12.0" stroke-linecap="round" fill="none"/>
<path transform="scale(.1)" d="M7168 1997h0m6-2h0m0-10h0m10-21h0m16 7h0m22 7h0m28 6h0m2 1h0m0 11h0m12-15h0m4 6h0m40 7h0m-186 32h0m1 6h0m187-20h0m15-5h0m0 11h0m7-10h0m6 16h0m17 15h0m2-17h0m11-6h0m-260 41h0m10-5h0m14-11h0m160 38h0m41 0h0m35-28h0m-283 65h0m2-30h0m2 6h0m1-9h0m3 13h0m3 14h0m1 1h0m41 1h0m56-2h0m29 6h0m48 2h0m42-18h0m5 0h0m2-9h0m6 7h0m15-11h0m-217 42h0m14-7h0m12 10h0m12 6h0m10-6h0m16 8h0m7-5h0m21-5h0m26-7h0" stroke="#fff" stroke-width="9.0" stroke-linecap="round" fill="none"/>
<polygon points="543.7,60.4 547.1,63.1 555.3,61.7 564.8,59.7 571.6,57.0 581.1,54.7 571.6,54.9 566.1,52.9 558.0,50.9 552.6,50.2 546.5,52.9 544.4,57.0" fill="#bcbd22"/>
<polygon points="543.7,60.4 547.1,63.1 555.3,61.7 564.8,59.7 571.6,57.0 581.1,54.7 571.6,54.9 566.1,52.9 558.0,50.9 552.6,50.2 546.5,52.9 544.4,57.0" fill="url(#pw)"/>
<path transform="scale(.1)" d="M5484 512h0m7-6h0m7 5h0m4 2h0m1-2h0m6-7h0m14 5h0m1 1h0m3-10h0m19 1h0m5 0h0m0 3h0m6 9h0m4 0h0m2-6h0m1 6h0m6-33h0m1 30h0m3 4h0m3-2h0m7-13h0m1-5h0m9 6h0m4 7h0m0-5h0m4 5h0m1 10h0m14-13h0m2 12h0m4-6h0m5 7h0m3-5h0m3 4h0m16-2h0m-223 33h0m18 1h0m7-7h0m2 17h0m7-22h0m0 15h0m1-1h0m1-26h0m5 14h0m2 4h0m3-15h0m8-4h0m3 18h0m4-1h0m2-3h0m5-14h0m1 18h0m13-20h0m33-1h0m26 9h0m11-6h0m12 7h0m1 1h0m43 11h0m0 2h0m20-21h0m2 1h0m3 7h0m1 6h0m11-15h0m0 2h0m7 19h0m2-9h0m1-5h0m8 3h0m3 23h0m6-17h0m4 15h0m3-2h0m2-5h0m0-17h0m0 13h0m5 14h0m0-12h0m2 1h0m4 2h0m1 9h0m6-9h0m5 8h0m5-4h0m9-4h0m3 6h0m2-11h0m8 2h0m1 10h0m0-7h0m2 3h0m0 2h0m0-2h0m3-10h0m2 18h0m1-4h0m0-9h0m1-3h0m5 6h0m4 3h0m2-4h0m7 6h0m4-9h0m0-10h0m1 2h0m0 20h0m4-13h0m0 8h0m2-22h0m2 19h0m2 9h0m0-10h0m7-5h0m4 7h0m6-10h0m1 6h0m-395 22h0m12 19h0m1-11h0m0 14h0m1-8h0m1-9h0m1 2h0m13 22h0m10-35h0m53 37h0m41 0h0m17-5h0m13 1h0m22 2h0m5-11h0m3 8h0m22 4h0m11-25h0m0 26h0m4-25h0m3 12h0m10 10h0m4-6h0m1-11h0m4 1h0m1 4h0m14-22h0m2 11h0m4 8h0m9-2h0m4-14h0m2 21h0m7-23h0m0 5h0m1 6h0m2-12h0m8 3h0m6 4h0m2 0h0m2 6h0m4 5h0m14-17h0m2 2h0m9 6h0m-343 42h0m3 6h0m3-11h0m6 4h0m0-3h0m4 1h0m1 22h0m9-27h0m0 23h0m3-12h0m5 6h0m3 18h0m6-10h0m4-7h0m14 3h0m2 6h0m6 1h0m2 7h0m4-19h0m4-13h0m3 9h0m2 22h0m14-23h0m6-14h0m5 38h0m6-26h0m2 17h0m1-18h0m1-2h0m6 1h0m0 5h0m2-8h0m2-8h0m2 24h0m8 4h0m6-21h0m4 5h0m1-3h0m10 8h0m5-10h0m4-1h0m6 5h0m4 10h0m2-7h0m2 3h0m1-11h0m10 4h0m17-10h0m4 4h0m25 11h0m1-10h0m1-1h0m11-4h0m-175 40h0m17 7h0m12-6h0" stroke="#bcbd22" stroke-width="12.0" stroke-linecap="round" fill="none"/>
<path transform="scale(.1)" d="M5508 498h0m7 16h0m2-12h0m9 10h0m12-11h0m22-3h0m12 6h0m19 11h0m6-16h0m16 18h0m47-10h0m-214 30h0m37-13h0m7-2h0m110 0h0m30 0h0m24 23h0m5-12h0m12-10h0m30 20h0m23 16h0m2-15h0m20 6h0m5 2h0m20 4h0m16-1h0m13-7h0m11 6h0m-368 38h0m8-22h0m9-4h0m136 31h0m15-3h0m31-2h0m23-1h0m16-24h0m21 6h0m3 0h0m4 12h0m12-13h0m30-6h0m6 0h0m6-2h0m-325 38h0m11 17h0m4-14h0m13 32h0m5-9h0m6 1h0m5 1h0m34-19h0m33 2h0m15-1h0m8-8h0m20 8h0m-51 28h0" stroke="#fff" stroke-width="9.0" stroke-linecap="round" fill="none"/>
<path transform="scale(.1)" d="M6286 878h0m-95 38h0m28 2h0m22-10h0m2 7h0m3 0h0m0-12h0m2 1h0m5 12h0m6-4h0m2 5h0m3-2h0m2-7h0m2 5h0m2-21h0m0 23h0m4-21h0m11 8h0m4 6h0m1 1h0m12-5h0m-145 46h0m8 3h0m0 6h0m3-22h0m4 20h0m5-4h0m15-10h0m1 15h0m3-15h0m0-5h0m6 11h0m2-9h0m5 3h0m1-19h0m5 0h0m5-4h0m2 5h0m2-5h0m1 9h0m1-4h0m0-2h0m1 18h0m1-16h0m3-2h0m8 4h0m1-5h0m3 5h0m0 2h0m0-7h0m5-2h0m2 30h0m1-23h0m5-7h0m21 30h0m-151 47h0m5-11h0m2 6h0m11 6h0m1-16h0m0 0h0m2-6h0m1 11h0m6-12h0m2 13h0m1-9h0m1-4h0m1-5h0m6-7h0m1 29h0m1-26h0m2 9h0m0-3h0m1 11h0m1 9h0m3-28h0m2 1h0m2 9h0m12-4h0m0-10h0m42 11h0m7 7h0m4 3h0m25 2h0m0 14h0m5 0h0m-179 42h0m11-10h0m0-15h0m5 22h0m3-7h0m0 1h0m3-17h0m2-1h0m8 9h0m2-15h0m1 0h0m7-5h0m2 10h0m32 17h0m97-9h0m20 3h0m-228 52h0m16 0h0m2-3h0m1-10h0m1 13h0m3 0h0m1 0h0m1-2h0m2-9h0m1-10h0m1 11h0m0 1h0m1-13h0m0-7h0m23 1h0m3-5h0m8 9h0m76 28h0m39-34h0m51 26h0m-250 48h0m5-4h0m5 0h0m1-9h0m8 5h0m1 5h0m6-14h0m0-4h0m1-5h0m3-1h0m1-6h0m1-2h0m1 12h0m1-8h0m2 8h0m2-5h0m2 0h0m4 11h0m1-19h0m3-2h0m29 18h0m86-2h0m4 14h0m1-6h0m3-14h0m14 3h0m25 15h0m30 4h0m-263 33h0m4 4h0m6-4h0m0 4h0m3 3h0m0-20h0m0 12h0m2 3h0m1-10h0m2 4h0m18-17h0m0 25h0m2-29h0m1 1h0m22 0h0m13 35h0m13-32h0m86 20h0m71-12h0m9-3h0m56 6h0m-904 62h0m34 1h0m5 1h0m514-1h0m2-12h0m11 13h0m10-5h0m0-9h0m2 14h0m10-32h0m1 16h0m1 0h0m2-13h0m0-3h0m3 24h0m7-16h0m2-5h0m68 11h0m25 9h0m9-26h0m12 26h0m16 3h0m20-3h0m4 2h0m68 4h0m34-14h0m44 14h0m-1051 37h0m22-4h0m4 5h0m36-14h0m0 9h0m15-24h0m12 32h0m4-6h0m3-4h0m11-7h0m1 13h0m0-5h0m12-5h0m0 7h0m8-3h0m5 4h0m2-14h0m3-11h0m0 15h0m7 8h0m0-6h0m3-12h0m3 17h0m1-5h0m6-9h0m6 10h0m1 2h0m3-17h0m1 16h0m0-7h0m7 13h0m3-8h0m6-5h0m1 2h0m3-6h0m3-3h0m2 19h0m1 7h0m9-26h0m3 11h0m4 8h0m2-16h0m0-6h0m5 24h0m2 2h0m18-12h0m3 13h0m16 2h0m7-6h0m5 1h0m5-12h0m11-5h0m8 21h0m16-17h0m15 10h0m10-4h0m215 14h0m5-4h0m6 2h0m1-12h0m21 12h0m18-15h0m5 13h0m42 0h0m15-15h0m11 18h0m8-25h0m8 18h0m1-13h0m3 20h0m1-3h0m0 4h0m5-12h0m3-2h0m1-16h0m4 19h0m1 2h0m3-12h0m0 9h0m3 11h0m1-5h0m6-24h0m1 3h0m2 18h0m1-11h0m0 4h0m1 0h0m8-16h0m17 32h0m46-13h0m73-23h0m60 25h0m39 0h0m35-10h0m54-1h0m-1123 51h0m10 11h0m8-12h0m0-4h0m2 8h0m12-12h0m4 15h0m7-15h0m0 10h0m4-1h0m5 7h0m1-6h0m8-17h0m1 20h0m6 6h0m1-10h0m4-15h0m5-12h0m5 6h0m0-4h0m4 27h0m5-23h0m1 15h0m4 15h0m2-24h0m3 23h0m5-20h0m3 6h0m14-17h0m1 6h0m2 10h0m1-19h0m2-1h0m4 16h0m19-13h0m6 1h0m12 30h0m5-32h0m12 12h0m12 7h0m2-15h0m24 6h0m1-13h0m45 8h0m2-8h0m22 0h0m9 8h0m7 0h0m12-3h0m2 7h0m6 7h0m10-15h0m2 26h0m1-29h0m3 25h0m2-10h0m2-7h0m5-9h0m7 34h0m0 0h0m3-24h0m2 24h0m1-28h0m8 30h0m8-25h0m0-1h0m4-10h0m4 33h0m13-11h0m1 4h0m1 5h0m3 2h0m5-18h0m5 14h0m8-23h0m0 26h0m1-9h0m2 1h0m2 3h0m6 7h0m0-16h0m21-1h0m3 3h0m5 3h0m5-10h0m1 14h0m9-5h0m4 10h0m2-15h0m15 11h0m5 0h0m7 0h0m16 10h0m4 1h0m17 0h0m1-2h0m9-17h0m1 5h0m1 1h0m2 10h0m0-1h0m1-2h0m5 0h0m5 0h0m0-2h0m1 2h0m0-3h0m2-1h0m1-3h0m0 7h0m4 3h0m2-13h0m5 6h0m3 9h0m5-6h0m3 4h0m1-7h0m4 1h0m2-4h0m1 12h0m1-25h0m0 12h0m3 2h0m1 10h0m2-10h0m7 2h0m5 10h0m1-2h0m2-9h0m0 2h0m1-5h0m0 14h0m0-9h0m4 2h0m1-26h0m4-6h0m2 32h0m1-11h0m1 16h0m2-32h0m1 32h0m2-34h0m7 34h0m1-10h0m1 5h0m2-21h0m1 0h0m2 28h0m2-5h0m0 1h0m2-8h0m0 4h0m1-15h0m0 21h0m1-1h0m0-15h0m1-9h0m2 20h0m1-17h0m0 20h0m1-9h0m1 7h0m1 5h0m3-15h0m0-2h0m4-11h0m1 20h0m0 7h0m0 1h0m8-33h0m2 23h0m0-3h0m2 7h0m0-16h0m2 18h0m1 5h0m0-11h0m1-11h0m1 9h0m0-5h0m0 12h0m2 5h0m1-27h0m0 21h0m2-9h0m2 5h0m2-12h0m2 7h0m0-5h0m1 4h0m4 1h0m1 12h0m1-5h0m2-5h0m4-10h0m0 3h0m3-5h0m1-1h0m1-3h0m1 3h0m0 14h0m4-26h0m1 14h0m1 11h0m2-6h0m1-6h0m0-8h0m2-5h0m4 15h0m3-13h0m3 1h0m1 12h0m0-1h0m0 3h0m5-7h0m4-8h0m1 2h0m7 1h0m3 22h0m49 9h0m50 3h0m59-18h0m20 13h0m58 4h0m27-9h0m40-29h0m10 0h0m5 3h0m-1139 45h0m17 7h0m4-11h0m8 24h0m8-10h0m5-12h0m9 33h0m5-38h0m3 35h0m2-5h0m1-9h0m3 1h0m12 16h0m1-30h0m4-6h0m18 0h0m4 9h0m10-7h0m1 20h0m6 6h0m29-25h0m209 0h0m20 23h0m20 1h0m3 3h0m8 6h0m0-1h0m10-34h0m8 8h0m6-9h0m4 20h0m18 15h0m0 0h0m1-15h0m2 13h0m1 3h0m4-4h0m1-33h0m3 32h0m2-24h0m1 0h0m1 28h0m7 1h0m5-4h0m4-24h0m1-1h0m1 24h0m0 5h0m1 0h0m3-34h0m5-4h0m1 14h0m0-7h0m3 27h0m6-34h0m1 6h0m3-3h0m1 1h0m7 28h0m5-2h0m0 0h0m2-22h0m8-3h0m0 11h0m0 17h0m1-24h0m2 10h0m1 13h0m2 6h0m8-7h0m2-28h0m3 5h0m2 0h0m4 15h0m2 12h0m3-13h0m1-12h0m7-6h0m0 30h0m3-24h0m1-7h0m1 23h0m2-27h0m1 39h0m13-27h0m3 23h0m1-19h0m2-1h0m0 11h0m0-23h0m2 13h0m1-6h0m0-4h0m0 3h0m3 25h0m0-28h0m1-3h0m0 3h0m0 2h0m3 25h0m3-15h0m0-7h0m2-9h0m1 4h0m2 11h0m0 5h0m2-20h0m1 9h0m1-3h0m1 29h0m1-36h0m0 3h0m6 17h0m5-8h0m0-3h0m1-10h0m1 3h0m1-3h0m0 0h0m0 18h0m0 14h0m1-23h0m0 6h0m0 2h0m0 13h0m1-23h0m2-4h0m0 17h0m1 12h0m2-25h0m2 21h0m1-12h0m1-2h0m0-9h0m3-3h0m2 21h0m1-12h0m0 12h0m1 2h0m0 4h0m1-14h0m0 14h0m1-17h0m2 4h0m1-10h0m1 29h0m2-24h0m0 4h0m1-4h0m3 22h0m1-14h0m0 6h0m2-11h0m1 2h0m0-5h0m2-11h0m1 18h0m1-6h0m1-12h0m0 21h0m2 2h0m0-15h0m0 16h0m1-15h0m0 22h0m0-8h0m0-13h0m1 13h0m0 7h0m0 6h0m1-32h0m1 1h0m2 22h0m1 1h0m1 6h0m1-21h0m0 20h0m0-23h0m0 15h0m2-10h0m1 2h0m2-7h0m0 14h0m0 11h0m6-30h0m3 11h0m1 11h0m0-23h0m1 9h0m0 13h0m0-5h0m2-20h0m0 14h0m1 8h0m0 4h0m1-3h0m1-8h0m1-11h0m0 16h0m0 17h0m0-31h0m1 12h0m0-7h0m2-8h0m3 9h0m2 2h0m0 3h0m2-3h0m0 5h0m0 8h0m2-23h0m2 27h0m2-18h0m0 25h0m1-16h0m3-13h0m2 11h0m0-2h0m1-13h0m1 6h0m1-2h0m3 7h0m1 6h0m2-7h0m1-9h0m3-1h0m1 7h0m0-6h0m3 7h0m1-9h0m1 10h0m2 0h0m2-10h0m1-4h0m0 38h0m0-22h0m0 8h0m1-9h0m5 0h0m0 8h0m2-20h0m0 26h0m0-5h0m1 0h0m2-20h0m1 31h0m3-26h0m1-6h0m1 2h0m3 6h0m1-5h0m1 0h0m2-3h0m3 3h0m1-4h0m0 18h0m4-21h0m4 7h0m8 2h0m0 0h0m0 19h0m3-1h0m12-4h0m0 6h0m0-23h0m9 30h0m1-8h0m0 4h0m6-19h0m1-3h0m1 19h0m1-11h0m2-9h0m2 1h0m0-1h0m8 22h0m1-4h0m2-17h0m2-4h0m3 27h0m1 3h0m1-9h0m5-5h0m11 1h0m1-10h0m6 19h0m3-3h0m6 4h0m5-6h0m0 9h0m0-18h0m3 9h0m11-8h0m1 20h0m0-6h0m4 4h0m0 1h0m10-17h0m1-2h0m7 19h0m10-5h0m4-2h0m2 3h0m1 3h0m32-19h0m1 14h0m1-15h0m5 18h0m17-14h0m13 12h0m33-31h0m6 34h0m14-13h0m42 11h0m-823 42h0m12-12h0m10 12h0m5-9h0m11 7h0m13 2h0m6-6h0m3-5h0m1-12h0m1 18h0m15-13h0m4 3h0m1 3h0m5-20h0m4 9h0m2 20h0m3-1h0m2-14h0m2-14h0m3 11h0m2 18h0m7-17h0m3 1h0m6-3h0m1-7h0m17 17h0m12 5h0m3-20h0m1 8h0m17-13h0m1-3h0m1 16h0m6-12h0m6-5h0m6 7h0m11 9h0m18 5h0m3-16h0m3 3h0m6 17h0m0-2h0m19-20h0m57 12h0m24-11h0m11 14h0m5-6h0m17 2h0m9-7h0m2 1h0m6 10h0m9-7h0m1-11h0m4 7h0m9 3h0m8-8h0m16 6h0m24 0h0m113-7h0m26 3h0m7 9h0m25-6h0m7-6h0m9 10h0m3-5h0m2 6h0m0 3h0m5-1h0m1 9h0m1 0h0m0-11h0m2 0h0m1-9h0m3 4h0m2 5h0m1-4h0m4 16h0m6-10h0m3-5h0m2 0h0m0-2h0m1 12h0m2-16h0m2-1h0m1 18h0m5-13h0m0 2h0m2 6h0m0 7h0m7 8h0m3-20h0m4-5h0m1 2h0m0 3h0m2 13h0m3 8h0m3-2h0m1-27h0m6 25h0m3-14h0m0-13h0m4 31h0m4-25h0m1 27h0m2-24h0m0 3h0m4 3h0m0-7h0m3 20h0m3-11h0m1-6h0m0 4h0m1 10h0m2-6h0m0 10h0m6-5h0m4 14h0m7-5h0m1-4h0m5-19h0m1 15h0m1-5h0m4 18h0m1-13h0m0 4h0m0 7h0m9-13h0m1 15h0m5-18h0m4 8h0m1-18h0m38 27h0m-889 29h0m4 8h0m5-13h0m5 0h0m1 13h0m7-19h0m6 4h0m1-9h0m1 21h0m4-6h0m4 8h0m3 5h0m0-17h0m3-3h0m7-4h0m3 9h0m1 2h0m11 13h0m1-38h0m1 23h0m2 3h0m3-22h0m6 35h0m2-8h0m7-23h0m0-4h0m0 21h0m8-5h0m4-19h0m2 4h0m2 27h0m6-29h0m5-3h0m4 5h0m3-3h0m5 11h0m4-8h0m16 9h0m622-4h0m20-2h0m11-5h0m28 1h0m26 17h0m1-4h0m7 3h0m6-9h0m1 2h0m8-2h0m7-3h0m7 1h0m1 13h0m24-10h0m4 7h0m-1002 55h0m15 2h0m5-13h0m16 13h0m2-10h0m0 1h0m2 4h0m8-3h0m0 5h0m7 3h0m4-21h0m1 7h0m5-9h0m3 22h0m0-17h0m1 13h0m0-30h0m3 12h0m1-6h0m0 19h0m8-21h0m2 6h0m2 0h0m2-1h0m12 11h0m1 5h0m6-16h0m3-10h0m5 7h0m0 15h0m2-5h0m6-17h0m1 1h0m10 2h0m2 4h0m10 6h0m3-3h0m0 4h0m1-1h0m-211 43h0m9 14h0m14-9h0m5 15h0m3 3h0m4-13h0m2 5h0m1-5h0m19-15h0m5 4h0m0 7h0m19-5h0m2-15h0m6 20h0m2-1h0m6-13h0m0 27h0m1 4h0m13-38h0m4 6h0m0 5h0m10-2h0m8-10h0m13 14h0m14 1h0m-243 60h0m5-19h0m18 14h0m2-3h0m2-12h0m9 22h0m15-15h0m3-9h0m1 17h0m8-14h0m6 15h0m7-6h0m3 7h0m2 2h0m3-34h0m3 31h0m4-16h0m9-3h0m0 2h0m10 1h0m4-13h0m3-1h0m1 12h0m1-10h0m1-3h0m5 3h0m37 9h0m-222 47h0m4-1h0m7 2h0m3 15h0m1-20h0m2 4h0m0 20h0m4-6h0m2-4h0m2-3h0m10 13h0m22-30h0m5 2h0m11 1h0m0 12h0m1-7h0m24-1h0m4-2h0m6 8h0m3-1h0m15-9h0m15 0h0m70-9h0m-232 37h0m15 4h0m11 1h0m1 3h0m0-3h0m3-5h0m11 3h0" stroke="#e377c2" stroke-width="11.0" stroke-linecap="round" fill="none"/>
<path transform="scale(.1)" d="M5715 557h0m7 2h0m2 0h0m5-3h0m1-3h0m6-1h0m14 1h0m4 0h0m3 2h0m3 2h0m6-5h0m10 0h0m2 7h0m1-8h0m2-2h0m3 4h0m1 1h0m1-7h0m9 3h0m2 1h0m2-1h0m1-4h0m6-6h0m-383 52h0m288-31h0m20-1h0m-344 73h0m43-23h0m6-1h0m41 10h0m53-4h0m27 10h0m17-5h0m72 1h0m-256 33h0m85-7h0m155 1h0m-154 377h0m2 10h0m0 2h0m9-2h0m7 1h0m10 3h0m4-5h0m2-9h0m3 7h0m3-8h0m15 13h0m0-2h0m3-3h0m0-3h0m13 1h0m2-8h0m2 0h0m0-8h0m3 10h0m1 5h0m2-2h0m2 0h0m0-2h0m-174 54h0m2-13h0m17-2h0m1 8h0m0-16h0m1 0h0m13-7h0m15 3h0m0 2h0m1-11h0m2 11h0m3-5h0m0-5h0m3 2h0m4-1h0m0 2h0m0 2h0m1-1h0m2-7h0m1 10h0m6 0h0m4 3h0m1-13h0m1 2h0m1 4h0m1 8h0m2-3h0m8-9h0m1-3h0m7 7h0m1 1h0m5-4h0m2-4h0m7 9h0m22-5h0m0-3h0m10 0h0" stroke="#bcbd22" stroke-width="11.0" stroke-linecap="round" fill="none"/>
<path transform="scale(.1)" d="M7093 1954h0m41-2h0m200 7h0m-228 24h0m10-23h0m3 20h0m1 4h0m20 14h0m43-33h0m17 26h0m0-24h0m12 28h0m43-20h0m69 3h0m-261 31h0m35 18h0m3-4h0m25-20h0m92 23h0m58-7h0m15-7h0m73 5h0m-758 36h0m5 13h0m8-16h0m0 13h0m0-13h0m7 11h0m19 2h0m7 4h0m1-3h0m2-12h0m12-9h0m5 19h0m13 2h0m3 2h0m6 0h0m4-12h0m2 13h0m0-1h0m2 0h0m11-1h0m2-10h0m6 20h0m1-6h0m1 9h0m3-20h0m3 10h0m1 5h0m1 1h0m13 3h0m1-24h0m28 19h0m34 5h0m30 2h0m19-3h0m254-17h0m8-10h0m236 6h0m-576 28h0m29 1h0m8-2h0m8 2h0m2 13h0m1-14h0m17 5h0m4-2h0m1 1h0m1 5h0m1 10h0m13-1h0m0-2h0m2-7h0m3 7h0m9-2h0m4 0h0m2 1h0m0-11h0m1 15h0m5-3h0m12-9h0m2 6h0m9 7h0m0 0h0m0-5h0m10 1h0m15-1h0m1 1h0m7 5h0m10 3h0m13 11h0m5-8h0m1-2h0m4 5h0m5-5h0m1 2h0m1-9h0m1 4h0m3-5h0m16 4h0m8 1h0m10 9h0m1-6h0m18-8h0m13 3h0m1 3h0m1 5h0m1-2h0m14-1h0m4-14h0m0-1h0m1-7h0m2 8h0m13-2h0m0-4h0" stroke="#7f7f7f" stroke-width="10.0" stroke-linecap="round" fill="none"/>
<path transform="scale(.1)" d="M5739 996h0m23-1h0m0-14h0m5 17h0m5-20h0m13 15h0m1-8h0m-49 29h0m7 14h0m0-18h0m4 26h0m2-4h0m0-27h0m6 7h0m5 3h0m6 2h0m6 17h0m10-28h0m0 16h0m3-18h0m-35 61h0m7-4h0m17-16h0m6-5h0m24 5h0" stroke="#17becf" stroke-width="10.0" stroke-linecap="round" fill="none"/>
<rect x="41" y="42" width="353" height="196.5" fill="none" stroke="#555" stroke-width="1.1"/>
<rect x="431.5" y="42" width="351.3" height="196" fill="none" stroke="#555" stroke-width="1.1"/>
<text x="217.5" y="36.3" font-size="14" text-anchor="middle" font-weight="normal" fill="#161616" textLength="48.3">Sample</text>
<text x="606.5" y="36.1" font-size="13.8" text-anchor="middle" font-weight="normal" fill="#161616" textLength="50.6">Cell type</text>
<circle cx="101.5" cy="250" r="2.6" fill="#1f77b4"/>
<text x="115.89999999999999" y="255.7" font-size="10.9" text-anchor="start" font-weight="normal" fill="#161616">Control</text>
<circle cx="171.8" cy="250" r="2.6" fill="#ff7f0e"/>
<text x="185.9" y="255.7" font-size="10.9" text-anchor="start" font-weight="normal" fill="#161616">0.5 hpt</text>
<circle cx="240.2" cy="250" r="2.6" fill="#2ca02c"/>
<text x="254.29999999999998" y="255.7" font-size="10.9" text-anchor="start" font-weight="normal" fill="#161616">6 hpt</text>
<circle cx="301" cy="250" r="2.6" fill="#d62728"/>
<text x="314.0" y="255.7" font-size="10.9" text-anchor="start" font-weight="normal" fill="#161616">24 hpt</text>
<circle cx="463.2" cy="252.3" r="2.9" fill="#ff7f0e"/>
<text x="482.5" y="256.0" font-size="10.7" text-anchor="start" font-weight="normal" fill="#161616">1 Epidermis</text>
<circle cx="463.2" cy="266.9" r="2.9" fill="#2ca02c"/>
<text x="482.5" y="270.6" font-size="10.7" text-anchor="start" font-weight="normal" fill="#161616">2 Stele</text>
<circle cx="463.2" cy="281.5" r="2.9" fill="#d62728"/>
<text x="482.5" y="285.2" font-size="10.7" text-anchor="start" font-weight="normal" fill="#161616">3 Cortex</text>
<circle cx="570.5" cy="252.3" r="2.9" fill="#9467bd"/>
<text x="589.8000000000001" y="256.0" font-size="10.7" text-anchor="start" font-weight="normal" fill="#161616">4 Stele</text>
<circle cx="570.5" cy="266.9" r="2.9" fill="#8c564b"/>
<text x="589.8000000000001" y="270.6" font-size="10.7" text-anchor="start" font-weight="normal" fill="#161616">5 Endodermis</text>
<circle cx="570.5" cy="281.5" r="2.9" fill="#e377c2"/>
<text x="589.8000000000001" y="285.2" font-size="10.7" text-anchor="start" font-weight="normal" fill="#161616">6 Meristem</text>
<circle cx="689.3" cy="252.3" r="2.9" fill="#7f7f7f"/>
<text x="708.8000000000001" y="256.0" font-size="10.7" text-anchor="start" font-weight="normal" fill="#161616">7 Unknown</text>
<circle cx="689.3" cy="266.9" r="2.9" fill="#bcbd22"/>
<text x="708.8000000000001" y="270.6" font-size="10.7" text-anchor="start" font-weight="normal" fill="#161616">8 Stele</text>
<circle cx="689.3" cy="281.5" r="2.9" fill="#17becf"/>
<text x="708.8000000000001" y="285.2" font-size="10.7" text-anchor="start" font-weight="normal" fill="#161616">9 Unknown</text>
<text x="679.3" y="95" font-size="8.5" text-anchor="middle" font-weight="bold" fill="#111">1</text>
<text x="495" y="113" font-size="8.5" text-anchor="middle" font-weight="bold" fill="#111">2</text>
<text x="707.2" y="141.5" font-size="8.5" text-anchor="middle" font-weight="bold" fill="#111">3</text>
<text x="474.2" y="165.4" font-size="8.5" text-anchor="middle" font-weight="bold" fill="#111">4</text>
<text x="611.8" y="214.5" font-size="8.5" text-anchor="middle" font-weight="bold" fill="#111">5</text>
<text x="575" y="132.2" font-size="8.5" text-anchor="middle" font-weight="bold" fill="#111">6</text>
<text x="721.5" y="210" font-size="8.5" text-anchor="middle" font-weight="bold" fill="#111">7</text>
<text x="555.5" y="59.6" font-size="8.5" text-anchor="middle" font-weight="bold" fill="#111">8</text>
<text x="576.7" y="104.8" font-size="8.5" text-anchor="middle" font-weight="bold" fill="#111">9</text>
<text x="24.2" y="25.9" font-size="20.5" text-anchor="start" font-weight="bold" fill="#000">a</text>
<text x="412.3" y="25.9" font-size="20.5" text-anchor="start" font-weight="bold" fill="#000">b</text>
<text x="29" y="319.6" font-size="20.5" text-anchor="start" font-weight="bold" fill="#000">c</text>
<text x="292.4" y="319.6" font-size="20.5" text-anchor="start" font-weight="bold" fill="#000">d</text>
<text x="528.3" y="319.6" font-size="20.5" text-anchor="start" font-weight="bold" fill="#000">e</text>
<text x="156.4" y="333.4" font-size="13" text-anchor="end" fill="#141414" textLength="87.4">GST-LYK3ic<tspan font-size="8.7" dy="-4.6">WT</tspan></text>
<text x="154" y="346.6" font-size="13" text-anchor="end" fill="#141414" textLength="66.4">MBP-NFPic</text>
<text x="154.8" y="358.8" font-size="13" text-anchor="end" fill="#141414" textLength="41.8">HIS-EV</text>
<text x="153.4" y="371.4" font-size="13" text-anchor="end" fill="#141414" textLength="132.4">HIS-MtFERic<tspan font-size="8.7" dy="-4.6">K570R/D666V</tspan></text>
<text x="156.4" y="383.2" font-size="13" text-anchor="end" fill="#141414" textLength="99.8">GST-LYK3ic<tspan font-size="8.7" dy="-4.6">K349E</tspan></text>
<path d="M172.5 329.4h5.8M175.4 326.5v5.8" stroke="#111" stroke-width="1.3" fill="none"/>
<path d="M194.1 329.4h5.8M197.0 326.5v5.8" stroke="#111" stroke-width="1.3" fill="none"/>
<path d="M217.5 329.4h5.8M220.4 326.5v5.8" stroke="#111" stroke-width="1.3" fill="none"/>
<path d="M240.1 330.0h3.8" stroke="#111" stroke-width="1.4" fill="none"/>
<path d="M172.5 341.6h5.8M175.4 338.7v5.8" stroke="#111" stroke-width="1.3" fill="none"/>
<path d="M195.1 342.2h3.8" stroke="#111" stroke-width="1.4" fill="none"/>
<path d="M218.5 342.2h3.8" stroke="#111" stroke-width="1.4" fill="none"/>
<path d="M240.1 342.2h3.8" stroke="#111" stroke-width="1.4" fill="none"/>
<path d="M173.5 354.4h3.8" stroke="#111" stroke-width="1.4" fill="none"/>
<path d="M194.1 353.8h5.8M197.0 350.9v5.8" stroke="#111" stroke-width="1.3" fill="none"/>
<path d="M218.5 354.4h3.8" stroke="#111" stroke-width="1.4" fill="none"/>
<path d="M240.1 354.4h3.8" stroke="#111" stroke-width="1.4" fill="none"/>
<path d="M173.5 367.0h3.8" stroke="#111" stroke-width="1.4" fill="none"/>
<path d="M195.1 367.0h3.8" stroke="#111" stroke-width="1.4" fill="none"/>
<path d="M217.5 366.4h5.8M220.4 363.5v5.8" stroke="#111" stroke-width="1.3" fill="none"/>
<path d="M239.1 366.4h5.8M242.0 363.5v5.8" stroke="#111" stroke-width="1.3" fill="none"/>
<path d="M173.5 379.8h3.8" stroke="#111" stroke-width="1.4" fill="none"/>
<path d="M195.1 379.8h3.8" stroke="#111" stroke-width="1.4" fill="none"/>
<path d="M218.5 379.8h3.8" stroke="#111" stroke-width="1.4" fill="none"/>
<path d="M239.1 379.2h5.8M242.0 376.3v5.8" stroke="#111" stroke-width="1.3" fill="none"/>
<text x="258.6" y="381.6" font-size="13" text-anchor="start" font-weight="normal" fill="#141414">kDa</text>
<text x="148.4" y="401.4" font-size="13" text-anchor="end" fill="#141414" textLength="134.4">HIS-MtFERic<tspan font-size="8.7" dy="-4.6">K570R/D666V</tspan></text>
<text x="146.4" y="419.8" font-size="13" text-anchor="end" fill="#141414" textLength="68.6">MBP-NFPic</text>
<text x="147.7" y="435.9" font-size="13" text-anchor="end" fill="#141414" textLength="88.2">GST-LYK3ic<tspan font-size="8.7" dy="-4.6">WT</tspan></text>
<text x="148.4" y="456.3" font-size="13" text-anchor="end" fill="#141414" textLength="134.4">HIS-MtFERic<tspan font-size="8.7" dy="-4.6">K570R/D666V</tspan></text>
<text x="147.6" y="477.5" font-size="13" text-anchor="end" fill="#141414" textLength="68">MBP-NFPic</text>
<text x="149.4" y="490.8" font-size="13" text-anchor="end" textLength="130.4" fill="#141414">GST-LYK3ic<tspan font-size="8.2" dy="-4.6">WT</tspan><tspan font-size="13" dy="0.8"> </tspan><tspan font-size="7.6">or</tspan><tspan font-size="13"> </tspan><tspan font-size="8.2" dy="-0.8">K349E</tspan></text>
<path d="M151.8 393.9h3.4l7.2 1.7l-7.2 1.7h-3.4z" fill="#111"/>
<path d="M151.8 414.8h3.4l7.2 1.7l-7.2 1.7h-3.4z" fill="#111"/>
<path d="M151.8 427.3h3.4l7.2 1.7l-7.2 1.7h-3.4z" fill="#111"/>
<path d="M151.8 449.6h3.4l7.2 1.7l-7.2 1.7h-3.4z" fill="#111"/>
<path d="M151.8 470.7h3.4l7.2 1.7l-7.2 1.7h-3.4z" fill="#111"/>
<path d="M151.8 482.1h3.4l7.2 1.7l-7.2 1.7h-3.4z" fill="#111"/>
<defs>
<linearGradient id="ga" x1="0" x2="1" y1="0" y2="0"><stop offset="0" stop-color="#bdbdbd"/><stop offset="0.55" stop-color="#c6c6c6"/><stop offset="1" stop-color="#cecece"/></linearGradient>
<linearGradient id="gb" x1="0" x2="1" y1="0" y2="0"><stop offset="0" stop-color="#a3a3a3"/><stop offset="0.35" stop-color="#aeaeae"/><stop offset="1" stop-color="#a6a6a6"/></linearGradient>
<filter id="b1" x="-30%" y="-60%" width="160%" height="220%"><feGaussianBlur stdDeviation="1.3"/></filter>
<filter id="b2" x="-40%" y="-80%" width="180%" height="260%"><feGaussianBlur stdDeviation="2.4"/></filter>
<filter id="b4" x="-50%" y="-100%" width="200%" height="300%"><feGaussianBlur stdDeviation="3.5"/></filter>
<filter id="b3" x="-10%" y="-10%" width="120%" height="120%"><feGaussianBlur stdDeviation="1.0"/></filter>
<clipPath id="cga"><rect x="164.4" y="388" width="87.8" height="55"/></clipPath>
<clipPath id="cgb"><rect x="164.4" y="445" width="88" height="57.7"/></clipPath>
</defs>
<rect x="164.4" y="388" width="87.8" height="55" fill="url(#ga)"/>
<g clip-path="url(#cga)">
<ellipse cx="196" cy="431" rx="42" ry="12" fill="#6a6a6a" opacity="0.36" filter="url(#b4)"/>
<ellipse cx="174" cy="418.5" rx="7" ry="4.5" fill="#444" opacity="0.6" filter="url(#b2)"/>
<ellipse cx="220.5" cy="396" rx="7.5" ry="3.6" fill="#555" opacity="0.55" filter="url(#b2)"/>
<ellipse cx="175.4" cy="429.3" rx="12" ry="6.9" fill="#000" filter="url(#b1)"/>
<ellipse cx="197.6" cy="429.3" rx="11.2" ry="5.7" fill="#000" filter="url(#b1)"/>
<ellipse cx="219.4" cy="429.3" rx="11.6" ry="5.9" fill="#000" filter="url(#b1)"/>
</g>
<rect x="164.4" y="445" width="88" height="57.7" fill="url(#gb)"/>
<g clip-path="url(#cgb)"><g filter="url(#b3)">
<rect x="209.3" y="473.5" width="19.0" height="27.0" rx="1.5" fill="#5c5c5c" opacity="0.55"/>
<rect x="231.4" y="474.0" width="19.5" height="26.0" rx="1.5" fill="#626262" opacity="0.42"/>
<rect x="209.8" y="462.0" width="18.0" height="12.0" rx="1.5" fill="#777" opacity="0.3"/>
<rect x="232.2" y="462.0" width="18.0" height="12.0" rx="1.5" fill="#777" opacity="0.25"/>
<rect x="165.3" y="470.5" width="18.0" height="5.0" rx="1.5" fill="#404040" opacity="0.85"/>
<rect x="165.3" y="481.6" width="18.0" height="5.4" rx="1.5" fill="#4c4c4c" opacity="0.75"/>
<rect x="188.5" y="473.7" width="15.0" height="2.6" rx="1.5" fill="#666" opacity="0.3"/>
<rect x="187.0" y="481.6" width="18.0" height="4.8" rx="1.5" fill="#444" opacity="0.8"/>
<rect x="188.8" y="490.3" width="15.5" height="4.0" rx="1.5" fill="#4c4c4c" opacity="0.7"/>
<rect x="209.6" y="450.1" width="18.5" height="4.6" rx="1.5" fill="#3e3e3e" opacity="0.8"/>
<rect x="210.3" y="463.3" width="17.0" height="3.0" rx="1.5" fill="#555" opacity="0.35"/>
<rect x="209.8" y="475.8" width="18.0" height="3.5" rx="1.5" fill="#444" opacity="0.35"/>
<rect x="209.6" y="482.2" width="18.5" height="5.0" rx="1.5" fill="#333" opacity="0.6"/>
<rect x="209.8" y="493.5" width="18.0" height="5.0" rx="1.5" fill="#3a3a3a" opacity="0.6"/>
<rect x="231.7" y="450.2" width="19.0" height="4.4" rx="1.5" fill="#484848" opacity="0.7"/>
<rect x="232.7" y="463.3" width="17.0" height="3.0" rx="1.5" fill="#555" opacity="0.3"/>
<rect x="232.2" y="475.8" width="18.0" height="3.5" rx="1.5" fill="#444" opacity="0.28"/>
<rect x="231.7" y="482.2" width="19.0" height="5.0" rx="1.5" fill="#3a3a3a" opacity="0.45"/>
<rect x="231.9" y="493.0" width="18.5" height="5.0" rx="1.5" fill="#3e3e3e" opacity="0.5"/>
</g></g>
<path d="M252.6 408.8h3" stroke="#111" stroke-width="1.5"/>
<path d="M252.6 428.6h3" stroke="#111" stroke-width="1.5"/>
<path d="M252.6 463.3h3" stroke="#111" stroke-width="1.5"/>
<path d="M252.6 483.3h3" stroke="#111" stroke-width="1.5"/>
<text x="269.4" y="414.1" font-size="13.8" text-anchor="middle" textLength="20.9" lengthAdjust="spacingAndGlyphs" fill="#141414">100</text>
<text x="269.4" y="434.4" font-size="13.8" text-anchor="middle" textLength="14" lengthAdjust="spacingAndGlyphs" fill="#141414">70</text>
<text x="269.4" y="468.5" font-size="13.8" text-anchor="middle" textLength="20.9" lengthAdjust="spacingAndGlyphs" fill="#141414">100</text>
<text x="269.4" y="488.8" font-size="13.8" text-anchor="middle" textLength="14" lengthAdjust="spacingAndGlyphs" fill="#141414">70</text>
<text transform="translate(283.6 393.2) rotate(90)" font-size="14" textLength="44.8" lengthAdjust="spacingAndGlyphs" fill="#141414">Autorad</text>
<text transform="translate(283.6 459.8) rotate(90)" font-size="14" textLength="25" lengthAdjust="spacingAndGlyphs" fill="#141414">CBB</text>
<rect x="303.8" y="351.5" width="222.2" height="151.6" fill="#030303"/>
<text x="333.8" y="363.5" font-size="9.9" text-anchor="middle" font-weight="normal" fill="#ececec" class="w">EV</text>
<text x="391" y="363.5" font-size="9.9" text-anchor="middle" font-weight="normal" fill="#ececec" class="w">MtFERi-1</text>
<text x="446" y="363.5" font-size="9.9" text-anchor="middle" font-weight="normal" fill="#ececec" class="w">MtFERi-2</text>
<text x="501.4" y="363.5" font-size="9.9" text-anchor="middle" font-weight="normal" fill="#ececec" class="w">MtFERi-3</text>
<filter id="bp" x="-5%" y="-5%" width="110%" height="110%"><feGaussianBlur stdDeviation="0.45"/></filter><g filter="url(#bp)">
<path d="M333.4 394.5Q331.6 384.5 330.6 369.5" stroke="#6f8f3a" stroke-width="0.7" fill="none" opacity="0.6"/>
<path d="M333.7 394.5Q340.6 385.4 344.5 371.3" stroke="#6f8f3a" stroke-width="0.7" fill="none" opacity="0.6"/>
<path d="M334.8 394.5Q342.9 384.1 348.0 368.6" stroke="#6f8f3a" stroke-width="0.7" fill="none" opacity="0.6"/>
<path d="M333.4 394.5Q345.1 383.4 351.3 367.4" stroke="#6f8f3a" stroke-width="0.7" fill="none" opacity="0.6"/>
<path d="M333.5 394.5Q339.9 387.2 343.4 375.0" stroke="#6f8f3a" stroke-width="0.7" fill="none" opacity="0.6"/>
<path d="M333.8 394.5Q339.2 389.8 342.2 380.0" stroke="#6f8f3a" stroke-width="0.7" fill="none" opacity="0.6"/>
<path d="M332.6 394.5Q336.9 394.5 338.7 389.5" stroke="#6f8f3a" stroke-width="0.7" fill="none" opacity="0.6"/>
<path d="M333.5 394.5Q321.4 393.6 314.9 387.6" stroke="#6f8f3a" stroke-width="0.7" fill="none" opacity="0.6"/>
<path d="M333.9 394.5Q323.1 394.5 317.5 389.5" stroke="#6f8f3a" stroke-width="0.7" fill="none" opacity="0.6"/>
<path d="M334.4 394.5Q325.6 392.6 321.3 385.8" stroke="#6f8f3a" stroke-width="0.7" fill="none" opacity="0.6"/>
<path d="M332.3 394.5Q329.3 389.4 327.1 379.4" stroke="#6f8f3a" stroke-width="0.7" fill="none" opacity="0.6"/>
<path d="M332.9 394.5Q328.6 396.2 325.9 393.0" stroke="#6f8f3a" stroke-width="0.7" fill="none" opacity="0.6"/>
<path d="M332.3 394.5Q338.1 391.8 340.5 384.0" stroke="#6f8f3a" stroke-width="0.7" fill="none" opacity="0.6"/>
<path d="M334.4 394.5Q341.5 386.2 345.8 372.9" stroke="#6f8f3a" stroke-width="0.7" fill="none" opacity="0.6"/>
<path d="M334.1 394.5Q334.8 392.5 335.5 385.5" stroke="#6f8f3a" stroke-width="0.7" fill="none" opacity="0.6"/>
<path d="M332.1 394.5Q339.7 395.0 343.0 390.5" stroke="#6f8f3a" stroke-width="0.7" fill="none" opacity="0.6"/>
<ellipse cx="332.1" cy="369.2" rx="1.9" ry="1.3" fill="#74c03a" transform="rotate(112 332.1 369.2)"/>
<ellipse cx="331.0" cy="368.7" rx="1.3" ry="0.9" fill="#74c03a" transform="rotate(108 331.0 368.7)"/>
<ellipse cx="330.8" cy="368.3" rx="1.9" ry="1.3" fill="#74c03a" transform="rotate(93 330.8 368.3)"/>
<circle cx="330.9" cy="369.5" r="0.6" fill="#d8f4b0" opacity="0.8"/>
<ellipse cx="345.9" cy="372.1" rx="1.7" ry="1.2" fill="#aee66e" transform="rotate(179 345.9 372.1)"/>
<ellipse cx="345.4" cy="369.9" rx="1.6" ry="1.1" fill="#74c03a" transform="rotate(92 345.4 369.9)"/>
<ellipse cx="346.0" cy="371.6" rx="1.4" ry="1.0" fill="#86d046" transform="rotate(152 346.0 371.6)"/>
<circle cx="344.3" cy="372.2" r="0.6" fill="#d8f4b0" opacity="0.8"/>
<ellipse cx="349.1" cy="368.6" rx="2.2" ry="1.5" fill="#66a834" transform="rotate(68 349.1 368.6)"/>
<ellipse cx="347.7" cy="367.3" rx="1.9" ry="1.3" fill="#74c03a" transform="rotate(140 347.7 367.3)"/>
<ellipse cx="347.9" cy="369.5" rx="1.6" ry="1.1" fill="#66a834" transform="rotate(136 347.9 369.5)"/>
<circle cx="347.2" cy="368.1" r="0.6" fill="#d8f4b0" opacity="0.8"/>
<ellipse cx="352.7" cy="367.5" rx="1.8" ry="1.3" fill="#aee66e" transform="rotate(34 352.7 367.5)"/>
<ellipse cx="349.3" cy="367.3" rx="2.1" ry="1.4" fill="#66a834" transform="rotate(116 349.3 367.3)"/>
<circle cx="350.5" cy="367.2" r="0.6" fill="#d8f4b0" opacity="0.8"/>
<ellipse cx="345.2" cy="375.0" rx="2.3" ry="1.6" fill="#aee66e" transform="rotate(55 345.2 375.0)"/>
<ellipse cx="344.2" cy="374.3" rx="1.7" ry="1.2" fill="#aee66e" transform="rotate(116 344.2 374.3)"/>
<circle cx="342.6" cy="376.0" r="0.6" fill="#d8f4b0" opacity="0.8"/>
<ellipse cx="341.4" cy="380.3" rx="1.9" ry="1.3" fill="#9bdc5a" transform="rotate(70 341.4 380.3)"/>
<ellipse cx="343.1" cy="380.5" rx="1.9" ry="1.4" fill="#86d046" transform="rotate(108 343.1 380.5)"/>
<circle cx="341.9" cy="379.9" r="0.6" fill="#d8f4b0" opacity="0.8"/>
<ellipse cx="337.2" cy="389.7" rx="2.2" ry="1.5" fill="#74c03a" transform="rotate(113 337.2 389.7)"/>
<ellipse cx="338.3" cy="390.5" rx="1.9" ry="1.3" fill="#74c03a" transform="rotate(29 338.3 390.5)"/>
<ellipse cx="337.7" cy="388.4" rx="2.0" ry="1.4" fill="#66a834" transform="rotate(159 337.7 388.4)"/>
<circle cx="338.9" cy="389.3" r="0.6" fill="#d8f4b0" opacity="0.8"/>
<ellipse cx="316.0" cy="388.5" rx="1.6" ry="1.1" fill="#66a834" transform="rotate(46 316.0 388.5)"/>
<ellipse cx="315.6" cy="386.2" rx="1.6" ry="1.1" fill="#74c03a" transform="rotate(167 315.6 386.2)"/>
<circle cx="315.9" cy="386.9" r="0.6" fill="#d8f4b0" opacity="0.8"/>
<ellipse cx="315.8" cy="388.8" rx="1.9" ry="1.3" fill="#9bdc5a" transform="rotate(38 315.8 388.8)"/>
<ellipse cx="319.0" cy="388.6" rx="1.4" ry="1.0" fill="#66a834" transform="rotate(80 319.0 388.6)"/>
<ellipse cx="318.4" cy="389.9" rx="1.7" ry="1.2" fill="#aee66e" transform="rotate(175 318.4 389.9)"/>
<circle cx="316.7" cy="388.8" r="0.6" fill="#d8f4b0" opacity="0.8"/>
<ellipse cx="322.9" cy="385.6" rx="2.0" ry="1.4" fill="#aee66e" transform="rotate(170 322.9 385.6)"/>
<ellipse cx="319.7" cy="384.8" rx="1.8" ry="1.2" fill="#9bdc5a" transform="rotate(126 319.7 384.8)"/>
<ellipse cx="322.1" cy="385.6" rx="1.9" ry="1.4" fill="#66a834" transform="rotate(12 322.1 385.6)"/>
<circle cx="320.9" cy="385.1" r="0.6" fill="#d8f4b0" opacity="0.8"/>
<ellipse cx="328.4" cy="380.1" rx="2.0" ry="1.4" fill="#74c03a" transform="rotate(143 328.4 380.1)"/>
<ellipse cx="328.2" cy="378.8" rx="2.0" ry="1.4" fill="#86d046" transform="rotate(157 328.2 378.8)"/>
<circle cx="326.9" cy="380.0" r="0.6" fill="#d8f4b0" opacity="0.8"/>
<ellipse cx="324.5" cy="392.3" rx="1.7" ry="1.2" fill="#aee66e" transform="rotate(2 324.5 392.3)"/>
<ellipse cx="326.7" cy="393.4" rx="1.4" ry="1.0" fill="#9bdc5a" transform="rotate(158 326.7 393.4)"/>
<ellipse cx="325.7" cy="391.7" rx="2.0" ry="1.4" fill="#aee66e" transform="rotate(82 325.7 391.7)"/>
<circle cx="325.8" cy="393.1" r="0.6" fill="#d8f4b0" opacity="0.8"/>
<ellipse cx="340.5" cy="383.2" rx="1.9" ry="1.3" fill="#66a834" transform="rotate(4 340.5 383.2)"/>
<ellipse cx="341.4" cy="383.8" rx="2.1" ry="1.5" fill="#66a834" transform="rotate(46 341.4 383.8)"/>
<ellipse cx="341.7" cy="384.1" rx="2.0" ry="1.4" fill="#74c03a" transform="rotate(93 341.7 384.1)"/>
<circle cx="341.0" cy="383.7" r="0.6" fill="#d8f4b0" opacity="0.8"/>
<ellipse cx="344.7" cy="372.9" rx="1.7" ry="1.2" fill="#9bdc5a" transform="rotate(36 344.7 372.9)"/>
<ellipse cx="344.2" cy="373.6" rx="2.2" ry="1.5" fill="#74c03a" transform="rotate(69 344.2 373.6)"/>
<ellipse cx="344.8" cy="372.3" rx="1.4" ry="1.0" fill="#66a834" transform="rotate(63 344.8 372.3)"/>
<circle cx="346.6" cy="372.0" r="0.6" fill="#d8f4b0" opacity="0.8"/>
<ellipse cx="336.6" cy="385.1" rx="1.5" ry="1.0" fill="#66a834" transform="rotate(85 336.6 385.1)"/>
<ellipse cx="337.1" cy="384.7" rx="1.7" ry="1.2" fill="#aee66e" transform="rotate(89 337.1 384.7)"/>
<circle cx="335.1" cy="386.2" r="0.6" fill="#d8f4b0" opacity="0.8"/>
<ellipse cx="342.1" cy="390.8" rx="1.3" ry="0.9" fill="#aee66e" transform="rotate(7 342.1 390.8)"/>
<ellipse cx="342.6" cy="389.1" rx="1.6" ry="1.1" fill="#aee66e" transform="rotate(3 342.6 389.1)"/>
<ellipse cx="343.9" cy="391.5" rx="1.3" ry="0.9" fill="#9bdc5a" transform="rotate(43 343.9 391.5)"/>
<circle cx="342.3" cy="389.6" r="0.6" fill="#d8f4b0" opacity="0.8"/>
<path d="M332.9 396.5Q330.6 412.3 330.1 419.0Q329.5 425.7 330.6 431.2Q331.7 436.8 333.4 442.4Q335.1 447.9 336.2 453.5Q337.3 459.1 336.6 463.6L336.0 468.0" stroke="#c4b8a4" stroke-width="1.5" fill="none" stroke-linecap="round"/>
<path d="M336.0 468.0Q335.1 474.7 334.6 480.2Q334.0 485.8 333.2 489.4L332.5 493.0" stroke="#9c9080" stroke-width="1.0" fill="none" stroke-linecap="round"/>
<path d="M338.2 396.5Q338.4 412.3 337.3 417.9Q336.2 423.4 333.4 427.9Q330.6 432.3 331.1 436.8Q331.7 441.3 335.0 443.5Q338.4 445.7 338.9 451.3L339.5 456.9" stroke="#9c9080" stroke-width="1.2" fill="none" stroke-linecap="round"/>
<path d="M335.0 397.0Q333.5 408.0 334.5 414.0Q335.5 420.0 334.8 426.0L334.0 432.0" stroke="#7c7468" stroke-width="0.8" fill="none" stroke-linecap="round"/>
<ellipse cx="333" cy="396" rx="2.2" ry="1.8" fill="none" stroke="#a8743c" stroke-width="0.9"/>
<path d="M386.4 396.0Q381.6 385.4 379.2 369.8" stroke="#6f8f3a" stroke-width="0.7" fill="none" opacity="0.6"/>
<path d="M385.8 396.0Q379.3 391.9 375.7 382.9" stroke="#6f8f3a" stroke-width="0.7" fill="none" opacity="0.6"/>
<path d="M386.4 396.0Q383.9 388.4 382.7 375.9" stroke="#6f8f3a" stroke-width="0.7" fill="none" opacity="0.6"/>
<path d="M386.5 396.0Q389.5 387.1 391.4 373.3" stroke="#6f8f3a" stroke-width="0.7" fill="none" opacity="0.6"/>
<path d="M386.9 396.0Q395.8 388.9 401.0 376.8" stroke="#6f8f3a" stroke-width="0.7" fill="none" opacity="0.6"/>
<path d="M387.4 396.0Q391.8 392.9 394.9 384.7" stroke="#6f8f3a" stroke-width="0.7" fill="none" opacity="0.6"/>
<path d="M386.6 396.0Q386.1 394.6 386.2 388.1" stroke="#6f8f3a" stroke-width="0.7" fill="none" opacity="0.6"/>
<path d="M385.1 396.0Q383.3 395.9 381.8 390.8" stroke="#6f8f3a" stroke-width="0.7" fill="none" opacity="0.6"/>
<path d="M385.9 396.0Q388.9 396.8 390.5 392.5" stroke="#6f8f3a" stroke-width="0.7" fill="none" opacity="0.6"/>
<path d="M385.0 396.0Q392.5 387.8 396.0 374.5" stroke="#6f8f3a" stroke-width="0.7" fill="none" opacity="0.6"/>
<path d="M384.5 396.0Q387.3 390.5 388.0 380.0" stroke="#6f8f3a" stroke-width="0.7" fill="none" opacity="0.6"/>
<path d="M385.9 396.0Q384.7 392.5 384.0 384.0" stroke="#6f8f3a" stroke-width="0.7" fill="none" opacity="0.6"/>
<ellipse cx="380.2" cy="370.0" rx="2.1" ry="1.5" fill="#aee66e" transform="rotate(126 380.2 370.0)"/>
<ellipse cx="377.7" cy="369.6" rx="2.1" ry="1.4" fill="#66a834" transform="rotate(153 377.7 369.6)"/>
<ellipse cx="378.9" cy="368.8" rx="1.7" ry="1.2" fill="#66a834" transform="rotate(23 378.9 368.8)"/>
<circle cx="379.1" cy="370.1" r="0.6" fill="#d8f4b0" opacity="0.8"/>
<ellipse cx="374.6" cy="383.9" rx="2.2" ry="1.5" fill="#9bdc5a" transform="rotate(83 374.6 383.9)"/>
<ellipse cx="375.1" cy="382.0" rx="2.0" ry="1.4" fill="#86d046" transform="rotate(38 375.1 382.0)"/>
<circle cx="376.5" cy="383.9" r="0.6" fill="#d8f4b0" opacity="0.8"/>
<ellipse cx="381.0" cy="375.5" rx="1.6" ry="1.1" fill="#86d046" transform="rotate(63 381.0 375.5)"/>
<ellipse cx="383.9" cy="376.6" rx="1.9" ry="1.3" fill="#9bdc5a" transform="rotate(88 383.9 376.6)"/>
<ellipse cx="384.4" cy="376.2" rx="1.4" ry="1.0" fill="#86d046" transform="rotate(31 384.4 376.2)"/>
<circle cx="382.4" cy="376.5" r="0.6" fill="#d8f4b0" opacity="0.8"/>
<ellipse cx="389.4" cy="373.7" rx="2.2" ry="1.5" fill="#aee66e" transform="rotate(151 389.4 373.7)"/>
<ellipse cx="390.7" cy="371.5" rx="1.8" ry="1.3" fill="#86d046" transform="rotate(136 390.7 371.5)"/>
<circle cx="391.3" cy="373.4" r="0.6" fill="#d8f4b0" opacity="0.8"/>
<ellipse cx="400.1" cy="376.4" rx="1.8" ry="1.3" fill="#aee66e" transform="rotate(46 400.1 376.4)"/>
<ellipse cx="400.1" cy="375.1" rx="2.2" ry="1.5" fill="#aee66e" transform="rotate(37 400.1 375.1)"/>
<ellipse cx="402.2" cy="375.2" rx="1.8" ry="1.3" fill="#aee66e" transform="rotate(90 402.2 375.2)"/>
<circle cx="400.8" cy="376.0" r="0.6" fill="#d8f4b0" opacity="0.8"/>
<ellipse cx="394.2" cy="384.2" rx="2.3" ry="1.6" fill="#aee66e" transform="rotate(165 394.2 384.2)"/>
<ellipse cx="393.0" cy="384.2" rx="1.4" ry="1.0" fill="#86d046" transform="rotate(124 393.0 384.2)"/>
<circle cx="394.0" cy="384.8" r="0.6" fill="#d8f4b0" opacity="0.8"/>
<ellipse cx="387.7" cy="387.3" rx="1.7" ry="1.2" fill="#74c03a" transform="rotate(85 387.7 387.3)"/>
<ellipse cx="387.1" cy="389.0" rx="2.1" ry="1.5" fill="#66a834" transform="rotate(94 387.1 389.0)"/>
<ellipse cx="387.2" cy="388.9" rx="1.3" ry="0.9" fill="#9bdc5a" transform="rotate(23 387.2 388.9)"/>
<circle cx="386.8" cy="387.1" r="0.6" fill="#d8f4b0" opacity="0.8"/>
<ellipse cx="382.3" cy="391.5" rx="1.6" ry="1.1" fill="#9bdc5a" transform="rotate(44 382.3 391.5)"/>
<ellipse cx="380.4" cy="390.8" rx="1.9" ry="1.3" fill="#aee66e" transform="rotate(112 380.4 390.8)"/>
<circle cx="382.2" cy="391.2" r="0.6" fill="#d8f4b0" opacity="0.8"/>
<ellipse cx="392.0" cy="392.7" rx="2.1" ry="1.5" fill="#aee66e" transform="rotate(29 392.0 392.7)"/>
<ellipse cx="390.9" cy="394.0" rx="1.9" ry="1.4" fill="#aee66e" transform="rotate(39 390.9 394.0)"/>
<ellipse cx="389.1" cy="392.1" rx="1.4" ry="1.0" fill="#9bdc5a" transform="rotate(162 389.1 392.1)"/>
<circle cx="390.1" cy="392.1" r="0.6" fill="#d8f4b0" opacity="0.8"/>
<ellipse cx="396.4" cy="376.5" rx="2.2" ry="1.5" fill="#74c03a" transform="rotate(160 396.4 376.5)"/>
<ellipse cx="396.6" cy="375.2" rx="1.7" ry="1.2" fill="#66a834" transform="rotate(150 396.6 375.2)"/>
<circle cx="395.8" cy="375.1" r="0.6" fill="#d8f4b0" opacity="0.8"/>
<ellipse cx="388.5" cy="381.5" rx="2.1" ry="1.5" fill="#86d046" transform="rotate(36 388.5 381.5)"/>
<ellipse cx="387.2" cy="378.3" rx="2.3" ry="1.6" fill="#86d046" transform="rotate(127 387.2 378.3)"/>
<circle cx="388.3" cy="379.7" r="0.6" fill="#d8f4b0" opacity="0.8"/>
<ellipse cx="384.9" cy="382.5" rx="1.8" ry="1.2" fill="#86d046" transform="rotate(7 384.9 382.5)"/>
<ellipse cx="382.7" cy="383.5" rx="1.9" ry="1.3" fill="#74c03a" transform="rotate(34 382.7 383.5)"/>
<ellipse cx="384.8" cy="384.7" rx="1.5" ry="1.0" fill="#9bdc5a" transform="rotate(167 384.8 384.7)"/>
<circle cx="383.2" cy="383.1" r="0.6" fill="#d8f4b0" opacity="0.8"/>
<path d="M381.8 396.9Q384.0 405.0 385.1 409.6Q386.2 414.3 386.9 419.1Q387.5 424.0 388.1 428.5L388.8 433.0" stroke="#c4b8a4" stroke-width="1.4" fill="none" stroke-linecap="round"/>
<path d="M388.8 433.0L389.0 438.7" stroke="#9c9080" stroke-width="0.9" fill="none" stroke-linecap="round"/>
<path d="M388.8 398.6Q390.5 405.6 388.8 410.0Q387.0 414.3 387.5 419.6L388.0 425.0" stroke="#9c9080" stroke-width="1.2" fill="none" stroke-linecap="round"/>
<path d="M390.5 405.6Q391.4 412.5 390.5 418.6L389.6 424.8" stroke="#7c7468" stroke-width="0.8" fill="none" stroke-linecap="round"/>
<path d="M443.9 396.0Q443.9 385.4 444.7 369.8" stroke="#6f8f3a" stroke-width="0.7" fill="none" opacity="0.6"/>
<path d="M442.4 396.0Q447.9 386.7 450.8 372.4" stroke="#6f8f3a" stroke-width="0.7" fill="none" opacity="0.6"/>
<path d="M443.3 396.0Q438.2 388.9 435.9 376.8" stroke="#6f8f3a" stroke-width="0.7" fill="none" opacity="0.6"/>
<path d="M442.0 396.0Q434.8 391.1 430.7 381.2" stroke="#6f8f3a" stroke-width="0.7" fill="none" opacity="0.6"/>
<path d="M442.4 396.0Q432.6 392.9 427.2 384.7" stroke="#6f8f3a" stroke-width="0.7" fill="none" opacity="0.6"/>
<path d="M442.5 396.0Q443.9 391.1 444.7 381.2" stroke="#6f8f3a" stroke-width="0.7" fill="none" opacity="0.6"/>
<path d="M442.3 396.0Q454.7 391.9 461.2 382.9" stroke="#6f8f3a" stroke-width="0.7" fill="none" opacity="0.6"/>
<path d="M442.8 396.0Q451.9 393.7 456.9 386.4" stroke="#6f8f3a" stroke-width="0.7" fill="none" opacity="0.6"/>
<path d="M441.0 396.0Q440.5 395.4 439.4 389.9" stroke="#6f8f3a" stroke-width="0.7" fill="none" opacity="0.6"/>
<path d="M443.1 396.0Q437.1 393.2 434.2 385.5" stroke="#6f8f3a" stroke-width="0.7" fill="none" opacity="0.6"/>
<path d="M443.5 396.0Q439.6 387.8 438.0 374.5" stroke="#6f8f3a" stroke-width="0.7" fill="none" opacity="0.6"/>
<path d="M441.5 396.0Q445.8 388.8 447.5 376.5" stroke="#6f8f3a" stroke-width="0.7" fill="none" opacity="0.6"/>
<path d="M442.4 396.0Q449.0 390.5 452.5 380.0" stroke="#6f8f3a" stroke-width="0.7" fill="none" opacity="0.6"/>
<ellipse cx="443.4" cy="371.2" rx="1.9" ry="1.3" fill="#86d046" transform="rotate(92 443.4 371.2)"/>
<ellipse cx="446.6" cy="370.0" rx="2.1" ry="1.5" fill="#66a834" transform="rotate(103 446.6 370.0)"/>
<ellipse cx="445.2" cy="371.2" rx="1.6" ry="1.1" fill="#9bdc5a" transform="rotate(50 445.2 371.2)"/>
<circle cx="443.9" cy="370.3" r="0.6" fill="#d8f4b0" opacity="0.8"/>
<ellipse cx="451.3" cy="371.2" rx="2.2" ry="1.5" fill="#aee66e" transform="rotate(125 451.3 371.2)"/>
<ellipse cx="451.0" cy="370.7" rx="1.7" ry="1.2" fill="#74c03a" transform="rotate(13 451.0 370.7)"/>
<circle cx="450.5" cy="372.3" r="0.6" fill="#d8f4b0" opacity="0.8"/>
<ellipse cx="437.4" cy="375.5" rx="2.2" ry="1.5" fill="#86d046" transform="rotate(42 437.4 375.5)"/>
<ellipse cx="437.4" cy="376.3" rx="1.6" ry="1.1" fill="#66a834" transform="rotate(103 437.4 376.3)"/>
<circle cx="436.0" cy="376.6" r="0.6" fill="#d8f4b0" opacity="0.8"/>
<ellipse cx="429.7" cy="379.9" rx="2.1" ry="1.4" fill="#aee66e" transform="rotate(4 429.7 379.9)"/>
<ellipse cx="429.4" cy="380.1" rx="1.6" ry="1.1" fill="#66a834" transform="rotate(91 429.4 380.1)"/>
<ellipse cx="430.8" cy="379.6" rx="1.3" ry="0.9" fill="#9bdc5a" transform="rotate(45 430.8 379.6)"/>
<circle cx="431.5" cy="381.3" r="0.6" fill="#d8f4b0" opacity="0.8"/>
<ellipse cx="426.0" cy="385.4" rx="2.1" ry="1.5" fill="#86d046" transform="rotate(115 426.0 385.4)"/>
<ellipse cx="427.5" cy="383.9" rx="1.9" ry="1.3" fill="#86d046" transform="rotate(70 427.5 383.9)"/>
<ellipse cx="428.4" cy="384.2" rx="2.3" ry="1.6" fill="#66a834" transform="rotate(98 428.4 384.2)"/>
<circle cx="427.4" cy="384.6" r="0.6" fill="#d8f4b0" opacity="0.8"/>
<ellipse cx="443.4" cy="381.9" rx="1.9" ry="1.3" fill="#9bdc5a" transform="rotate(95 443.4 381.9)"/>
<ellipse cx="443.6" cy="381.3" rx="2.2" ry="1.6" fill="#9bdc5a" transform="rotate(5 443.6 381.3)"/>
<ellipse cx="444.9" cy="379.7" rx="1.9" ry="1.4" fill="#66a834" transform="rotate(136 444.9 379.7)"/>
<circle cx="444.5" cy="382.0" r="0.6" fill="#d8f4b0" opacity="0.8"/>
<ellipse cx="460.0" cy="383.8" rx="2.0" ry="1.4" fill="#9bdc5a" transform="rotate(13 460.0 383.8)"/>
<ellipse cx="462.3" cy="382.2" rx="1.8" ry="1.2" fill="#74c03a" transform="rotate(8 462.3 382.2)"/>
<ellipse cx="462.6" cy="383.9" rx="2.2" ry="1.5" fill="#74c03a" transform="rotate(176 462.6 383.9)"/>
<circle cx="461.8" cy="383.1" r="0.6" fill="#d8f4b0" opacity="0.8"/>
<ellipse cx="458.1" cy="386.8" rx="1.4" ry="1.0" fill="#86d046" transform="rotate(64 458.1 386.8)"/>
<ellipse cx="457.6" cy="387.4" rx="1.4" ry="1.0" fill="#66a834" transform="rotate(82 457.6 387.4)"/>
<circle cx="456.4" cy="386.6" r="0.6" fill="#d8f4b0" opacity="0.8"/>
<ellipse cx="438.3" cy="391.2" rx="2.1" ry="1.5" fill="#74c03a" transform="rotate(171 438.3 391.2)"/>
<ellipse cx="439.3" cy="388.8" rx="1.4" ry="1.0" fill="#9bdc5a" transform="rotate(141 439.3 388.8)"/>
<ellipse cx="438.5" cy="389.0" rx="1.6" ry="1.1" fill="#aee66e" transform="rotate(126 438.5 389.0)"/>
<circle cx="438.8" cy="389.5" r="0.6" fill="#d8f4b0" opacity="0.8"/>
<ellipse cx="434.6" cy="386.5" rx="2.3" ry="1.6" fill="#74c03a" transform="rotate(158 434.6 386.5)"/>
<ellipse cx="435.0" cy="385.7" rx="1.6" ry="1.1" fill="#66a834" transform="rotate(5 435.0 385.7)"/>
<circle cx="433.3" cy="384.9" r="0.6" fill="#d8f4b0" opacity="0.8"/>
<ellipse cx="438.8" cy="374.9" rx="2.0" ry="1.4" fill="#aee66e" transform="rotate(42 438.8 374.9)"/>
<ellipse cx="439.4" cy="374.3" rx="1.7" ry="1.2" fill="#9bdc5a" transform="rotate(62 439.4 374.3)"/>
<ellipse cx="437.9" cy="372.7" rx="1.4" ry="1.0" fill="#86d046" transform="rotate(81 437.9 372.7)"/>
<circle cx="438.6" cy="375.2" r="0.6" fill="#d8f4b0" opacity="0.8"/>
<ellipse cx="445.9" cy="377.1" rx="1.7" ry="1.2" fill="#74c03a" transform="rotate(66 445.9 377.1)"/>
<ellipse cx="446.4" cy="374.9" rx="1.6" ry="1.1" fill="#aee66e" transform="rotate(137 446.4 374.9)"/>
<circle cx="448.2" cy="375.9" r="0.6" fill="#d8f4b0" opacity="0.8"/>
<ellipse cx="451.9" cy="380.7" rx="2.2" ry="1.5" fill="#86d046" transform="rotate(98 451.9 380.7)"/>
<ellipse cx="451.2" cy="380.6" rx="2.1" ry="1.5" fill="#66a834" transform="rotate(54 451.2 380.6)"/>
<ellipse cx="452.6" cy="379.1" rx="1.5" ry="1.1" fill="#aee66e" transform="rotate(15 452.6 379.1)"/>
<circle cx="452.1" cy="380.4" r="0.6" fill="#d8f4b0" opacity="0.8"/>
<path d="M437.7 396.9Q438.5 407.3 440.7 412.6Q442.9 417.8 442.0 421.3L441.2 424.8" stroke="#c4b8a4" stroke-width="1.3" fill="none" stroke-linecap="round"/>
<path d="M451.6 389.9Q449.0 402.1 446.9 408.2Q444.7 414.3 445.5 419.6Q446.4 424.8 449.4 426.1L452.5 427.4" stroke="#c4b8a4" stroke-width="1.2" fill="none" stroke-linecap="round"/>
<path d="M443.8 396.9Q445.5 403.8 444.5 406.9L443.5 410.0" stroke="#9c9080" stroke-width="0.9" fill="none" stroke-linecap="round"/>
<path d="M441.2 424.8Q444.0 427.5 445.5 428.0L447.0 428.5" stroke="#9c9080" stroke-width="0.8" fill="none" stroke-linecap="round"/>
<path d="M502.9 392.0Q492.1 384.3 486.6 371.6" stroke="#6f8f3a" stroke-width="0.7" fill="none" opacity="0.6"/>
<path d="M501.6 392.0Q493.1 383.3 488.2 369.6" stroke="#6f8f3a" stroke-width="0.7" fill="none" opacity="0.6"/>
<path d="M501.2 392.0Q508.5 383.9 511.9 370.7" stroke="#6f8f3a" stroke-width="0.7" fill="none" opacity="0.6"/>
<path d="M501.9 392.0Q509.6 384.6 513.5 372.2" stroke="#6f8f3a" stroke-width="0.7" fill="none" opacity="0.6"/>
<path d="M503.0 392.0Q496.1 387.4 492.7 377.7" stroke="#6f8f3a" stroke-width="0.7" fill="none" opacity="0.6"/>
<path d="M501.9 392.0Q504.0 387.4 504.9 377.7" stroke="#6f8f3a" stroke-width="0.7" fill="none" opacity="0.6"/>
<path d="M501.2 392.0Q495.5 389.9 491.8 382.9" stroke="#6f8f3a" stroke-width="0.7" fill="none" opacity="0.6"/>
<path d="M502.9 392.0Q501.7 390.4 501.4 383.8" stroke="#6f8f3a" stroke-width="0.7" fill="none" opacity="0.6"/>
<path d="M502.5 392.0Q505.7 390.4 507.5 383.8" stroke="#6f8f3a" stroke-width="0.7" fill="none" opacity="0.6"/>
<path d="M503.6 392.0Q499.4 392.6 497.9 388.1" stroke="#6f8f3a" stroke-width="0.7" fill="none" opacity="0.6"/>
<path d="M503.6 392.0Q503.4 393.0 504.0 389.0" stroke="#6f8f3a" stroke-width="0.7" fill="none" opacity="0.6"/>
<path d="M503.5 392.0Q500.8 388.8 500.0 380.5" stroke="#6f8f3a" stroke-width="0.7" fill="none" opacity="0.6"/>
<ellipse cx="484.6" cy="371.2" rx="1.8" ry="1.2" fill="#74c03a" transform="rotate(72 484.6 371.2)"/>
<ellipse cx="488.3" cy="370.9" rx="1.5" ry="1.1" fill="#9bdc5a" transform="rotate(149 488.3 370.9)"/>
<ellipse cx="488.2" cy="371.8" rx="1.9" ry="1.3" fill="#74c03a" transform="rotate(133 488.2 371.8)"/>
<circle cx="486.3" cy="371.4" r="0.6" fill="#d8f4b0" opacity="0.8"/>
<ellipse cx="489.0" cy="368.3" rx="1.5" ry="1.0" fill="#66a834" transform="rotate(159 489.0 368.3)"/>
<ellipse cx="488.0" cy="370.4" rx="1.8" ry="1.3" fill="#aee66e" transform="rotate(29 488.0 370.4)"/>
<circle cx="487.8" cy="368.6" r="0.6" fill="#d8f4b0" opacity="0.8"/>
<ellipse cx="513.2" cy="371.3" rx="2.1" ry="1.5" fill="#86d046" transform="rotate(60 513.2 371.3)"/>
<ellipse cx="511.8" cy="371.6" rx="1.6" ry="1.1" fill="#86d046" transform="rotate(114 511.8 371.6)"/>
<ellipse cx="512.9" cy="372.0" rx="1.9" ry="1.4" fill="#74c03a" transform="rotate(128 512.9 372.0)"/>
<circle cx="511.9" cy="371.5" r="0.6" fill="#d8f4b0" opacity="0.8"/>
<ellipse cx="513.6" cy="370.9" rx="1.6" ry="1.1" fill="#9bdc5a" transform="rotate(121 513.6 370.9)"/>
<ellipse cx="512.1" cy="372.3" rx="2.0" ry="1.4" fill="#aee66e" transform="rotate(165 512.1 372.3)"/>
<ellipse cx="512.0" cy="373.2" rx="2.0" ry="1.4" fill="#86d046" transform="rotate(145 512.0 373.2)"/>
<circle cx="514.2" cy="373.0" r="0.6" fill="#d8f4b0" opacity="0.8"/>
<ellipse cx="491.8" cy="376.6" rx="2.0" ry="1.4" fill="#86d046" transform="rotate(76 491.8 376.6)"/>
<ellipse cx="491.8" cy="378.2" rx="2.0" ry="1.4" fill="#66a834" transform="rotate(123 491.8 378.2)"/>
<ellipse cx="492.2" cy="378.8" rx="1.8" ry="1.3" fill="#9bdc5a" transform="rotate(175 492.2 378.8)"/>
<circle cx="491.8" cy="377.3" r="0.6" fill="#d8f4b0" opacity="0.8"/>
<ellipse cx="504.6" cy="378.6" rx="2.2" ry="1.6" fill="#86d046" transform="rotate(136 504.6 378.6)"/>
<ellipse cx="506.3" cy="377.8" rx="2.1" ry="1.5" fill="#9bdc5a" transform="rotate(20 506.3 377.8)"/>
<circle cx="504.3" cy="377.1" r="0.6" fill="#d8f4b0" opacity="0.8"/>
<ellipse cx="490.7" cy="382.1" rx="1.8" ry="1.3" fill="#66a834" transform="rotate(33 490.7 382.1)"/>
<ellipse cx="491.6" cy="383.9" rx="2.1" ry="1.4" fill="#9bdc5a" transform="rotate(113 491.6 383.9)"/>
<circle cx="492.7" cy="383.0" r="0.6" fill="#d8f4b0" opacity="0.8"/>
<ellipse cx="500.1" cy="383.9" rx="2.3" ry="1.6" fill="#aee66e" transform="rotate(139 500.1 383.9)"/>
<ellipse cx="502.9" cy="384.8" rx="1.7" ry="1.2" fill="#74c03a" transform="rotate(171 502.9 384.8)"/>
<ellipse cx="501.8" cy="382.6" rx="1.8" ry="1.3" fill="#aee66e" transform="rotate(139 501.8 382.6)"/>
<circle cx="502.0" cy="382.9" r="0.6" fill="#d8f4b0" opacity="0.8"/>
<ellipse cx="508.9" cy="382.6" rx="2.2" ry="1.5" fill="#66a834" transform="rotate(143 508.9 382.6)"/>
<ellipse cx="507.2" cy="382.3" rx="1.5" ry="1.0" fill="#74c03a" transform="rotate(139 507.2 382.3)"/>
<circle cx="506.8" cy="384.6" r="0.6" fill="#d8f4b0" opacity="0.8"/>
<ellipse cx="499.0" cy="389.3" rx="1.9" ry="1.3" fill="#aee66e" transform="rotate(96 499.0 389.3)"/>
<ellipse cx="498.9" cy="389.5" rx="1.3" ry="0.9" fill="#74c03a" transform="rotate(148 498.9 389.5)"/>
<ellipse cx="498.9" cy="388.7" rx="2.0" ry="1.4" fill="#86d046" transform="rotate(160 498.9 388.7)"/>
<circle cx="498.3" cy="387.3" r="0.6" fill="#d8f4b0" opacity="0.8"/>
<ellipse cx="502.4" cy="388.1" rx="1.6" ry="1.1" fill="#74c03a" transform="rotate(75 502.4 388.1)"/>
<ellipse cx="504.8" cy="388.5" rx="2.1" ry="1.5" fill="#74c03a" transform="rotate(7 504.8 388.5)"/>
<ellipse cx="502.8" cy="389.7" rx="2.2" ry="1.6" fill="#9bdc5a" transform="rotate(57 502.8 389.7)"/>
<circle cx="503.8" cy="389.1" r="0.6" fill="#d8f4b0" opacity="0.8"/>
<ellipse cx="499.6" cy="379.7" rx="1.4" ry="1.0" fill="#74c03a" transform="rotate(19 499.6 379.7)"/>
<ellipse cx="498.9" cy="381.3" rx="2.3" ry="1.6" fill="#86d046" transform="rotate(118 498.9 381.3)"/>
<ellipse cx="501.2" cy="380.6" rx="2.0" ry="1.4" fill="#74c03a" transform="rotate(53 501.2 380.6)"/>
<circle cx="499.2" cy="381.0" r="0.6" fill="#d8f4b0" opacity="0.8"/>
<path d="M501.0 392.0Q503.5 400.0 502.5 404.0Q501.5 408.0 503.0 411.5Q504.5 415.0 505.1 417.2L505.8 419.5" stroke="#c4b8a4" stroke-width="1.3" fill="none" stroke-linecap="round"/>
<path d="M504.0 392.0Q502.0 399.0 503.8 402.5Q505.5 406.0 504.2 409.5Q503.0 413.0 504.5 416.0L506.0 419.0" stroke="#c4b8a4" stroke-width="1.2" fill="none" stroke-linecap="round"/>
<path d="M505.8 419.5Q508.0 424.0 509.5 426.1L511.0 428.3" stroke="#9c9080" stroke-width="0.8" fill="none" stroke-linecap="round"/>
<path d="M502.5 394.0Q505.0 402.0 505.8 406.0L506.5 410.0" stroke="#7c7468" stroke-width="0.8" fill="none" stroke-linecap="round"/>
</g>
<rect x="505.6" y="494" width="9.6" height="2.8" fill="#f4f4f4"/>
<path d="M578.5 312.2V451.6" stroke="#111" stroke-width="1.6" fill="none"/>
<path d="M577.7 450.8H786" stroke="#111" stroke-width="1.6" fill="none"/>
<path d="M578.5 450.8h-4.6" stroke="#111" stroke-width="1.5"/>
<text x="571.8" y="454.6" font-size="12.5" text-anchor="end" font-weight="normal" fill="#141414">0</text>
<path d="M578.5 416.4h-4.6" stroke="#111" stroke-width="1.5"/>
<text x="571.8" y="420.2" font-size="12.5" text-anchor="end" font-weight="normal" fill="#141414">10</text>
<path d="M578.5 381.9h-4.6" stroke="#111" stroke-width="1.5"/>
<text x="571.8" y="385.7" font-size="12.5" text-anchor="end" font-weight="normal" fill="#141414">20</text>
<path d="M578.5 347.5h-4.6" stroke="#111" stroke-width="1.5"/>
<text x="571.8" y="351.3" font-size="12.5" text-anchor="end" font-weight="normal" fill="#141414">30</text>
<path d="M578.5 313.0h-4.6" stroke="#111" stroke-width="1.5"/>
<text x="571.8" y="316.8" font-size="12.5" text-anchor="end" font-weight="normal" fill="#141414">40</text>
<text transform="translate(549.4 377.5) rotate(-90)" font-size="12" text-anchor="middle" fill="#141414">Nodule number/plant</text>
<rect x="585.7" y="388.7" width="8.4" height="61.4" fill="#fff" stroke="#1a1ad2" stroke-width="1.9"/>
<path d="M589.9 379.8V395.7M587.7 379.8h4.4M587.7 395.7h4.4" stroke="#1a1ad2" stroke-width="1.6" fill="none"/>
<path d="M590.5 319.9h0M590.5 337.1h0M590.3 350.9h0M590.6 361.2h0M589.3 368.1h0M592.3 368.1h0M590.7 375.0h0M590.3 388.8h0M590.7 392.2h0M590.4 395.7h0M590.0 399.1h0M589.2 402.6h0M589.3 406.0h0M589.7 409.5h0M591.4 409.5h0M589.6 416.4h0M589.5 419.8h0" stroke="#1a1ad2" stroke-width="2.9" stroke-linecap="round" fill="none"/>
<path d="M589.9 450.8v5" stroke="#111" stroke-width="1.5"/>
<text transform="translate(587.7 466.6) rotate(-40)" font-size="11.3" text-anchor="end" fill="#141414">EV</text>
<text x="586.9" y="314.5" font-size="11" text-anchor="start" font-weight="normal" fill="#141414">a</text>
<rect x="601.0" y="433.4" width="8.4" height="16.7" fill="#fff" stroke="#1a1ad2" stroke-width="1.9"/>
<path d="M605.2 429.1V436.0M603.0 429.1h4.4M603.0 436.0h4.4" stroke="#1a1ad2" stroke-width="1.6" fill="none"/>
<path d="M605.1 399.1h0M605.5 409.5h0M605.1 416.4h0M605.0 423.2h0M606.7 423.2h0M605.4 426.7h0M604.5 430.1h0M607.6 430.1h0M604.6 433.6h0M606.8 433.6h0M604.4 437.0h0M607.3 437.0h0M605.6 440.5h0M606.7 440.5h0M604.4 443.9h0M606.1 447.4h0M605.1 450.8h0" stroke="#1a1ad2" stroke-width="2.9" stroke-linecap="round" fill="none"/>
<path d="M605.2 450.8v5" stroke="#111" stroke-width="1.5"/>
<text transform="translate(603.0 469.6) rotate(-40)" font-size="11.3" text-anchor="end" fill="#141414">MtFERi-1</text>
<text x="603.1" y="388.3" font-size="11" text-anchor="start" font-weight="normal" fill="#141414">b</text>
<rect x="616.0" y="425.2" width="8.4" height="24.9" fill="#fff" stroke="#1a1ad2" stroke-width="1.9"/>
<path d="M620.2 417.4V431.2M618.0 417.4h4.4M618.0 431.2h4.4" stroke="#1a1ad2" stroke-width="1.6" fill="none"/>
<path d="M620.7 368.1h0M619.9 381.9h0M623.0 381.9h0M621.0 402.6h0M619.6 409.5h0M621.9 409.5h0M619.6 423.2h0M620.5 426.7h0M620.2 430.1h0M621.0 433.6h0M620.4 437.0h0M620.6 440.5h0M620.4 443.9h0M619.9 447.4h0M620.7 450.8h0" stroke="#1a1ad2" stroke-width="2.9" stroke-linecap="round" fill="none"/>
<path d="M620.2 450.8v5" stroke="#111" stroke-width="1.5"/>
<text transform="translate(619.0 469.6) rotate(-40)" font-size="11.3" text-anchor="end" fill="#141414">MtFERi-2</text>
<text x="617.6" y="363" font-size="11" text-anchor="start" font-weight="normal" fill="#141414">b</text>
<rect x="630.9" y="426.6" width="8.4" height="23.5" fill="#fff" stroke="#1a1ad2" stroke-width="1.9"/>
<path d="M635.1 420.1V431.2M632.9 420.1h4.4M632.9 431.2h4.4" stroke="#1a1ad2" stroke-width="1.6" fill="none"/>
<path d="M634.6 385.3h0M636.0 395.7h0M635.2 402.6h0M634.7 406.0h0M634.5 409.5h0M634.8 419.8h0M635.0 423.2h0M635.2 426.7h0M634.6 430.1h0M634.8 433.6h0M634.7 437.0h0M634.4 440.5h0M635.5 443.9h0M634.7 447.4h0" stroke="#1a1ad2" stroke-width="2.9" stroke-linecap="round" fill="none"/>
<path d="M635.1 450.8v5" stroke="#111" stroke-width="1.5"/>
<text transform="translate(635.4 469.6) rotate(-40)" font-size="11.3" text-anchor="end" fill="#141414">MtFERi-3</text>
<text x="632.5" y="380" font-size="11" text-anchor="start" font-weight="normal" fill="#141414">b</text>
<rect x="655.8" y="407.9" width="8.4" height="42.2" fill="#fff" stroke="#e21f1f" stroke-width="1.9"/>
<path d="M660.0 401.5V412.6M657.8 401.5h4.4M657.8 412.6h4.4" stroke="#e21f1f" stroke-width="1.6" fill="none"/>
<path d="M660.1 361.2h0M659.6 378.5h0M659.5 381.9h0M660.2 388.8h0M660.0 395.7h0M660.1 399.1h0M659.5 402.6h0M660.8 406.0h0M660.9 409.5h0M660.4 412.9h0M660.8 416.4h0M660.1 419.8h0M659.1 423.2h0M662.5 423.2h0M660.5 426.7h0M659.3 430.1h0" stroke="#e21f1f" stroke-width="2.9" stroke-linecap="round" fill="none"/>
<path d="M660.0 450.8v5" stroke="#111" stroke-width="1.5"/>
<text transform="translate(663.8 467.1) rotate(-40)" font-size="11.3" text-anchor="end" fill="#141414">EV</text>
<text x="655.9" y="354.3" font-size="11" text-anchor="start" font-weight="normal" fill="#141414">a'</text>
<rect x="671.2" y="436.9" width="8.4" height="13.2" fill="#fff" stroke="#e21f1f" stroke-width="1.9"/>
<path d="M675.4 432.2V439.8M673.2 432.2h4.4M673.2 439.8h4.4" stroke="#e21f1f" stroke-width="1.6" fill="none"/>
<path d="M675.4 399.1h0M675.3 412.9h0M675.1 423.2h0M676.9 423.2h0M676.1 426.7h0M675.0 433.6h0M676.1 437.0h0M677.5 437.0h0M675.8 440.5h0M677.1 440.5h0M675.5 443.9h0M677.7 443.9h0M674.6 447.4h0M678.3 447.4h0M674.8 450.8h0" stroke="#e21f1f" stroke-width="2.9" stroke-linecap="round" fill="none"/>
<path d="M675.4 450.8v5" stroke="#111" stroke-width="1.5"/>
<text transform="translate(678.7 469.6) rotate(-40)" font-size="11.3" text-anchor="end" fill="#141414">MtFERi-1</text>
<text x="673.4" y="391.3" font-size="11" text-anchor="start" font-weight="normal" fill="#141414">b'</text>
<rect x="686.0" y="433.4" width="8.4" height="16.7" fill="#fff" stroke="#e21f1f" stroke-width="1.9"/>
<path d="M690.2 427.4V437.7M688.0 427.4h4.4M688.0 437.7h4.4" stroke="#e21f1f" stroke-width="1.6" fill="none"/>
<path d="M690.6 388.8h0M690.9 399.1h0M689.9 402.6h0M689.6 409.5h0M691.0 426.7h0M689.3 430.1h0M690.5 433.6h0M692.2 433.6h0M690.7 437.0h0M690.0 440.5h0M691.8 440.5h0M690.4 443.9h0M690.8 447.4h0M690.1 450.8h0" stroke="#e21f1f" stroke-width="2.9" stroke-linecap="round" fill="none"/>
<path d="M690.2 450.8v5" stroke="#111" stroke-width="1.5"/>
<text transform="translate(694.8 469.6) rotate(-40)" font-size="11.3" text-anchor="end" fill="#141414">MtFERi-2</text>
<text x="688.9" y="381.6" font-size="11" text-anchor="start" font-weight="normal" fill="#141414">b'</text>
<rect x="701.1" y="435.2" width="8.4" height="14.9" fill="#fff" stroke="#e21f1f" stroke-width="1.9"/>
<path d="M705.3 430.8V437.7M703.1 430.8h4.4M703.1 437.7h4.4" stroke="#e21f1f" stroke-width="1.6" fill="none"/>
<path d="M705.1 406.0h0M705.8 412.9h0M706.1 416.4h0M706.2 419.8h0M704.6 423.2h0M705.8 430.1h0M705.9 433.6h0M708.2 433.6h0M705.5 437.0h0M707.8 437.0h0M705.8 440.5h0M704.7 443.9h0M707.3 443.9h0M704.5 447.4h0" stroke="#e21f1f" stroke-width="2.9" stroke-linecap="round" fill="none"/>
<path d="M705.3 450.8v5" stroke="#111" stroke-width="1.5"/>
<text transform="translate(712.6 470.1) rotate(-40)" font-size="11.3" text-anchor="end" fill="#141414">MtFERi-3</text>
<text x="703.4" y="399" font-size="11" text-anchor="start" font-weight="normal" fill="#141414">b</text>
<rect x="726.6" y="431.7" width="8.4" height="18.4" fill="#fff" stroke="#e51f96" stroke-width="1.9"/>
<path d="M730.8 427.0V434.6M728.6 427.0h4.4M728.6 434.6h4.4" stroke="#e51f96" stroke-width="1.6" fill="none"/>
<path d="M730.9 392.2h0M730.1 423.2h0M732.8 423.2h0M730.5 426.7h0M732.3 426.7h0M730.3 430.1h0M733.8 430.1h0M730.0 433.6h0M733.5 433.6h0M731.2 437.0h0M731.3 440.5h0M732.8 440.5h0M730.8 443.9h0M730.1 447.4h0" stroke="#e51f96" stroke-width="2.9" stroke-linecap="round" fill="none"/>
<path d="M730.8 450.8v5" stroke="#111" stroke-width="1.5"/>
<text transform="translate(734.3 467.6) rotate(-40)" font-size="11.3" text-anchor="end" fill="#141414">EV</text>
<text x="726.7" y="384.5" font-size="11" text-anchor="start" font-weight="normal" fill="#141414">a&quot;</text>
<rect x="741.7" y="448.6" width="8.4" height="1.5" fill="#fff" stroke="#e51f96" stroke-width="1.9"/>
<path d="M745.9 446.0V449.4M743.7 446.0h4.4M743.7 449.4h4.4" stroke="#e51f96" stroke-width="1.6" fill="none"/>
<path d="M745.6 433.6h0M746.6 440.5h0M746.6 443.9h0M748.2 443.9h0M745.7 447.4h0M747.7 447.4h0M744.4 447.4h0M745.8 450.8h0M748.8 450.8h0M744.0 450.8h0M749.9 450.8h0" stroke="#e51f96" stroke-width="2.9" stroke-linecap="round" fill="none"/>
<path d="M745.9 450.8v5" stroke="#111" stroke-width="1.5"/>
<text transform="translate(751.7 470.6) rotate(-40)" font-size="11.3" text-anchor="end" fill="#141414">MtFERi-1</text>
<text x="743.8" y="426.3" font-size="11" text-anchor="start" font-weight="normal" fill="#141414">b&quot;</text>
<rect x="756.7" y="443.8" width="8.4" height="6.3" fill="#fff" stroke="#e51f96" stroke-width="1.9"/>
<path d="M760.9 440.5V445.3M758.7 440.5h4.4M758.7 445.3h4.4" stroke="#e51f96" stroke-width="1.6" fill="none"/>
<path d="M760.2 430.1h0M762.4 430.1h0M761.7 433.6h0M762.8 433.6h0M760.9 440.5h0M760.8 443.9h0M762.2 443.9h0M761.6 447.4h0M762.7 447.4h0M761.1 450.8h0M763.0 450.8h0" stroke="#e51f96" stroke-width="2.9" stroke-linecap="round" fill="none"/>
<path d="M760.9 450.8v5" stroke="#111" stroke-width="1.5"/>
<text transform="translate(768.7 470.6) rotate(-40)" font-size="11.3" text-anchor="end" fill="#141414">MtFERi-2</text>
<text x="756.2" y="409.5" font-size="11" text-anchor="start" font-weight="normal" fill="#141414">b&quot;</text>
<rect x="771.8" y="443.1" width="8.4" height="7.0" fill="#fff" stroke="#e51f96" stroke-width="1.9"/>
<path d="M776.0 439.4V444.9M773.8 439.4h4.4M773.8 444.9h4.4" stroke="#e51f96" stroke-width="1.6" fill="none"/>
<path d="M775.8 416.4h0M775.7 433.6h0M778.7 433.6h0M776.7 437.0h0M776.7 440.5h0M777.7 440.5h0M776.6 443.9h0M777.7 443.9h0M776.7 447.4h0M779.1 447.4h0M776.0 450.8h0M777.5 450.8h0" stroke="#e51f96" stroke-width="2.9" stroke-linecap="round" fill="none"/>
<path d="M776.0 450.8v5" stroke="#111" stroke-width="1.5"/>
<text transform="translate(786.6 470.2) rotate(-40)" font-size="11.3" text-anchor="end" fill="#141414">MtFERi-3</text>
<text x="772.9" y="409.5" font-size="11" text-anchor="start" font-weight="normal" fill="#141414">b&quot;</text>
<circle cx="701.7" cy="307" r="1.5" fill="#1a1ad2"/>
<circle cx="701.7" cy="319" r="1.5" fill="#e21f1f"/>
<circle cx="701.7" cy="331.3" r="1.5" fill="#e51f96"/>
<text x="710.6" y="310.6" font-size="11.6" text-anchor="start" font-weight="normal" fill="#141414">Total nodules</text>
<text x="710.6" y="323.6" font-size="11.6" text-anchor="start" font-weight="normal" fill="#141414">Pink nodules</text>
<text x="711.8" y="336.8" font-size="11.6" text-anchor="start" font-weight="normal" fill="#141414">White nodules</text>
</svg>
</body></html>
